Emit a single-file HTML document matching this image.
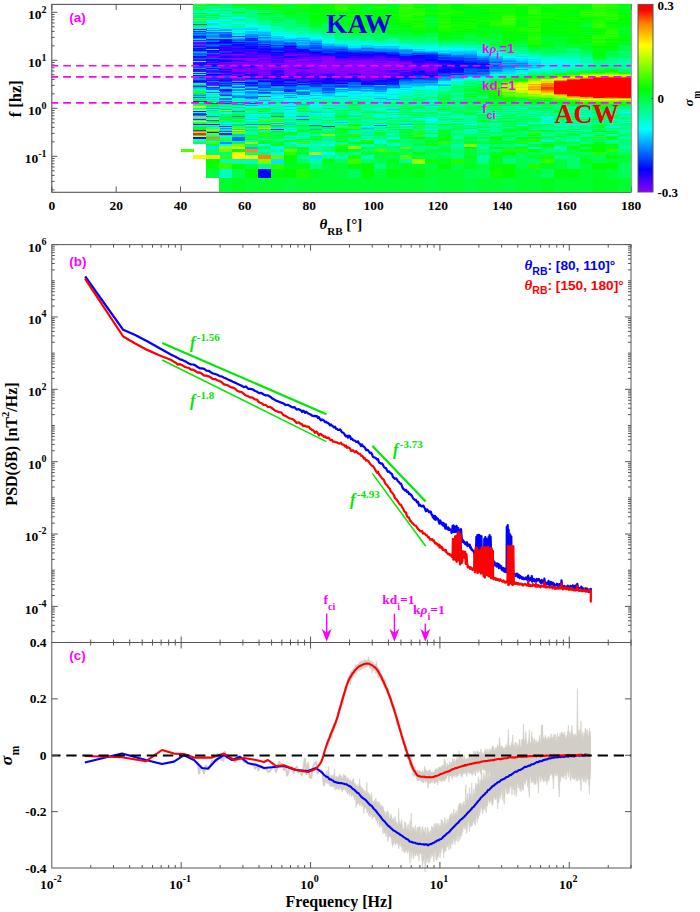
<!DOCTYPE html>
<html><head><meta charset="utf-8"><title>fig</title>
<style>html,body{margin:0;padding:0;background:#fff}svg{display:block}text{white-space:pre}</style>
</head><body>
<svg width="700" height="912" viewBox="0 0 700 912">
<rect width="700" height="912" fill="#fff"/>
<path d="M51.80 192.00v-5.5M51.80 4.40v5.5M116.16 192.00v-5.5M116.16 4.40v5.5M180.51 192.00v-5.5M180.51 4.40v5.5M244.87 192.00v-5.5M244.87 4.40v5.5M309.22 192.00v-5.5M309.22 4.40v5.5M373.58 192.00v-5.5M373.58 4.40v5.5M437.93 192.00v-5.5M437.93 4.40v5.5M502.29 192.00v-5.5M502.29 4.40v5.5M566.64 192.00v-5.5M566.64 4.40v5.5M631.00 192.00v-5.5M631.00 4.40v5.5M51.80 189.85h2.8M51.80 181.40h2.8M51.80 175.40h2.8M51.80 170.75h2.8M51.80 166.95h2.8M51.80 163.74h2.8M51.80 160.95h2.8M51.80 158.50h2.8M51.80 156.30h5.5M51.80 141.85h2.8M51.80 133.40h2.8M51.80 127.40h2.8M51.80 122.75h2.8M51.80 118.95h2.8M51.80 115.74h2.8M51.80 112.95h2.8M51.80 110.50h2.8M51.80 108.30h5.5M51.80 93.85h2.8M51.80 85.40h2.8M51.80 79.40h2.8M51.80 74.75h2.8M51.80 70.95h2.8M51.80 67.74h2.8M51.80 64.95h2.8M51.80 62.50h2.8M51.80 60.30h5.5M51.80 45.85h2.8M51.80 37.40h2.8M51.80 31.40h2.8M51.80 26.75h2.8M51.80 22.95h2.8M51.80 19.74h2.8M51.80 16.95h2.8M51.80 14.50h2.8M51.80 12.30h5.5" stroke="#555555" stroke-width="1" fill="none"/>
<rect x="51.80" y="4.40" width="579.20" height="187.90" fill="none" stroke="#555555" stroke-width="1.1"/>
<g shape-rendering="crispEdges"><path fill="#fff700" d="M193.4 154.7h13.2v4.1h-13.2zM232.0 154.7h13.2v4.1h-13.2zM515.2 88.8h13.2v1.3h-13.2zM592.4 98.8h13.2v1.3h-13.2zM618.1 98.8h13.2v1.3h-13.2z"/><path fill="#00ff68" d="M193.4 142.1h13.2v2.3h-13.2zM193.4 18.8h13.2v1.3h-13.2zM206.3 151.5h13.2v3.5h-13.2zM206.3 148.7h13.2v3.1h-13.2zM206.3 111.8h13.2v1.3h-13.2zM206.3 93.8h13.2v1.3h-13.2zM206.3 7.8h13.2v1.3h-13.2zM206.3 6.8h13.2v1.3h-13.2zM219.1 113.8h13.2v1.3h-13.2zM219.1 95.8h13.2v1.3h-13.2zM219.1 5.8h13.2v1.3h-13.2zM232.0 119.8h13.2v1.3h-13.2zM232.0 111.8h13.2v1.3h-13.2zM232.0 19.8h13.2v1.3h-13.2zM244.9 137.0h13.2v1.8h-13.2zM244.9 122.8h13.2v1.3h-13.2zM244.9 107.8h13.2v1.3h-13.2zM244.9 15.8h13.2v1.3h-13.2zM244.9 10.8h13.2v1.3h-13.2zM257.7 16.8h13.2v1.3h-13.2zM257.7 15.8h13.2v1.3h-13.2zM270.6 140.2h13.2v2.1h-13.2zM270.6 23.8h13.2v1.3h-13.2zM283.5 118.8h13.2v1.3h-13.2zM283.5 22.8h13.2v1.3h-13.2zM296.4 158.5h13.2v5.0h-13.2zM296.4 106.8h13.2v1.3h-13.2zM296.4 105.8h13.2v1.3h-13.2zM296.4 23.8h13.2v1.3h-13.2zM309.2 133.0h13.2v1.6h-13.2zM309.2 126.8h13.2v1.3h-13.2zM309.2 29.8h13.2v1.3h-13.2zM322.1 148.7h13.2v3.1h-13.2zM322.1 135.6h13.2v1.7h-13.2zM322.1 133.0h13.2v1.6h-13.2zM322.1 31.8h13.2v1.3h-13.2zM322.1 27.8h13.2v1.3h-13.2zM335.0 151.5h13.2v3.5h-13.2zM335.0 134.2h13.2v1.6h-13.2zM335.0 123.8h13.2v1.3h-13.2zM335.0 112.8h13.2v1.3h-13.2zM335.0 28.8h13.2v1.3h-13.2zM347.8 137.0h13.2v1.8h-13.2zM347.8 119.8h13.2v1.3h-13.2zM347.8 114.8h13.2v1.3h-13.2zM347.8 109.8h13.2v1.3h-13.2zM347.8 106.8h13.2v1.3h-13.2zM360.7 158.5h13.2v5.0h-13.2zM360.7 148.7h13.2v3.1h-13.2zM360.7 131.8h13.2v1.5h-13.2zM360.7 124.8h13.2v1.3h-13.2zM360.7 117.8h13.2v1.3h-13.2zM360.7 35.8h13.2v1.3h-13.2zM373.6 129.8h13.2v1.3h-13.2zM373.6 110.8h13.2v1.3h-13.2zM373.6 38.8h13.2v1.3h-13.2zM373.6 34.8h13.2v1.3h-13.2zM386.4 138.6h13.2v2.0h-13.2zM386.4 135.6h13.2v1.7h-13.2zM386.4 122.8h13.2v1.3h-13.2zM399.3 142.1h13.2v2.3h-13.2zM399.3 125.8h13.2v1.3h-13.2zM399.3 122.8h13.2v1.3h-13.2zM399.3 110.8h13.2v1.3h-13.2zM412.2 148.7h13.2v3.1h-13.2zM412.2 127.8h13.2v1.3h-13.2zM412.2 119.8h13.2v1.3h-13.2zM412.2 112.8h13.2v1.3h-13.2zM412.2 107.8h13.2v1.3h-13.2zM412.2 99.8h13.2v1.3h-13.2zM412.2 37.8h13.2v1.3h-13.2zM425.1 114.8h13.2v1.3h-13.2zM425.1 103.8h13.2v1.3h-13.2zM425.1 38.8h13.2v1.3h-13.2zM425.1 37.8h13.2v1.3h-13.2zM437.9 144.0h13.2v2.5h-13.2zM437.9 116.8h13.2v1.3h-13.2zM437.9 106.8h13.2v1.3h-13.2zM437.9 105.8h13.2v1.3h-13.2zM437.9 93.8h13.2v1.3h-13.2zM437.9 92.8h13.2v1.3h-13.2zM437.9 42.8h13.2v1.3h-13.2zM450.8 151.5h13.2v3.5h-13.2zM450.8 148.7h13.2v3.1h-13.2zM450.8 142.1h13.2v2.3h-13.2zM450.8 133.0h13.2v1.6h-13.2zM450.8 126.8h13.2v1.3h-13.2zM450.8 120.8h13.2v1.3h-13.2zM450.8 112.8h13.2v1.3h-13.2zM450.8 109.8h13.2v1.3h-13.2zM450.8 99.8h13.2v1.3h-13.2zM450.8 42.8h13.2v1.3h-13.2zM463.7 135.6h13.2v1.7h-13.2zM463.7 134.2h13.2v1.6h-13.2zM463.7 109.8h13.2v1.3h-13.2zM463.7 104.8h13.2v1.3h-13.2zM463.7 97.8h13.2v1.3h-13.2zM463.7 96.8h13.2v1.3h-13.2zM463.7 91.8h13.2v1.3h-13.2zM463.7 83.8h13.2v1.3h-13.2zM463.7 42.8h13.2v1.3h-13.2zM476.5 148.7h13.2v3.1h-13.2zM476.5 121.8h13.2v1.3h-13.2zM476.5 118.8h13.2v1.3h-13.2zM476.5 109.8h13.2v1.3h-13.2zM476.5 85.8h13.2v1.3h-13.2zM476.5 80.8h13.2v1.3h-13.2zM489.4 112.8h13.2v1.3h-13.2zM489.4 105.8h13.2v1.3h-13.2zM489.4 46.8h13.2v1.3h-13.2zM489.4 45.8h13.2v1.3h-13.2zM502.3 116.8h13.2v1.3h-13.2zM502.3 115.8h13.2v1.3h-13.2zM502.3 101.8h13.2v1.3h-13.2zM502.3 49.8h13.2v1.3h-13.2zM515.2 122.8h13.2v1.3h-13.2zM515.2 113.8h13.2v1.3h-13.2zM515.2 112.8h13.2v1.3h-13.2zM515.2 102.8h13.2v1.3h-13.2zM515.2 100.8h13.2v1.3h-13.2zM515.2 49.8h13.2v1.3h-13.2zM515.2 46.8h13.2v1.3h-13.2zM528.0 130.8h13.2v1.3h-13.2zM528.0 126.8h13.2v1.3h-13.2zM528.0 115.8h13.2v1.3h-13.2zM528.0 109.8h13.2v1.3h-13.2zM528.0 51.8h13.2v1.3h-13.2zM528.0 50.8h13.2v1.3h-13.2zM540.9 131.8h13.2v1.5h-13.2zM540.9 127.8h13.2v1.3h-13.2zM540.9 114.8h13.2v1.3h-13.2zM540.9 111.8h13.2v1.3h-13.2zM540.9 72.8h13.2v1.3h-13.2zM540.9 52.8h13.2v1.3h-13.2zM553.8 140.2h13.2v2.1h-13.2zM553.8 138.6h13.2v2.0h-13.2zM553.8 126.8h13.2v1.3h-13.2zM553.8 117.8h13.2v1.3h-13.2zM553.8 108.8h13.2v1.3h-13.2zM553.8 107.8h13.2v1.3h-13.2zM553.8 106.8h13.2v1.3h-13.2zM566.6 163.1h13.2v6.3h-13.2zM566.6 158.5h13.2v5.0h-13.2zM566.6 154.7h13.2v4.1h-13.2zM566.6 144.0h13.2v2.5h-13.2zM566.6 122.8h13.2v1.3h-13.2zM566.6 116.8h13.2v1.3h-13.2zM566.6 47.8h13.2v1.3h-13.2zM579.5 146.2h13.2v2.8h-13.2zM579.5 131.8h13.2v1.5h-13.2zM579.5 127.8h13.2v1.3h-13.2zM579.5 120.8h13.2v1.3h-13.2zM579.5 106.8h13.2v1.3h-13.2zM579.5 53.8h13.2v1.3h-13.2zM579.5 52.8h13.2v1.3h-13.2zM592.4 114.8h13.2v1.3h-13.2zM592.4 112.8h13.2v1.3h-13.2zM592.4 65.8h13.2v1.3h-13.2zM605.3 107.8h13.2v1.3h-13.2zM605.3 106.8h13.2v1.3h-13.2zM605.3 67.8h13.2v1.3h-13.2zM605.3 56.8h13.2v1.3h-13.2zM618.1 140.2h13.2v2.1h-13.2zM618.1 127.8h13.2v1.3h-13.2zM618.1 123.8h13.2v1.3h-13.2zM618.1 107.8h13.2v1.3h-13.2zM618.1 68.8h13.2v1.3h-13.2zM618.1 53.8h13.2v1.3h-13.2zM618.1 51.8h13.2v1.3h-13.2zM618.1 50.8h13.2v1.3h-13.2z"/><path fill="#53ff00" d="M193.4 140.2h13.2v2.1h-13.2zM193.4 17.8h13.2v1.3h-13.2zM232.0 133.0h13.2v1.6h-13.2zM257.7 126.8h13.2v1.3h-13.2zM257.7 119.8h13.2v1.3h-13.2zM335.0 125.8h13.2v1.3h-13.2zM399.3 154.7h13.2v4.1h-13.2zM399.3 146.2h13.2v2.8h-13.2zM502.3 94.8h13.2v1.3h-13.2zM502.3 18.8h13.2v1.3h-13.2zM528.0 97.8h13.2v1.3h-13.2zM553.8 98.8h13.2v1.3h-13.2zM566.6 74.8h13.2v1.3h-13.2z"/><path fill="#00fffc" d="M193.4 138.6h13.2v2.0h-13.2zM193.4 111.8h13.2v1.3h-13.2zM193.4 73.8h13.2v1.3h-13.2zM206.3 126.8h13.2v1.3h-13.2zM206.3 117.8h13.2v1.3h-13.2zM206.3 85.8h13.2v1.3h-13.2zM206.3 28.8h13.2v1.3h-13.2zM206.3 26.8h13.2v1.3h-13.2zM206.3 25.8h13.2v1.3h-13.2zM206.3 21.8h13.2v1.3h-13.2zM206.3 11.8h13.2v1.3h-13.2zM219.1 111.8h13.2v1.3h-13.2zM232.0 16.8h13.2v1.3h-13.2zM244.9 110.8h13.2v1.3h-13.2zM244.9 29.8h13.2v1.3h-13.2zM244.9 25.8h13.2v1.3h-13.2zM257.7 144.0h13.2v2.5h-13.2zM257.7 111.8h13.2v1.3h-13.2zM257.7 106.8h13.2v1.3h-13.2zM270.6 96.8h13.2v1.3h-13.2zM270.6 34.8h13.2v1.3h-13.2zM283.5 114.8h13.2v1.3h-13.2zM283.5 35.8h13.2v1.3h-13.2zM283.5 34.8h13.2v1.3h-13.2zM309.2 105.8h13.2v1.3h-13.2zM309.2 95.8h13.2v1.3h-13.2zM309.2 93.8h13.2v1.3h-13.2zM309.2 36.8h13.2v1.3h-13.2zM322.1 113.8h13.2v1.3h-13.2zM322.1 112.8h13.2v1.3h-13.2zM322.1 41.8h13.2v1.3h-13.2zM335.0 92.8h13.2v1.3h-13.2zM335.0 87.8h13.2v1.3h-13.2zM347.8 91.8h13.2v1.3h-13.2zM360.7 97.8h13.2v1.3h-13.2zM360.7 93.8h13.2v1.3h-13.2zM373.6 44.8h13.2v1.3h-13.2zM386.4 112.8h13.2v1.3h-13.2zM386.4 110.8h13.2v1.3h-13.2zM386.4 95.8h13.2v1.3h-13.2zM386.4 91.8h13.2v1.3h-13.2zM386.4 43.8h13.2v1.3h-13.2zM399.3 124.8h13.2v1.3h-13.2zM399.3 87.8h13.2v1.3h-13.2zM412.2 47.8h13.2v1.3h-13.2zM425.1 119.8h13.2v1.3h-13.2zM425.1 118.8h13.2v1.3h-13.2zM425.1 87.8h13.2v1.3h-13.2zM425.1 86.8h13.2v1.3h-13.2zM425.1 85.8h13.2v1.3h-13.2zM425.1 48.8h13.2v1.3h-13.2zM437.9 115.8h13.2v1.3h-13.2zM437.9 82.8h13.2v1.3h-13.2zM437.9 48.8h13.2v1.3h-13.2zM450.8 47.8h13.2v1.3h-13.2zM463.7 76.8h13.2v1.3h-13.2zM489.4 54.8h13.2v1.3h-13.2zM502.3 56.8h13.2v1.3h-13.2zM502.3 55.8h13.2v1.3h-13.2zM515.2 124.8h13.2v1.3h-13.2zM515.2 71.8h13.2v1.3h-13.2zM515.2 56.8h13.2v1.3h-13.2zM528.0 68.8h13.2v1.3h-13.2zM540.9 67.8h13.2v1.3h-13.2zM540.9 63.8h13.2v1.3h-13.2zM553.8 67.8h13.2v1.3h-13.2zM553.8 61.8h13.2v1.3h-13.2zM553.8 59.8h13.2v1.3h-13.2zM618.1 111.8h13.2v1.3h-13.2z"/><path fill="#0015ff" d="M193.4 137.0h13.2v1.8h-13.2zM193.4 110.8h13.2v1.3h-13.2zM193.4 68.8h13.2v1.3h-13.2zM193.4 63.8h13.2v1.3h-13.2zM193.4 47.8h13.2v1.3h-13.2zM193.4 35.8h13.2v1.3h-13.2zM193.4 30.8h13.2v1.3h-13.2zM193.4 28.8h13.2v1.3h-13.2zM206.3 131.8h13.2v1.5h-13.2zM206.3 79.8h13.2v1.3h-13.2zM206.3 42.8h13.2v1.3h-13.2zM219.1 88.8h13.2v1.3h-13.2zM219.1 55.8h13.2v1.3h-13.2zM219.1 46.8h13.2v1.3h-13.2zM219.1 44.8h13.2v1.3h-13.2zM232.0 44.8h13.2v1.3h-13.2zM244.9 84.8h13.2v1.3h-13.2zM244.9 81.8h13.2v1.3h-13.2zM244.9 39.8h13.2v1.3h-13.2zM257.7 47.8h13.2v1.3h-13.2zM270.6 54.8h13.2v1.3h-13.2zM296.4 83.8h13.2v1.3h-13.2zM296.4 81.8h13.2v1.3h-13.2zM322.1 82.8h13.2v1.3h-13.2zM322.1 52.8h13.2v1.3h-13.2zM335.0 54.8h13.2v1.3h-13.2zM335.0 53.8h13.2v1.3h-13.2zM335.0 51.8h13.2v1.3h-13.2zM347.8 79.8h13.2v1.3h-13.2zM360.7 83.8h13.2v1.3h-13.2zM360.7 80.8h13.2v1.3h-13.2zM360.7 51.8h13.2v1.3h-13.2zM373.6 82.8h13.2v1.3h-13.2zM386.4 82.8h13.2v1.3h-13.2zM386.4 80.8h13.2v1.3h-13.2zM386.4 79.8h13.2v1.3h-13.2zM386.4 53.8h13.2v1.3h-13.2zM399.3 77.8h13.2v1.3h-13.2zM399.3 56.8h13.2v1.3h-13.2zM399.3 55.8h13.2v1.3h-13.2zM412.2 73.8h13.2v1.3h-13.2zM412.2 72.8h13.2v1.3h-13.2zM412.2 57.8h13.2v1.3h-13.2zM425.1 57.8h13.2v1.3h-13.2zM425.1 56.8h13.2v1.3h-13.2zM425.1 55.8h13.2v1.3h-13.2zM425.1 54.8h13.2v1.3h-13.2zM437.9 69.8h13.2v1.3h-13.2zM450.8 73.8h13.2v1.3h-13.2zM450.8 71.8h13.2v1.3h-13.2zM450.8 70.8h13.2v1.3h-13.2zM450.8 65.8h13.2v1.3h-13.2zM450.8 63.8h13.2v1.3h-13.2zM463.7 66.8h13.2v1.3h-13.2zM463.7 63.8h13.2v1.3h-13.2zM476.5 67.8h13.2v1.3h-13.2zM476.5 66.8h13.2v1.3h-13.2zM476.5 65.8h13.2v1.3h-13.2z"/><path fill="#deff00" d="M193.4 135.6h13.2v1.7h-13.2zM257.7 127.8h13.2v1.3h-13.2zM515.2 90.8h13.2v1.3h-13.2zM515.2 83.8h13.2v1.3h-13.2zM528.0 81.8h13.2v1.3h-13.2zM540.9 93.8h13.2v1.3h-13.2z"/><path fill="#0eff00" d="M193.4 134.2h13.2v1.6h-13.2zM193.4 92.8h13.2v1.3h-13.2zM206.3 163.1h13.2v6.3h-13.2zM206.3 130.8h13.2v1.3h-13.2zM206.3 104.8h13.2v1.3h-13.2zM206.3 100.8h13.2v1.3h-13.2zM257.7 4.8h13.2v1.3h-13.2zM270.6 144.0h13.2v2.5h-13.2zM296.4 146.2h13.2v2.8h-13.2zM296.4 129.8h13.2v1.3h-13.2zM296.4 110.8h13.2v1.3h-13.2zM296.4 7.8h13.2v1.3h-13.2zM296.4 6.8h13.2v1.3h-13.2zM296.4 5.8h13.2v1.3h-13.2zM309.2 12.8h13.2v1.3h-13.2zM309.2 8.8h13.2v1.3h-13.2zM322.1 9.8h13.2v1.3h-13.2zM322.1 7.8h13.2v1.3h-13.2zM322.1 6.8h13.2v1.3h-13.2zM322.1 5.8h13.2v1.3h-13.2zM322.1 4.8h13.2v1.3h-13.2zM335.0 140.2h13.2v2.1h-13.2zM335.0 135.6h13.2v1.7h-13.2zM347.8 135.6h13.2v1.7h-13.2zM347.8 124.8h13.2v1.3h-13.2zM347.8 118.8h13.2v1.3h-13.2zM347.8 27.8h13.2v1.3h-13.2zM347.8 25.8h13.2v1.3h-13.2zM347.8 21.8h13.2v1.3h-13.2zM347.8 16.8h13.2v1.3h-13.2zM347.8 12.8h13.2v1.3h-13.2zM347.8 10.8h13.2v1.3h-13.2zM347.8 9.8h13.2v1.3h-13.2zM347.8 7.8h13.2v1.3h-13.2zM347.8 6.8h13.2v1.3h-13.2zM347.8 4.8h13.2v1.3h-13.2zM347.8 4.4h13.2v0.7h-13.2zM360.7 20.8h13.2v1.3h-13.2zM360.7 18.8h13.2v1.3h-13.2zM360.7 13.8h13.2v1.3h-13.2zM373.6 17.8h13.2v1.3h-13.2zM373.6 8.8h13.2v1.3h-13.2zM373.6 7.8h13.2v1.3h-13.2zM373.6 4.4h13.2v0.7h-13.2zM386.4 17.8h13.2v1.3h-13.2zM386.4 14.8h13.2v1.3h-13.2zM399.3 26.8h13.2v1.3h-13.2zM399.3 23.8h13.2v1.3h-13.2zM399.3 21.8h13.2v1.3h-13.2zM399.3 19.8h13.2v1.3h-13.2zM412.2 28.8h13.2v1.3h-13.2zM412.2 27.8h13.2v1.3h-13.2zM412.2 23.8h13.2v1.3h-13.2zM412.2 21.8h13.2v1.3h-13.2zM412.2 16.8h13.2v1.3h-13.2zM412.2 5.8h13.2v1.3h-13.2zM412.2 4.4h13.2v0.7h-13.2zM425.1 158.5h13.2v5.0h-13.2zM425.1 144.0h13.2v2.5h-13.2zM425.1 11.8h13.2v1.3h-13.2zM425.1 10.8h13.2v1.3h-13.2zM437.9 30.8h13.2v1.3h-13.2zM437.9 29.8h13.2v1.3h-13.2zM437.9 23.8h13.2v1.3h-13.2zM437.9 19.8h13.2v1.3h-13.2zM437.9 17.8h13.2v1.3h-13.2zM437.9 16.8h13.2v1.3h-13.2zM437.9 14.8h13.2v1.3h-13.2zM437.9 10.8h13.2v1.3h-13.2zM437.9 7.8h13.2v1.3h-13.2zM437.9 6.8h13.2v1.3h-13.2zM450.8 29.8h13.2v1.3h-13.2zM450.8 28.8h13.2v1.3h-13.2zM450.8 27.8h13.2v1.3h-13.2zM450.8 25.8h13.2v1.3h-13.2zM450.8 21.8h13.2v1.3h-13.2zM450.8 13.8h13.2v1.3h-13.2zM450.8 12.8h13.2v1.3h-13.2zM450.8 10.8h13.2v1.3h-13.2zM450.8 9.8h13.2v1.3h-13.2zM463.7 29.8h13.2v1.3h-13.2zM463.7 27.8h13.2v1.3h-13.2zM463.7 25.8h13.2v1.3h-13.2zM463.7 23.8h13.2v1.3h-13.2zM463.7 21.8h13.2v1.3h-13.2zM463.7 17.8h13.2v1.3h-13.2zM463.7 15.8h13.2v1.3h-13.2zM463.7 5.8h13.2v1.3h-13.2zM463.7 4.8h13.2v1.3h-13.2zM476.5 21.8h13.2v1.3h-13.2zM476.5 18.8h13.2v1.3h-13.2zM476.5 16.8h13.2v1.3h-13.2zM476.5 10.8h13.2v1.3h-13.2zM476.5 5.8h13.2v1.3h-13.2zM489.4 169.1h13.2v8.8h-13.2zM489.4 26.8h13.2v1.3h-13.2zM489.4 25.8h13.2v1.3h-13.2zM489.4 19.8h13.2v1.3h-13.2zM489.4 16.8h13.2v1.3h-13.2zM489.4 15.8h13.2v1.3h-13.2zM489.4 13.8h13.2v1.3h-13.2zM489.4 12.8h13.2v1.3h-13.2zM489.4 10.8h13.2v1.3h-13.2zM489.4 8.8h13.2v1.3h-13.2zM489.4 6.8h13.2v1.3h-13.2zM489.4 5.8h13.2v1.3h-13.2zM489.4 4.8h13.2v1.3h-13.2zM489.4 4.4h13.2v0.7h-13.2zM502.3 140.2h13.2v2.1h-13.2zM502.3 98.8h13.2v1.3h-13.2zM502.3 96.8h13.2v1.3h-13.2zM502.3 29.8h13.2v1.3h-13.2zM502.3 28.8h13.2v1.3h-13.2zM502.3 27.8h13.2v1.3h-13.2zM502.3 26.8h13.2v1.3h-13.2zM502.3 12.8h13.2v1.3h-13.2zM502.3 11.8h13.2v1.3h-13.2zM502.3 10.8h13.2v1.3h-13.2zM502.3 9.8h13.2v1.3h-13.2zM502.3 8.8h13.2v1.3h-13.2zM502.3 6.8h13.2v1.3h-13.2zM502.3 5.8h13.2v1.3h-13.2zM502.3 4.8h13.2v1.3h-13.2zM515.2 32.8h13.2v1.3h-13.2zM515.2 30.8h13.2v1.3h-13.2zM515.2 26.8h13.2v1.3h-13.2zM515.2 25.8h13.2v1.3h-13.2zM515.2 19.8h13.2v1.3h-13.2zM515.2 18.8h13.2v1.3h-13.2zM515.2 16.8h13.2v1.3h-13.2zM515.2 15.8h13.2v1.3h-13.2zM515.2 5.8h13.2v1.3h-13.2zM528.0 148.7h13.2v3.1h-13.2zM528.0 129.8h13.2v1.3h-13.2zM528.0 40.8h13.2v1.3h-13.2zM528.0 32.8h13.2v1.3h-13.2zM528.0 31.8h13.2v1.3h-13.2zM528.0 18.8h13.2v1.3h-13.2zM528.0 17.8h13.2v1.3h-13.2zM528.0 14.8h13.2v1.3h-13.2zM528.0 4.8h13.2v1.3h-13.2zM528.0 4.4h13.2v0.7h-13.2zM540.9 154.7h13.2v4.1h-13.2zM540.9 20.8h13.2v1.3h-13.2zM540.9 15.8h13.2v1.3h-13.2zM540.9 14.8h13.2v1.3h-13.2zM540.9 13.8h13.2v1.3h-13.2zM540.9 5.8h13.2v1.3h-13.2zM540.9 4.8h13.2v1.3h-13.2zM553.8 29.8h13.2v1.3h-13.2zM553.8 18.8h13.2v1.3h-13.2zM553.8 16.8h13.2v1.3h-13.2zM553.8 14.8h13.2v1.3h-13.2zM553.8 13.8h13.2v1.3h-13.2zM553.8 11.8h13.2v1.3h-13.2zM553.8 10.8h13.2v1.3h-13.2zM553.8 8.8h13.2v1.3h-13.2zM553.8 7.8h13.2v1.3h-13.2zM553.8 6.8h13.2v1.3h-13.2zM553.8 5.8h13.2v1.3h-13.2zM566.6 146.2h13.2v2.8h-13.2zM566.6 31.8h13.2v1.3h-13.2zM566.6 29.8h13.2v1.3h-13.2zM566.6 27.8h13.2v1.3h-13.2zM566.6 25.8h13.2v1.3h-13.2zM566.6 17.8h13.2v1.3h-13.2zM566.6 16.8h13.2v1.3h-13.2zM566.6 14.8h13.2v1.3h-13.2zM566.6 7.8h13.2v1.3h-13.2zM566.6 6.8h13.2v1.3h-13.2zM566.6 5.8h13.2v1.3h-13.2zM566.6 4.8h13.2v1.3h-13.2zM579.5 102.8h13.2v1.3h-13.2zM579.5 39.8h13.2v1.3h-13.2zM579.5 38.8h13.2v1.3h-13.2zM579.5 36.8h13.2v1.3h-13.2zM579.5 20.8h13.2v1.3h-13.2zM579.5 19.8h13.2v1.3h-13.2zM579.5 16.8h13.2v1.3h-13.2zM579.5 8.8h13.2v1.3h-13.2zM592.4 134.2h13.2v1.6h-13.2zM592.4 126.8h13.2v1.3h-13.2zM592.4 106.8h13.2v1.3h-13.2zM592.4 49.8h13.2v1.3h-13.2zM592.4 44.8h13.2v1.3h-13.2zM592.4 42.8h13.2v1.3h-13.2zM592.4 38.8h13.2v1.3h-13.2zM592.4 33.8h13.2v1.3h-13.2zM592.4 31.8h13.2v1.3h-13.2zM592.4 28.8h13.2v1.3h-13.2zM592.4 27.8h13.2v1.3h-13.2zM592.4 17.8h13.2v1.3h-13.2zM592.4 16.8h13.2v1.3h-13.2zM605.3 137.0h13.2v1.8h-13.2zM605.3 133.0h13.2v1.6h-13.2zM605.3 43.8h13.2v1.3h-13.2zM605.3 41.8h13.2v1.3h-13.2zM605.3 26.8h13.2v1.3h-13.2zM605.3 25.8h13.2v1.3h-13.2zM605.3 24.8h13.2v1.3h-13.2zM605.3 23.8h13.2v1.3h-13.2zM605.3 19.8h13.2v1.3h-13.2zM605.3 9.8h13.2v1.3h-13.2zM605.3 8.8h13.2v1.3h-13.2zM618.1 20.8h13.2v1.3h-13.2zM618.1 15.8h13.2v1.3h-13.2zM618.1 14.8h13.2v1.3h-13.2z"/><path fill="#ff2500" d="M193.4 133.0h13.2v1.6h-13.2z"/><path fill="#ffc200" d="M193.4 131.8h13.2v1.5h-13.2zM540.9 91.8h13.2v1.3h-13.2zM579.5 76.8h13.2v1.3h-13.2z"/><path fill="#00d5ff" d="M193.4 130.8h13.2v1.3h-13.2zM193.4 87.8h13.2v1.3h-13.2zM193.4 16.8h13.2v1.3h-13.2zM206.3 98.8h13.2v1.3h-13.2zM206.3 23.8h13.2v1.3h-13.2zM206.3 22.8h13.2v1.3h-13.2zM219.1 116.8h13.2v1.3h-13.2zM219.1 37.8h13.2v1.3h-13.2zM232.0 102.8h13.2v1.3h-13.2zM232.0 33.8h13.2v1.3h-13.2zM232.0 28.8h13.2v1.3h-13.2zM232.0 27.8h13.2v1.3h-13.2zM244.9 118.8h13.2v1.3h-13.2zM244.9 101.8h13.2v1.3h-13.2zM244.9 100.8h13.2v1.3h-13.2zM244.9 86.8h13.2v1.3h-13.2zM244.9 32.8h13.2v1.3h-13.2zM244.9 27.8h13.2v1.3h-13.2zM257.7 103.8h13.2v1.3h-13.2zM257.7 35.8h13.2v1.3h-13.2zM270.6 130.8h13.2v1.3h-13.2zM270.6 97.8h13.2v1.3h-13.2zM270.6 93.8h13.2v1.3h-13.2zM270.6 91.8h13.2v1.3h-13.2zM270.6 38.8h13.2v1.3h-13.2zM270.6 36.8h13.2v1.3h-13.2zM283.5 108.8h13.2v1.3h-13.2zM296.4 98.8h13.2v1.3h-13.2zM296.4 38.8h13.2v1.3h-13.2zM309.2 111.8h13.2v1.3h-13.2zM309.2 97.8h13.2v1.3h-13.2zM309.2 92.8h13.2v1.3h-13.2zM309.2 91.8h13.2v1.3h-13.2zM322.1 93.8h13.2v1.3h-13.2zM347.8 92.8h13.2v1.3h-13.2zM360.7 88.8h13.2v1.3h-13.2zM360.7 45.8h13.2v1.3h-13.2zM360.7 44.8h13.2v1.3h-13.2zM373.6 92.8h13.2v1.3h-13.2zM373.6 46.8h13.2v1.3h-13.2zM386.4 87.8h13.2v1.3h-13.2zM386.4 46.8h13.2v1.3h-13.2zM399.3 85.8h13.2v1.3h-13.2zM399.3 84.8h13.2v1.3h-13.2zM412.2 85.8h13.2v1.3h-13.2zM412.2 48.8h13.2v1.3h-13.2zM425.1 104.8h13.2v1.3h-13.2zM425.1 84.8h13.2v1.3h-13.2zM437.9 83.8h13.2v1.3h-13.2zM437.9 50.8h13.2v1.3h-13.2zM450.8 50.8h13.2v1.3h-13.2zM463.7 50.8h13.2v1.3h-13.2zM476.5 75.8h13.2v1.3h-13.2zM489.4 72.8h13.2v1.3h-13.2zM489.4 71.8h13.2v1.3h-13.2zM489.4 55.8h13.2v1.3h-13.2zM502.3 72.8h13.2v1.3h-13.2zM502.3 70.8h13.2v1.3h-13.2zM502.3 58.8h13.2v1.3h-13.2zM502.3 57.8h13.2v1.3h-13.2zM515.2 59.8h13.2v1.3h-13.2zM528.0 62.8h13.2v1.3h-13.2z"/><path fill="#ff0000" d="M193.4 129.8h13.2v1.3h-13.2zM553.8 92.8h13.2v1.3h-13.2zM553.8 91.8h13.2v1.3h-13.2zM553.8 90.8h13.2v1.3h-13.2zM553.8 89.8h13.2v1.3h-13.2zM553.8 88.8h13.2v1.3h-13.2zM553.8 87.8h13.2v1.3h-13.2zM553.8 86.8h13.2v1.3h-13.2zM553.8 85.8h13.2v1.3h-13.2zM553.8 84.8h13.2v1.3h-13.2zM553.8 83.8h13.2v1.3h-13.2zM553.8 82.8h13.2v1.3h-13.2zM553.8 81.8h13.2v1.3h-13.2zM566.6 94.8h13.2v1.3h-13.2zM566.6 93.8h13.2v1.3h-13.2zM566.6 92.8h13.2v1.3h-13.2zM566.6 91.8h13.2v1.3h-13.2zM566.6 90.8h13.2v1.3h-13.2zM566.6 89.8h13.2v1.3h-13.2zM566.6 88.8h13.2v1.3h-13.2zM566.6 87.8h13.2v1.3h-13.2zM566.6 86.8h13.2v1.3h-13.2zM566.6 85.8h13.2v1.3h-13.2zM566.6 84.8h13.2v1.3h-13.2zM566.6 83.8h13.2v1.3h-13.2zM566.6 82.8h13.2v1.3h-13.2zM566.6 81.8h13.2v1.3h-13.2zM566.6 80.8h13.2v1.3h-13.2zM566.6 79.8h13.2v1.3h-13.2zM579.5 94.8h13.2v1.3h-13.2zM579.5 93.8h13.2v1.3h-13.2zM579.5 92.8h13.2v1.3h-13.2zM579.5 91.8h13.2v1.3h-13.2zM579.5 90.8h13.2v1.3h-13.2zM579.5 89.8h13.2v1.3h-13.2zM579.5 88.8h13.2v1.3h-13.2zM579.5 87.8h13.2v1.3h-13.2zM579.5 86.8h13.2v1.3h-13.2zM579.5 85.8h13.2v1.3h-13.2zM579.5 84.8h13.2v1.3h-13.2zM579.5 83.8h13.2v1.3h-13.2zM579.5 82.8h13.2v1.3h-13.2zM579.5 81.8h13.2v1.3h-13.2zM579.5 80.8h13.2v1.3h-13.2zM579.5 79.8h13.2v1.3h-13.2zM579.5 78.8h13.2v1.3h-13.2zM592.4 96.8h13.2v1.3h-13.2zM592.4 95.8h13.2v1.3h-13.2zM592.4 94.8h13.2v1.3h-13.2zM592.4 93.8h13.2v1.3h-13.2zM592.4 92.8h13.2v1.3h-13.2zM592.4 91.8h13.2v1.3h-13.2zM592.4 90.8h13.2v1.3h-13.2zM592.4 89.8h13.2v1.3h-13.2zM592.4 88.8h13.2v1.3h-13.2zM592.4 87.8h13.2v1.3h-13.2zM592.4 86.8h13.2v1.3h-13.2zM592.4 85.8h13.2v1.3h-13.2zM592.4 84.8h13.2v1.3h-13.2zM592.4 83.8h13.2v1.3h-13.2zM592.4 82.8h13.2v1.3h-13.2zM592.4 81.8h13.2v1.3h-13.2zM592.4 80.8h13.2v1.3h-13.2zM592.4 79.8h13.2v1.3h-13.2zM592.4 78.8h13.2v1.3h-13.2zM592.4 77.8h13.2v1.3h-13.2zM605.3 95.8h13.2v1.3h-13.2zM605.3 94.8h13.2v1.3h-13.2zM605.3 93.8h13.2v1.3h-13.2zM605.3 92.8h13.2v1.3h-13.2zM605.3 91.8h13.2v1.3h-13.2zM605.3 90.8h13.2v1.3h-13.2zM605.3 89.8h13.2v1.3h-13.2zM605.3 88.8h13.2v1.3h-13.2zM605.3 87.8h13.2v1.3h-13.2zM605.3 86.8h13.2v1.3h-13.2zM605.3 85.8h13.2v1.3h-13.2zM605.3 84.8h13.2v1.3h-13.2zM605.3 83.8h13.2v1.3h-13.2zM605.3 82.8h13.2v1.3h-13.2zM605.3 81.8h13.2v1.3h-13.2zM605.3 80.8h13.2v1.3h-13.2zM605.3 79.8h13.2v1.3h-13.2zM605.3 78.8h13.2v1.3h-13.2zM605.3 77.8h13.2v1.3h-13.2zM618.1 95.8h13.2v1.3h-13.2zM618.1 94.8h13.2v1.3h-13.2zM618.1 93.8h13.2v1.3h-13.2zM618.1 92.8h13.2v1.3h-13.2zM618.1 91.8h13.2v1.3h-13.2zM618.1 90.8h13.2v1.3h-13.2zM618.1 89.8h13.2v1.3h-13.2zM618.1 88.8h13.2v1.3h-13.2zM618.1 87.8h13.2v1.3h-13.2zM618.1 86.8h13.2v1.3h-13.2zM618.1 85.8h13.2v1.3h-13.2zM618.1 84.8h13.2v1.3h-13.2zM618.1 83.8h13.2v1.3h-13.2zM618.1 82.8h13.2v1.3h-13.2zM618.1 81.8h13.2v1.3h-13.2zM618.1 80.8h13.2v1.3h-13.2zM618.1 79.8h13.2v1.3h-13.2zM618.1 78.8h13.2v1.3h-13.2zM618.1 77.8h13.2v1.3h-13.2z"/><path fill="#00ff0f" d="M193.4 128.8h13.2v1.3h-13.2zM193.4 126.8h13.2v1.3h-13.2zM193.4 98.8h13.2v1.3h-13.2zM193.4 12.8h13.2v1.3h-13.2zM206.3 120.8h13.2v1.3h-13.2zM206.3 14.8h13.2v1.3h-13.2zM206.3 4.4h13.2v0.7h-13.2zM219.1 134.2h13.2v1.6h-13.2zM232.0 148.7h13.2v3.1h-13.2zM232.0 135.6h13.2v1.7h-13.2zM232.0 120.8h13.2v1.3h-13.2zM232.0 117.8h13.2v1.3h-13.2zM232.0 116.8h13.2v1.3h-13.2zM232.0 106.8h13.2v1.3h-13.2zM232.0 11.8h13.2v1.3h-13.2zM232.0 6.8h13.2v1.3h-13.2zM244.9 129.8h13.2v1.3h-13.2zM244.9 4.4h13.2v0.7h-13.2zM257.7 107.8h13.2v1.3h-13.2zM270.6 169.1h13.2v8.8h-13.2zM270.6 131.8h13.2v1.5h-13.2zM270.6 114.8h13.2v1.3h-13.2zM270.6 101.8h13.2v1.3h-13.2zM270.6 11.8h13.2v1.3h-13.2zM283.5 158.5h13.2v5.0h-13.2zM283.5 121.8h13.2v1.3h-13.2zM283.5 11.8h13.2v1.3h-13.2zM283.5 8.8h13.2v1.3h-13.2zM296.4 9.8h13.2v1.3h-13.2zM309.2 138.6h13.2v2.0h-13.2zM309.2 20.8h13.2v1.3h-13.2zM309.2 17.8h13.2v1.3h-13.2zM309.2 15.8h13.2v1.3h-13.2zM309.2 14.8h13.2v1.3h-13.2zM309.2 10.8h13.2v1.3h-13.2zM309.2 6.8h13.2v1.3h-13.2zM309.2 5.8h13.2v1.3h-13.2zM309.2 4.4h13.2v0.7h-13.2zM322.1 158.5h13.2v5.0h-13.2zM322.1 18.8h13.2v1.3h-13.2zM322.1 16.8h13.2v1.3h-13.2zM322.1 14.8h13.2v1.3h-13.2zM322.1 10.8h13.2v1.3h-13.2zM322.1 4.4h13.2v0.7h-13.2zM335.0 19.8h13.2v1.3h-13.2zM335.0 18.8h13.2v1.3h-13.2zM335.0 15.8h13.2v1.3h-13.2zM335.0 13.8h13.2v1.3h-13.2zM347.8 163.1h13.2v6.3h-13.2zM347.8 123.8h13.2v1.3h-13.2zM347.8 30.8h13.2v1.3h-13.2zM347.8 28.8h13.2v1.3h-13.2zM347.8 23.8h13.2v1.3h-13.2zM347.8 20.8h13.2v1.3h-13.2zM360.7 26.8h13.2v1.3h-13.2zM360.7 25.8h13.2v1.3h-13.2zM360.7 22.8h13.2v1.3h-13.2zM360.7 17.8h13.2v1.3h-13.2zM360.7 15.8h13.2v1.3h-13.2zM360.7 10.8h13.2v1.3h-13.2zM373.6 28.8h13.2v1.3h-13.2zM373.6 22.8h13.2v1.3h-13.2zM373.6 16.8h13.2v1.3h-13.2zM373.6 14.8h13.2v1.3h-13.2zM386.4 169.1h13.2v8.8h-13.2zM386.4 158.5h13.2v5.0h-13.2zM386.4 31.8h13.2v1.3h-13.2zM386.4 29.8h13.2v1.3h-13.2zM386.4 21.8h13.2v1.3h-13.2zM386.4 16.8h13.2v1.3h-13.2zM386.4 15.8h13.2v1.3h-13.2zM386.4 11.8h13.2v1.3h-13.2zM386.4 10.8h13.2v1.3h-13.2zM386.4 9.8h13.2v1.3h-13.2zM386.4 8.8h13.2v1.3h-13.2zM386.4 6.8h13.2v1.3h-13.2zM399.3 30.8h13.2v1.3h-13.2zM399.3 29.8h13.2v1.3h-13.2zM412.2 169.1h13.2v8.8h-13.2zM412.2 137.0h13.2v1.8h-13.2zM412.2 123.8h13.2v1.3h-13.2zM412.2 31.8h13.2v1.3h-13.2zM412.2 30.8h13.2v1.3h-13.2zM412.2 15.8h13.2v1.3h-13.2zM425.1 30.8h13.2v1.3h-13.2zM425.1 29.8h13.2v1.3h-13.2zM425.1 27.8h13.2v1.3h-13.2zM425.1 25.8h13.2v1.3h-13.2zM425.1 14.8h13.2v1.3h-13.2zM425.1 9.8h13.2v1.3h-13.2zM425.1 8.8h13.2v1.3h-13.2zM425.1 4.8h13.2v1.3h-13.2zM437.9 138.6h13.2v2.0h-13.2zM437.9 108.8h13.2v1.3h-13.2zM437.9 102.8h13.2v1.3h-13.2zM437.9 37.8h13.2v1.3h-13.2zM437.9 36.8h13.2v1.3h-13.2zM437.9 32.8h13.2v1.3h-13.2zM437.9 31.8h13.2v1.3h-13.2zM450.8 33.8h13.2v1.3h-13.2zM450.8 32.8h13.2v1.3h-13.2zM450.8 26.8h13.2v1.3h-13.2zM450.8 18.8h13.2v1.3h-13.2zM450.8 7.8h13.2v1.3h-13.2zM450.8 6.8h13.2v1.3h-13.2zM463.7 140.2h13.2v2.1h-13.2zM463.7 95.8h13.2v1.3h-13.2zM463.7 31.8h13.2v1.3h-13.2zM463.7 14.8h13.2v1.3h-13.2zM463.7 13.8h13.2v1.3h-13.2zM463.7 12.8h13.2v1.3h-13.2zM463.7 11.8h13.2v1.3h-13.2zM463.7 10.8h13.2v1.3h-13.2zM463.7 9.8h13.2v1.3h-13.2zM476.5 34.8h13.2v1.3h-13.2zM476.5 32.8h13.2v1.3h-13.2zM476.5 31.8h13.2v1.3h-13.2zM476.5 27.8h13.2v1.3h-13.2zM476.5 25.8h13.2v1.3h-13.2zM476.5 23.8h13.2v1.3h-13.2zM476.5 15.8h13.2v1.3h-13.2zM476.5 13.8h13.2v1.3h-13.2zM476.5 12.8h13.2v1.3h-13.2zM476.5 6.8h13.2v1.3h-13.2zM489.4 163.1h13.2v6.3h-13.2zM489.4 154.7h13.2v4.1h-13.2zM489.4 97.8h13.2v1.3h-13.2zM489.4 81.8h13.2v1.3h-13.2zM489.4 28.8h13.2v1.3h-13.2zM502.3 135.6h13.2v1.7h-13.2zM502.3 129.8h13.2v1.3h-13.2zM502.3 99.8h13.2v1.3h-13.2zM502.3 40.8h13.2v1.3h-13.2zM502.3 38.8h13.2v1.3h-13.2zM502.3 36.8h13.2v1.3h-13.2zM515.2 128.8h13.2v1.3h-13.2zM515.2 78.8h13.2v1.3h-13.2zM515.2 38.8h13.2v1.3h-13.2zM515.2 37.8h13.2v1.3h-13.2zM515.2 23.8h13.2v1.3h-13.2zM515.2 21.8h13.2v1.3h-13.2zM515.2 20.8h13.2v1.3h-13.2zM515.2 9.8h13.2v1.3h-13.2zM515.2 8.8h13.2v1.3h-13.2zM528.0 134.2h13.2v1.6h-13.2zM528.0 107.8h13.2v1.3h-13.2zM528.0 100.8h13.2v1.3h-13.2zM528.0 45.8h13.2v1.3h-13.2zM540.9 99.8h13.2v1.3h-13.2zM540.9 45.8h13.2v1.3h-13.2zM540.9 44.8h13.2v1.3h-13.2zM540.9 42.8h13.2v1.3h-13.2zM540.9 40.8h13.2v1.3h-13.2zM540.9 33.8h13.2v1.3h-13.2zM540.9 32.8h13.2v1.3h-13.2zM540.9 27.8h13.2v1.3h-13.2zM540.9 25.8h13.2v1.3h-13.2zM540.9 6.8h13.2v1.3h-13.2zM553.8 169.1h13.2v8.8h-13.2zM553.8 135.6h13.2v1.7h-13.2zM553.8 110.8h13.2v1.3h-13.2zM553.8 102.8h13.2v1.3h-13.2zM553.8 73.8h13.2v1.3h-13.2zM553.8 35.8h13.2v1.3h-13.2zM553.8 33.8h13.2v1.3h-13.2zM553.8 32.8h13.2v1.3h-13.2zM553.8 28.8h13.2v1.3h-13.2zM553.8 26.8h13.2v1.3h-13.2zM553.8 24.8h13.2v1.3h-13.2zM553.8 4.4h13.2v0.7h-13.2zM566.6 169.1h13.2v8.8h-13.2zM566.6 128.8h13.2v1.3h-13.2zM566.6 101.8h13.2v1.3h-13.2zM566.6 41.8h13.2v1.3h-13.2zM566.6 38.8h13.2v1.3h-13.2zM566.6 37.8h13.2v1.3h-13.2zM566.6 35.8h13.2v1.3h-13.2zM566.6 34.8h13.2v1.3h-13.2zM566.6 23.8h13.2v1.3h-13.2zM566.6 22.8h13.2v1.3h-13.2zM566.6 13.8h13.2v1.3h-13.2zM566.6 9.8h13.2v1.3h-13.2zM579.5 148.7h13.2v3.1h-13.2zM579.5 144.0h13.2v2.5h-13.2zM579.5 41.8h13.2v1.3h-13.2zM579.5 40.8h13.2v1.3h-13.2zM579.5 32.8h13.2v1.3h-13.2zM579.5 30.8h13.2v1.3h-13.2zM579.5 27.8h13.2v1.3h-13.2zM579.5 26.8h13.2v1.3h-13.2zM579.5 6.8h13.2v1.3h-13.2zM579.5 5.8h13.2v1.3h-13.2zM579.5 4.8h13.2v1.3h-13.2zM592.4 142.1h13.2v2.3h-13.2zM592.4 105.8h13.2v1.3h-13.2zM592.4 103.8h13.2v1.3h-13.2zM592.4 55.8h13.2v1.3h-13.2zM592.4 54.8h13.2v1.3h-13.2zM592.4 51.8h13.2v1.3h-13.2zM605.3 144.0h13.2v2.5h-13.2zM605.3 70.8h13.2v1.3h-13.2zM605.3 69.8h13.2v1.3h-13.2zM605.3 48.8h13.2v1.3h-13.2zM605.3 47.8h13.2v1.3h-13.2zM605.3 45.8h13.2v1.3h-13.2zM605.3 44.8h13.2v1.3h-13.2zM605.3 39.8h13.2v1.3h-13.2zM618.1 42.8h13.2v1.3h-13.2zM618.1 40.8h13.2v1.3h-13.2zM618.1 36.8h13.2v1.3h-13.2zM618.1 35.8h13.2v1.3h-13.2zM618.1 25.8h13.2v1.3h-13.2zM618.1 24.8h13.2v1.3h-13.2zM618.1 23.8h13.2v1.3h-13.2zM618.1 12.8h13.2v1.3h-13.2zM618.1 11.8h13.2v1.3h-13.2zM618.1 9.8h13.2v1.3h-13.2zM618.1 8.8h13.2v1.3h-13.2zM618.1 5.8h13.2v1.3h-13.2zM618.1 4.8h13.2v1.3h-13.2z"/><path fill="#00ff3b" d="M193.4 127.8h13.2v1.3h-13.2zM193.4 99.8h13.2v1.3h-13.2zM193.4 21.8h13.2v1.3h-13.2zM193.4 15.8h13.2v1.3h-13.2zM193.4 8.8h13.2v1.3h-13.2zM206.3 169.1h13.2v8.8h-13.2zM206.3 144.0h13.2v2.5h-13.2zM206.3 103.8h13.2v1.3h-13.2zM219.1 117.8h13.2v1.3h-13.2zM219.1 110.8h13.2v1.3h-13.2zM219.1 9.8h13.2v1.3h-13.2zM232.0 114.8h13.2v1.3h-13.2zM244.9 163.1h13.2v6.3h-13.2zM244.9 134.2h13.2v1.6h-13.2zM244.9 7.8h13.2v1.3h-13.2zM244.9 6.8h13.2v1.3h-13.2zM257.7 112.8h13.2v1.3h-13.2zM257.7 17.8h13.2v1.3h-13.2zM257.7 10.8h13.2v1.3h-13.2zM270.6 137.0h13.2v1.8h-13.2zM270.6 135.6h13.2v1.7h-13.2zM270.6 18.8h13.2v1.3h-13.2zM270.6 12.8h13.2v1.3h-13.2zM283.5 177.6h13.2v14.7h-13.2zM283.5 16.8h13.2v1.3h-13.2zM283.5 15.8h13.2v1.3h-13.2zM283.5 6.8h13.2v1.3h-13.2zM283.5 4.4h13.2v0.7h-13.2zM296.4 119.8h13.2v1.3h-13.2zM296.4 22.8h13.2v1.3h-13.2zM296.4 19.8h13.2v1.3h-13.2zM296.4 17.8h13.2v1.3h-13.2zM296.4 16.8h13.2v1.3h-13.2zM309.2 135.6h13.2v1.7h-13.2zM309.2 129.8h13.2v1.3h-13.2zM309.2 127.8h13.2v1.3h-13.2zM322.1 163.1h13.2v6.3h-13.2zM322.1 127.8h13.2v1.3h-13.2zM322.1 20.8h13.2v1.3h-13.2zM335.0 169.1h13.2v8.8h-13.2zM335.0 130.8h13.2v1.3h-13.2zM335.0 116.8h13.2v1.3h-13.2zM335.0 29.8h13.2v1.3h-13.2zM335.0 26.8h13.2v1.3h-13.2zM347.8 108.8h13.2v1.3h-13.2zM347.8 104.8h13.2v1.3h-13.2zM347.8 103.8h13.2v1.3h-13.2zM347.8 100.8h13.2v1.3h-13.2zM347.8 32.8h13.2v1.3h-13.2zM360.7 146.2h13.2v2.8h-13.2zM360.7 134.2h13.2v1.6h-13.2zM360.7 111.8h13.2v1.3h-13.2zM360.7 31.8h13.2v1.3h-13.2zM360.7 30.8h13.2v1.3h-13.2zM360.7 27.8h13.2v1.3h-13.2zM373.6 169.1h13.2v8.8h-13.2zM373.6 154.7h13.2v4.1h-13.2zM373.6 151.5h13.2v3.5h-13.2zM373.6 133.0h13.2v1.6h-13.2zM386.4 128.8h13.2v1.3h-13.2zM386.4 111.8h13.2v1.3h-13.2zM386.4 102.8h13.2v1.3h-13.2zM399.3 137.0h13.2v1.8h-13.2zM399.3 135.6h13.2v1.7h-13.2zM399.3 105.8h13.2v1.3h-13.2zM399.3 34.8h13.2v1.3h-13.2zM412.2 144.0h13.2v2.5h-13.2zM412.2 34.8h13.2v1.3h-13.2zM425.1 177.6h13.2v14.7h-13.2zM425.1 163.1h13.2v6.3h-13.2zM425.1 151.5h13.2v3.5h-13.2zM425.1 148.7h13.2v3.1h-13.2zM425.1 133.0h13.2v1.6h-13.2zM425.1 21.8h13.2v1.3h-13.2zM425.1 20.8h13.2v1.3h-13.2zM437.9 154.7h13.2v4.1h-13.2zM437.9 133.0h13.2v1.6h-13.2zM437.9 118.8h13.2v1.3h-13.2zM437.9 98.8h13.2v1.3h-13.2zM437.9 97.8h13.2v1.3h-13.2zM437.9 94.8h13.2v1.3h-13.2zM437.9 39.8h13.2v1.3h-13.2zM450.8 128.8h13.2v1.3h-13.2zM450.8 106.8h13.2v1.3h-13.2zM463.7 177.6h13.2v14.7h-13.2zM463.7 151.5h13.2v3.5h-13.2zM463.7 142.1h13.2v2.3h-13.2zM463.7 100.8h13.2v1.3h-13.2zM463.7 87.8h13.2v1.3h-13.2zM463.7 85.8h13.2v1.3h-13.2zM463.7 38.8h13.2v1.3h-13.2zM463.7 36.8h13.2v1.3h-13.2zM476.5 163.1h13.2v6.3h-13.2zM476.5 142.1h13.2v2.3h-13.2zM476.5 129.8h13.2v1.3h-13.2zM476.5 116.8h13.2v1.3h-13.2zM476.5 98.8h13.2v1.3h-13.2zM476.5 92.8h13.2v1.3h-13.2zM476.5 87.8h13.2v1.3h-13.2zM476.5 83.8h13.2v1.3h-13.2zM476.5 40.8h13.2v1.3h-13.2zM476.5 38.8h13.2v1.3h-13.2zM476.5 37.8h13.2v1.3h-13.2zM489.4 135.6h13.2v1.7h-13.2zM489.4 120.8h13.2v1.3h-13.2zM489.4 110.8h13.2v1.3h-13.2zM489.4 101.8h13.2v1.3h-13.2zM489.4 44.8h13.2v1.3h-13.2zM489.4 42.8h13.2v1.3h-13.2zM489.4 36.8h13.2v1.3h-13.2zM502.3 177.6h13.2v14.7h-13.2zM502.3 128.8h13.2v1.3h-13.2zM502.3 125.8h13.2v1.3h-13.2zM502.3 124.8h13.2v1.3h-13.2zM502.3 104.8h13.2v1.3h-13.2zM502.3 77.8h13.2v1.3h-13.2zM502.3 45.8h13.2v1.3h-13.2zM515.2 120.8h13.2v1.3h-13.2zM515.2 118.8h13.2v1.3h-13.2zM515.2 104.8h13.2v1.3h-13.2zM515.2 98.8h13.2v1.3h-13.2zM515.2 44.8h13.2v1.3h-13.2zM515.2 42.8h13.2v1.3h-13.2zM528.0 169.1h13.2v8.8h-13.2zM528.0 103.8h13.2v1.3h-13.2zM528.0 99.8h13.2v1.3h-13.2zM528.0 74.8h13.2v1.3h-13.2zM528.0 48.8h13.2v1.3h-13.2zM528.0 47.8h13.2v1.3h-13.2zM540.9 142.1h13.2v2.3h-13.2zM540.9 104.8h13.2v1.3h-13.2zM540.9 47.8h13.2v1.3h-13.2zM540.9 39.8h13.2v1.3h-13.2zM553.8 163.1h13.2v6.3h-13.2zM553.8 158.5h13.2v5.0h-13.2zM553.8 151.5h13.2v3.5h-13.2zM553.8 100.8h13.2v1.3h-13.2zM553.8 72.8h13.2v1.3h-13.2zM553.8 45.8h13.2v1.3h-13.2zM553.8 41.8h13.2v1.3h-13.2zM566.6 142.1h13.2v2.3h-13.2zM566.6 104.8h13.2v1.3h-13.2zM566.6 72.8h13.2v1.3h-13.2zM566.6 71.8h13.2v1.3h-13.2zM579.5 163.1h13.2v6.3h-13.2zM579.5 154.7h13.2v4.1h-13.2zM579.5 137.0h13.2v1.8h-13.2zM579.5 133.0h13.2v1.6h-13.2zM579.5 70.8h13.2v1.3h-13.2zM579.5 43.8h13.2v1.3h-13.2zM579.5 25.8h13.2v1.3h-13.2zM579.5 24.8h13.2v1.3h-13.2zM579.5 22.8h13.2v1.3h-13.2zM592.4 117.8h13.2v1.3h-13.2zM592.4 115.8h13.2v1.3h-13.2zM592.4 111.8h13.2v1.3h-13.2zM605.3 169.1h13.2v8.8h-13.2zM605.3 158.5h13.2v5.0h-13.2zM605.3 138.6h13.2v2.0h-13.2zM605.3 121.8h13.2v1.3h-13.2zM605.3 105.8h13.2v1.3h-13.2zM605.3 103.8h13.2v1.3h-13.2zM605.3 53.8h13.2v1.3h-13.2zM605.3 51.8h13.2v1.3h-13.2zM618.1 158.5h13.2v5.0h-13.2zM618.1 104.8h13.2v1.3h-13.2zM618.1 44.8h13.2v1.3h-13.2zM618.1 27.8h13.2v1.3h-13.2z"/><path fill="#00ff85" d="M193.4 125.8h13.2v1.3h-13.2zM193.4 107.8h13.2v1.3h-13.2zM193.4 97.8h13.2v1.3h-13.2zM193.4 22.8h13.2v1.3h-13.2zM206.3 101.8h13.2v1.3h-13.2zM206.3 24.8h13.2v1.3h-13.2zM206.3 10.8h13.2v1.3h-13.2zM206.3 5.8h13.2v1.3h-13.2zM219.1 10.8h13.2v1.3h-13.2zM232.0 130.8h13.2v1.3h-13.2zM232.0 15.8h13.2v1.3h-13.2zM232.0 9.8h13.2v1.3h-13.2zM232.0 8.8h13.2v1.3h-13.2zM244.9 151.5h13.2v3.5h-13.2zM244.9 128.8h13.2v1.3h-13.2zM244.9 125.8h13.2v1.3h-13.2zM244.9 121.8h13.2v1.3h-13.2zM244.9 112.8h13.2v1.3h-13.2zM244.9 111.8h13.2v1.3h-13.2zM244.9 16.8h13.2v1.3h-13.2zM244.9 11.8h13.2v1.3h-13.2zM257.7 163.1h13.2v6.3h-13.2zM257.7 131.8h13.2v1.5h-13.2zM257.7 117.8h13.2v1.3h-13.2zM257.7 20.8h13.2v1.3h-13.2zM257.7 9.8h13.2v1.3h-13.2zM270.6 148.7h13.2v3.1h-13.2zM270.6 119.8h13.2v1.3h-13.2zM270.6 109.8h13.2v1.3h-13.2zM270.6 108.8h13.2v1.3h-13.2zM270.6 24.8h13.2v1.3h-13.2zM283.5 144.0h13.2v2.5h-13.2zM283.5 126.8h13.2v1.3h-13.2zM283.5 124.8h13.2v1.3h-13.2zM283.5 24.8h13.2v1.3h-13.2zM283.5 23.8h13.2v1.3h-13.2zM283.5 21.8h13.2v1.3h-13.2zM296.4 131.8h13.2v1.5h-13.2zM296.4 117.8h13.2v1.3h-13.2zM296.4 114.8h13.2v1.3h-13.2zM296.4 112.8h13.2v1.3h-13.2zM296.4 29.8h13.2v1.3h-13.2zM309.2 140.2h13.2v2.1h-13.2zM309.2 123.8h13.2v1.3h-13.2zM309.2 121.8h13.2v1.3h-13.2zM309.2 119.8h13.2v1.3h-13.2zM322.1 111.8h13.2v1.3h-13.2zM322.1 98.8h13.2v1.3h-13.2zM322.1 33.8h13.2v1.3h-13.2zM322.1 32.8h13.2v1.3h-13.2zM335.0 124.8h13.2v1.3h-13.2zM335.0 119.8h13.2v1.3h-13.2zM335.0 117.8h13.2v1.3h-13.2zM335.0 111.8h13.2v1.3h-13.2zM335.0 106.8h13.2v1.3h-13.2zM335.0 38.8h13.2v1.3h-13.2zM335.0 37.8h13.2v1.3h-13.2zM335.0 36.8h13.2v1.3h-13.2zM335.0 35.8h13.2v1.3h-13.2zM347.8 144.0h13.2v2.5h-13.2zM347.8 125.8h13.2v1.3h-13.2zM347.8 121.8h13.2v1.3h-13.2zM347.8 107.8h13.2v1.3h-13.2zM347.8 99.8h13.2v1.3h-13.2zM347.8 37.8h13.2v1.3h-13.2zM360.7 130.8h13.2v1.3h-13.2zM360.7 106.8h13.2v1.3h-13.2zM360.7 100.8h13.2v1.3h-13.2zM360.7 38.8h13.2v1.3h-13.2zM360.7 36.8h13.2v1.3h-13.2zM373.6 163.1h13.2v6.3h-13.2zM373.6 146.2h13.2v2.8h-13.2zM373.6 135.6h13.2v1.7h-13.2zM373.6 112.8h13.2v1.3h-13.2zM373.6 39.8h13.2v1.3h-13.2zM386.4 134.2h13.2v1.6h-13.2zM386.4 129.8h13.2v1.3h-13.2zM386.4 120.8h13.2v1.3h-13.2zM386.4 104.8h13.2v1.3h-13.2zM386.4 101.8h13.2v1.3h-13.2zM386.4 37.8h13.2v1.3h-13.2zM386.4 36.8h13.2v1.3h-13.2zM399.3 144.0h13.2v2.5h-13.2zM399.3 119.8h13.2v1.3h-13.2zM399.3 118.8h13.2v1.3h-13.2zM399.3 112.8h13.2v1.3h-13.2zM399.3 106.8h13.2v1.3h-13.2zM399.3 99.8h13.2v1.3h-13.2zM399.3 98.8h13.2v1.3h-13.2zM399.3 95.8h13.2v1.3h-13.2zM399.3 41.8h13.2v1.3h-13.2zM399.3 40.8h13.2v1.3h-13.2zM399.3 39.8h13.2v1.3h-13.2zM412.2 146.2h13.2v2.8h-13.2zM412.2 128.8h13.2v1.3h-13.2zM412.2 124.8h13.2v1.3h-13.2zM412.2 122.8h13.2v1.3h-13.2zM412.2 121.8h13.2v1.3h-13.2zM412.2 105.8h13.2v1.3h-13.2zM412.2 102.8h13.2v1.3h-13.2zM412.2 101.8h13.2v1.3h-13.2zM412.2 100.8h13.2v1.3h-13.2zM412.2 97.8h13.2v1.3h-13.2zM412.2 96.8h13.2v1.3h-13.2zM412.2 94.8h13.2v1.3h-13.2zM412.2 89.8h13.2v1.3h-13.2zM412.2 41.8h13.2v1.3h-13.2zM425.1 129.8h13.2v1.3h-13.2zM425.1 127.8h13.2v1.3h-13.2zM425.1 115.8h13.2v1.3h-13.2zM425.1 108.8h13.2v1.3h-13.2zM425.1 107.8h13.2v1.3h-13.2zM425.1 106.8h13.2v1.3h-13.2zM425.1 101.8h13.2v1.3h-13.2zM437.9 127.8h13.2v1.3h-13.2zM437.9 126.8h13.2v1.3h-13.2zM437.9 119.8h13.2v1.3h-13.2zM437.9 114.8h13.2v1.3h-13.2zM437.9 90.8h13.2v1.3h-13.2zM437.9 43.8h13.2v1.3h-13.2zM450.8 146.2h13.2v2.8h-13.2zM450.8 104.8h13.2v1.3h-13.2zM450.8 103.8h13.2v1.3h-13.2zM450.8 96.8h13.2v1.3h-13.2zM450.8 89.8h13.2v1.3h-13.2zM463.7 126.8h13.2v1.3h-13.2zM463.7 122.8h13.2v1.3h-13.2zM463.7 118.8h13.2v1.3h-13.2zM463.7 110.8h13.2v1.3h-13.2zM463.7 86.8h13.2v1.3h-13.2zM463.7 81.8h13.2v1.3h-13.2zM463.7 80.8h13.2v1.3h-13.2zM476.5 158.5h13.2v5.0h-13.2zM476.5 128.8h13.2v1.3h-13.2zM476.5 124.8h13.2v1.3h-13.2zM476.5 123.8h13.2v1.3h-13.2zM476.5 115.8h13.2v1.3h-13.2zM476.5 104.8h13.2v1.3h-13.2zM489.4 148.7h13.2v3.1h-13.2zM489.4 134.2h13.2v1.6h-13.2zM489.4 128.8h13.2v1.3h-13.2zM489.4 113.8h13.2v1.3h-13.2zM502.3 138.6h13.2v2.0h-13.2zM502.3 133.0h13.2v1.6h-13.2zM502.3 105.8h13.2v1.3h-13.2zM502.3 51.8h13.2v1.3h-13.2zM502.3 50.8h13.2v1.3h-13.2zM502.3 48.8h13.2v1.3h-13.2zM515.2 131.8h13.2v1.5h-13.2zM515.2 119.8h13.2v1.3h-13.2zM515.2 117.8h13.2v1.3h-13.2zM515.2 114.8h13.2v1.3h-13.2zM515.2 109.8h13.2v1.3h-13.2zM515.2 74.8h13.2v1.3h-13.2zM515.2 48.8h13.2v1.3h-13.2zM528.0 135.6h13.2v1.7h-13.2zM528.0 72.8h13.2v1.3h-13.2zM540.9 105.8h13.2v1.3h-13.2zM540.9 54.8h13.2v1.3h-13.2zM553.8 154.7h13.2v4.1h-13.2zM553.8 148.7h13.2v3.1h-13.2zM553.8 133.0h13.2v1.6h-13.2zM553.8 131.8h13.2v1.5h-13.2zM553.8 125.8h13.2v1.3h-13.2zM553.8 123.8h13.2v1.3h-13.2zM553.8 120.8h13.2v1.3h-13.2zM553.8 119.8h13.2v1.3h-13.2zM553.8 114.8h13.2v1.3h-13.2zM553.8 105.8h13.2v1.3h-13.2zM553.8 71.8h13.2v1.3h-13.2zM553.8 54.8h13.2v1.3h-13.2zM553.8 52.8h13.2v1.3h-13.2zM566.6 140.2h13.2v2.1h-13.2zM566.6 135.6h13.2v1.7h-13.2zM566.6 108.8h13.2v1.3h-13.2zM566.6 107.8h13.2v1.3h-13.2zM566.6 69.8h13.2v1.3h-13.2zM566.6 48.8h13.2v1.3h-13.2zM579.5 142.1h13.2v2.3h-13.2zM579.5 128.8h13.2v1.3h-13.2zM579.5 122.8h13.2v1.3h-13.2zM579.5 116.8h13.2v1.3h-13.2zM579.5 109.8h13.2v1.3h-13.2zM579.5 107.8h13.2v1.3h-13.2zM579.5 69.8h13.2v1.3h-13.2zM579.5 68.8h13.2v1.3h-13.2zM579.5 55.8h13.2v1.3h-13.2zM592.4 133.0h13.2v1.6h-13.2zM592.4 122.8h13.2v1.3h-13.2zM592.4 116.8h13.2v1.3h-13.2zM592.4 62.8h13.2v1.3h-13.2zM592.4 61.8h13.2v1.3h-13.2zM592.4 59.8h13.2v1.3h-13.2zM605.3 142.1h13.2v2.3h-13.2zM605.3 124.8h13.2v1.3h-13.2zM605.3 120.8h13.2v1.3h-13.2zM605.3 119.8h13.2v1.3h-13.2zM605.3 113.8h13.2v1.3h-13.2zM605.3 111.8h13.2v1.3h-13.2zM605.3 108.8h13.2v1.3h-13.2zM605.3 66.8h13.2v1.3h-13.2zM605.3 65.8h13.2v1.3h-13.2zM605.3 64.8h13.2v1.3h-13.2zM605.3 59.8h13.2v1.3h-13.2zM605.3 58.8h13.2v1.3h-13.2zM605.3 57.8h13.2v1.3h-13.2zM618.1 135.6h13.2v1.7h-13.2zM618.1 128.8h13.2v1.3h-13.2zM618.1 118.8h13.2v1.3h-13.2zM618.1 117.8h13.2v1.3h-13.2zM618.1 57.8h13.2v1.3h-13.2z"/><path fill="#00ffc1" d="M193.4 124.8h13.2v1.3h-13.2zM193.4 104.8h13.2v1.3h-13.2zM206.3 113.8h13.2v1.3h-13.2zM206.3 110.8h13.2v1.3h-13.2zM206.3 106.8h13.2v1.3h-13.2zM206.3 99.8h13.2v1.3h-13.2zM206.3 97.8h13.2v1.3h-13.2zM206.3 15.8h13.2v1.3h-13.2zM219.1 169.1h13.2v8.8h-13.2zM219.1 158.5h13.2v5.0h-13.2zM219.1 22.8h13.2v1.3h-13.2zM219.1 13.8h13.2v1.3h-13.2zM219.1 7.8h13.2v1.3h-13.2zM232.0 107.8h13.2v1.3h-13.2zM232.0 29.8h13.2v1.3h-13.2zM232.0 24.8h13.2v1.3h-13.2zM232.0 17.8h13.2v1.3h-13.2zM244.9 99.8h13.2v1.3h-13.2zM244.9 17.8h13.2v1.3h-13.2zM257.7 129.8h13.2v1.3h-13.2zM257.7 94.8h13.2v1.3h-13.2zM257.7 24.8h13.2v1.3h-13.2zM270.6 127.8h13.2v1.3h-13.2zM270.6 102.8h13.2v1.3h-13.2zM270.6 26.8h13.2v1.3h-13.2zM283.5 117.8h13.2v1.3h-13.2zM296.4 133.0h13.2v1.6h-13.2zM296.4 34.8h13.2v1.3h-13.2zM309.2 144.0h13.2v2.5h-13.2zM309.2 106.8h13.2v1.3h-13.2zM309.2 104.8h13.2v1.3h-13.2zM309.2 99.8h13.2v1.3h-13.2zM322.1 118.8h13.2v1.3h-13.2zM322.1 106.8h13.2v1.3h-13.2zM322.1 105.8h13.2v1.3h-13.2zM335.0 103.8h13.2v1.3h-13.2zM335.0 101.8h13.2v1.3h-13.2zM335.0 98.8h13.2v1.3h-13.2zM347.8 116.8h13.2v1.3h-13.2zM347.8 101.8h13.2v1.3h-13.2zM347.8 41.8h13.2v1.3h-13.2zM360.7 144.0h13.2v2.5h-13.2zM360.7 129.8h13.2v1.3h-13.2zM360.7 101.8h13.2v1.3h-13.2zM360.7 96.8h13.2v1.3h-13.2zM360.7 40.8h13.2v1.3h-13.2zM373.6 125.8h13.2v1.3h-13.2zM373.6 109.8h13.2v1.3h-13.2zM373.6 42.8h13.2v1.3h-13.2zM373.6 41.8h13.2v1.3h-13.2zM386.4 144.0h13.2v2.5h-13.2zM399.3 100.8h13.2v1.3h-13.2zM399.3 43.8h13.2v1.3h-13.2zM412.2 117.8h13.2v1.3h-13.2zM412.2 115.8h13.2v1.3h-13.2zM412.2 90.8h13.2v1.3h-13.2zM412.2 88.8h13.2v1.3h-13.2zM412.2 45.8h13.2v1.3h-13.2zM412.2 44.8h13.2v1.3h-13.2zM425.1 135.6h13.2v1.7h-13.2zM425.1 102.8h13.2v1.3h-13.2zM425.1 90.8h13.2v1.3h-13.2zM425.1 44.8h13.2v1.3h-13.2zM437.9 120.8h13.2v1.3h-13.2zM450.8 119.8h13.2v1.3h-13.2zM450.8 115.8h13.2v1.3h-13.2zM450.8 105.8h13.2v1.3h-13.2zM450.8 45.8h13.2v1.3h-13.2zM463.7 121.8h13.2v1.3h-13.2zM463.7 45.8h13.2v1.3h-13.2zM476.5 138.6h13.2v2.0h-13.2zM489.4 116.8h13.2v1.3h-13.2zM489.4 111.8h13.2v1.3h-13.2zM502.3 126.8h13.2v1.3h-13.2zM502.3 109.8h13.2v1.3h-13.2zM528.0 121.8h13.2v1.3h-13.2zM528.0 116.8h13.2v1.3h-13.2zM528.0 70.8h13.2v1.3h-13.2zM528.0 55.8h13.2v1.3h-13.2zM540.9 134.2h13.2v1.6h-13.2zM540.9 120.8h13.2v1.3h-13.2zM540.9 118.8h13.2v1.3h-13.2zM540.9 116.8h13.2v1.3h-13.2zM540.9 68.8h13.2v1.3h-13.2zM540.9 56.8h13.2v1.3h-13.2zM553.8 69.8h13.2v1.3h-13.2zM566.6 129.8h13.2v1.3h-13.2zM566.6 121.8h13.2v1.3h-13.2zM566.6 111.8h13.2v1.3h-13.2zM566.6 106.8h13.2v1.3h-13.2zM566.6 65.8h13.2v1.3h-13.2zM579.5 129.8h13.2v1.3h-13.2zM579.5 121.8h13.2v1.3h-13.2zM579.5 112.8h13.2v1.3h-13.2zM579.5 108.8h13.2v1.3h-13.2zM579.5 65.8h13.2v1.3h-13.2zM579.5 64.8h13.2v1.3h-13.2zM618.1 119.8h13.2v1.3h-13.2zM618.1 115.8h13.2v1.3h-13.2zM618.1 62.8h13.2v1.3h-13.2z"/><path fill="#3500ff" d="M193.4 123.8h13.2v1.3h-13.2zM193.4 74.8h13.2v1.3h-13.2zM193.4 59.8h13.2v1.3h-13.2zM193.4 45.8h13.2v1.3h-13.2zM206.3 54.8h13.2v1.3h-13.2zM206.3 50.8h13.2v1.3h-13.2zM232.0 66.8h13.2v1.3h-13.2zM232.0 59.8h13.2v1.3h-13.2zM232.0 55.8h13.2v1.3h-13.2zM232.0 48.8h13.2v1.3h-13.2zM244.9 74.8h13.2v1.3h-13.2zM244.9 56.8h13.2v1.3h-13.2zM244.9 50.8h13.2v1.3h-13.2zM244.9 49.8h13.2v1.3h-13.2zM257.7 76.8h13.2v1.3h-13.2zM257.7 74.8h13.2v1.3h-13.2zM257.7 52.8h13.2v1.3h-13.2zM257.7 49.8h13.2v1.3h-13.2zM270.6 82.8h13.2v1.3h-13.2zM270.6 71.8h13.2v1.3h-13.2zM270.6 70.8h13.2v1.3h-13.2zM270.6 69.8h13.2v1.3h-13.2zM270.6 64.8h13.2v1.3h-13.2zM283.5 46.8h13.2v1.3h-13.2zM296.4 75.8h13.2v1.3h-13.2zM296.4 51.8h13.2v1.3h-13.2zM309.2 82.8h13.2v1.3h-13.2zM309.2 79.8h13.2v1.3h-13.2zM309.2 54.8h13.2v1.3h-13.2zM322.1 75.8h13.2v1.3h-13.2zM322.1 74.8h13.2v1.3h-13.2zM322.1 54.8h13.2v1.3h-13.2zM335.0 77.8h13.2v1.3h-13.2zM347.8 73.8h13.2v1.3h-13.2zM360.7 56.8h13.2v1.3h-13.2zM373.6 77.8h13.2v1.3h-13.2zM373.6 54.8h13.2v1.3h-13.2zM399.3 71.8h13.2v1.3h-13.2zM399.3 59.8h13.2v1.3h-13.2zM399.3 58.8h13.2v1.3h-13.2zM412.2 59.8h13.2v1.3h-13.2zM412.2 58.8h13.2v1.3h-13.2zM425.1 73.8h13.2v1.3h-13.2zM425.1 61.8h13.2v1.3h-13.2zM425.1 60.8h13.2v1.3h-13.2zM437.9 67.8h13.2v1.3h-13.2z"/><path fill="#2aff00" d="M193.4 122.8h13.2v1.3h-13.2zM193.4 83.8h13.2v1.3h-13.2zM219.1 120.8h13.2v1.3h-13.2zM232.0 109.8h13.2v1.3h-13.2zM244.9 135.6h13.2v1.7h-13.2zM257.7 135.6h13.2v1.7h-13.2zM257.7 134.2h13.2v1.6h-13.2zM257.7 120.8h13.2v1.3h-13.2zM270.6 163.1h13.2v6.3h-13.2zM283.5 151.5h13.2v3.5h-13.2zM335.0 144.0h13.2v2.5h-13.2zM335.0 5.8h13.2v1.3h-13.2zM335.0 4.8h13.2v1.3h-13.2zM360.7 116.8h13.2v1.3h-13.2zM399.3 18.8h13.2v1.3h-13.2zM399.3 15.8h13.2v1.3h-13.2zM399.3 14.8h13.2v1.3h-13.2zM399.3 13.8h13.2v1.3h-13.2zM399.3 9.8h13.2v1.3h-13.2zM399.3 8.8h13.2v1.3h-13.2zM399.3 5.8h13.2v1.3h-13.2zM399.3 4.8h13.2v1.3h-13.2zM412.2 131.8h13.2v1.5h-13.2zM412.2 130.8h13.2v1.3h-13.2zM412.2 126.8h13.2v1.3h-13.2zM412.2 25.8h13.2v1.3h-13.2zM412.2 18.8h13.2v1.3h-13.2zM412.2 13.8h13.2v1.3h-13.2zM412.2 12.8h13.2v1.3h-13.2zM412.2 9.8h13.2v1.3h-13.2zM437.9 26.8h13.2v1.3h-13.2zM437.9 25.8h13.2v1.3h-13.2zM437.9 24.8h13.2v1.3h-13.2zM437.9 21.8h13.2v1.3h-13.2zM437.9 18.8h13.2v1.3h-13.2zM437.9 12.8h13.2v1.3h-13.2zM489.4 93.8h13.2v1.3h-13.2zM489.4 91.8h13.2v1.3h-13.2zM489.4 89.8h13.2v1.3h-13.2zM489.4 84.8h13.2v1.3h-13.2zM489.4 83.8h13.2v1.3h-13.2zM489.4 24.8h13.2v1.3h-13.2zM489.4 23.8h13.2v1.3h-13.2zM489.4 22.8h13.2v1.3h-13.2zM489.4 20.8h13.2v1.3h-13.2zM502.3 80.8h13.2v1.3h-13.2zM502.3 79.8h13.2v1.3h-13.2zM502.3 16.8h13.2v1.3h-13.2zM502.3 14.8h13.2v1.3h-13.2zM515.2 148.7h13.2v3.1h-13.2zM515.2 4.4h13.2v0.7h-13.2zM528.0 138.6h13.2v2.0h-13.2zM528.0 133.0h13.2v1.6h-13.2zM528.0 77.8h13.2v1.3h-13.2zM528.0 41.8h13.2v1.3h-13.2zM528.0 38.8h13.2v1.3h-13.2zM528.0 37.8h13.2v1.3h-13.2zM528.0 36.8h13.2v1.3h-13.2zM528.0 33.8h13.2v1.3h-13.2zM528.0 30.8h13.2v1.3h-13.2zM528.0 29.8h13.2v1.3h-13.2zM528.0 27.8h13.2v1.3h-13.2zM528.0 23.8h13.2v1.3h-13.2zM528.0 21.8h13.2v1.3h-13.2zM528.0 15.8h13.2v1.3h-13.2zM528.0 12.8h13.2v1.3h-13.2zM528.0 11.8h13.2v1.3h-13.2zM528.0 10.8h13.2v1.3h-13.2zM528.0 9.8h13.2v1.3h-13.2zM528.0 8.8h13.2v1.3h-13.2zM540.9 135.6h13.2v1.7h-13.2zM540.9 16.8h13.2v1.3h-13.2zM553.8 74.8h13.2v1.3h-13.2zM566.6 73.8h13.2v1.3h-13.2zM592.4 151.5h13.2v3.5h-13.2zM592.4 41.8h13.2v1.3h-13.2zM592.4 40.8h13.2v1.3h-13.2zM592.4 35.8h13.2v1.3h-13.2zM592.4 26.8h13.2v1.3h-13.2zM592.4 24.8h13.2v1.3h-13.2zM592.4 22.8h13.2v1.3h-13.2zM592.4 21.8h13.2v1.3h-13.2zM592.4 20.8h13.2v1.3h-13.2zM592.4 13.8h13.2v1.3h-13.2zM592.4 10.8h13.2v1.3h-13.2zM592.4 9.8h13.2v1.3h-13.2zM592.4 8.8h13.2v1.3h-13.2zM592.4 6.8h13.2v1.3h-13.2zM605.3 148.7h13.2v3.1h-13.2zM605.3 35.8h13.2v1.3h-13.2zM605.3 34.8h13.2v1.3h-13.2zM605.3 31.8h13.2v1.3h-13.2zM605.3 30.8h13.2v1.3h-13.2zM605.3 29.8h13.2v1.3h-13.2zM605.3 18.8h13.2v1.3h-13.2zM605.3 14.8h13.2v1.3h-13.2zM605.3 13.8h13.2v1.3h-13.2zM605.3 5.8h13.2v1.3h-13.2zM605.3 4.4h13.2v0.7h-13.2z"/><path fill="#00ff94" d="M193.4 121.8h13.2v1.3h-13.2zM193.4 117.8h13.2v1.3h-13.2zM193.4 89.8h13.2v1.3h-13.2zM193.4 88.8h13.2v1.3h-13.2zM206.3 116.8h13.2v1.3h-13.2zM206.3 18.8h13.2v1.3h-13.2zM206.3 12.8h13.2v1.3h-13.2zM219.1 151.5h13.2v3.5h-13.2zM219.1 124.8h13.2v1.3h-13.2zM219.1 104.8h13.2v1.3h-13.2zM219.1 17.8h13.2v1.3h-13.2zM219.1 14.8h13.2v1.3h-13.2zM232.0 121.8h13.2v1.3h-13.2zM232.0 118.8h13.2v1.3h-13.2zM232.0 97.8h13.2v1.3h-13.2zM232.0 7.8h13.2v1.3h-13.2zM244.9 19.8h13.2v1.3h-13.2zM244.9 13.8h13.2v1.3h-13.2zM257.7 122.8h13.2v1.3h-13.2zM257.7 109.8h13.2v1.3h-13.2zM257.7 104.8h13.2v1.3h-13.2zM257.7 96.8h13.2v1.3h-13.2zM257.7 22.8h13.2v1.3h-13.2zM270.6 27.8h13.2v1.3h-13.2zM270.6 25.8h13.2v1.3h-13.2zM270.6 22.8h13.2v1.3h-13.2zM283.5 135.6h13.2v1.7h-13.2zM283.5 115.8h13.2v1.3h-13.2zM283.5 28.8h13.2v1.3h-13.2zM296.4 154.7h13.2v4.1h-13.2zM296.4 134.2h13.2v1.6h-13.2zM296.4 122.8h13.2v1.3h-13.2zM296.4 109.8h13.2v1.3h-13.2zM296.4 28.8h13.2v1.3h-13.2zM296.4 27.8h13.2v1.3h-13.2zM309.2 142.1h13.2v2.3h-13.2zM309.2 117.8h13.2v1.3h-13.2zM309.2 113.8h13.2v1.3h-13.2zM309.2 31.8h13.2v1.3h-13.2zM322.1 154.7h13.2v4.1h-13.2zM322.1 137.0h13.2v1.8h-13.2zM335.0 107.8h13.2v1.3h-13.2zM347.8 151.5h13.2v3.5h-13.2zM347.8 122.8h13.2v1.3h-13.2zM347.8 102.8h13.2v1.3h-13.2zM360.7 118.8h13.2v1.3h-13.2zM360.7 113.8h13.2v1.3h-13.2zM373.6 138.6h13.2v2.0h-13.2zM373.6 130.8h13.2v1.3h-13.2zM373.6 117.8h13.2v1.3h-13.2zM373.6 106.8h13.2v1.3h-13.2zM373.6 105.8h13.2v1.3h-13.2zM373.6 104.8h13.2v1.3h-13.2zM373.6 98.8h13.2v1.3h-13.2zM386.4 130.8h13.2v1.3h-13.2zM386.4 124.8h13.2v1.3h-13.2zM386.4 121.8h13.2v1.3h-13.2zM386.4 116.8h13.2v1.3h-13.2zM386.4 39.8h13.2v1.3h-13.2zM386.4 38.8h13.2v1.3h-13.2zM399.3 158.5h13.2v5.0h-13.2zM399.3 117.8h13.2v1.3h-13.2zM399.3 108.8h13.2v1.3h-13.2zM399.3 101.8h13.2v1.3h-13.2zM412.2 129.8h13.2v1.3h-13.2zM412.2 109.8h13.2v1.3h-13.2zM412.2 93.8h13.2v1.3h-13.2zM412.2 91.8h13.2v1.3h-13.2zM425.1 131.8h13.2v1.5h-13.2zM425.1 113.8h13.2v1.3h-13.2zM425.1 97.8h13.2v1.3h-13.2zM425.1 95.8h13.2v1.3h-13.2zM425.1 92.8h13.2v1.3h-13.2zM425.1 42.8h13.2v1.3h-13.2zM425.1 40.8h13.2v1.3h-13.2zM437.9 125.8h13.2v1.3h-13.2zM437.9 117.8h13.2v1.3h-13.2zM437.9 112.8h13.2v1.3h-13.2zM450.8 137.0h13.2v1.8h-13.2zM450.8 135.6h13.2v1.7h-13.2zM450.8 129.8h13.2v1.3h-13.2zM450.8 114.8h13.2v1.3h-13.2zM450.8 102.8h13.2v1.3h-13.2zM450.8 98.8h13.2v1.3h-13.2zM450.8 92.8h13.2v1.3h-13.2zM450.8 83.8h13.2v1.3h-13.2zM450.8 43.8h13.2v1.3h-13.2zM463.7 133.0h13.2v1.6h-13.2zM463.7 119.8h13.2v1.3h-13.2zM463.7 117.8h13.2v1.3h-13.2zM463.7 116.8h13.2v1.3h-13.2zM463.7 114.8h13.2v1.3h-13.2zM463.7 44.8h13.2v1.3h-13.2zM476.5 146.2h13.2v2.8h-13.2zM476.5 144.0h13.2v2.5h-13.2zM476.5 96.8h13.2v1.3h-13.2zM476.5 82.8h13.2v1.3h-13.2zM476.5 46.8h13.2v1.3h-13.2zM476.5 44.8h13.2v1.3h-13.2zM489.4 130.8h13.2v1.3h-13.2zM489.4 129.8h13.2v1.3h-13.2zM489.4 127.8h13.2v1.3h-13.2zM489.4 119.8h13.2v1.3h-13.2zM489.4 109.8h13.2v1.3h-13.2zM502.3 106.8h13.2v1.3h-13.2zM502.3 76.8h13.2v1.3h-13.2zM515.2 135.6h13.2v1.7h-13.2zM515.2 73.8h13.2v1.3h-13.2zM515.2 52.8h13.2v1.3h-13.2zM528.0 108.8h13.2v1.3h-13.2zM528.0 52.8h13.2v1.3h-13.2zM540.9 133.0h13.2v1.6h-13.2zM553.8 137.0h13.2v1.8h-13.2zM553.8 122.8h13.2v1.3h-13.2zM553.8 115.8h13.2v1.3h-13.2zM553.8 112.8h13.2v1.3h-13.2zM566.6 131.8h13.2v1.5h-13.2zM566.6 114.8h13.2v1.3h-13.2zM566.6 113.8h13.2v1.3h-13.2zM566.6 109.8h13.2v1.3h-13.2zM566.6 68.8h13.2v1.3h-13.2zM566.6 53.8h13.2v1.3h-13.2zM566.6 52.8h13.2v1.3h-13.2zM579.5 138.6h13.2v2.0h-13.2zM579.5 135.6h13.2v1.7h-13.2zM579.5 130.8h13.2v1.3h-13.2zM579.5 117.8h13.2v1.3h-13.2zM579.5 67.8h13.2v1.3h-13.2zM579.5 66.8h13.2v1.3h-13.2zM592.4 140.2h13.2v2.1h-13.2zM592.4 121.8h13.2v1.3h-13.2zM592.4 66.8h13.2v1.3h-13.2zM592.4 63.8h13.2v1.3h-13.2zM605.3 129.8h13.2v1.3h-13.2zM605.3 128.8h13.2v1.3h-13.2zM605.3 123.8h13.2v1.3h-13.2zM605.3 112.8h13.2v1.3h-13.2zM605.3 109.8h13.2v1.3h-13.2zM605.3 62.8h13.2v1.3h-13.2zM605.3 61.8h13.2v1.3h-13.2zM605.3 60.8h13.2v1.3h-13.2zM618.1 133.0h13.2v1.6h-13.2zM618.1 131.8h13.2v1.5h-13.2zM618.1 125.8h13.2v1.3h-13.2zM618.1 65.8h13.2v1.3h-13.2zM618.1 64.8h13.2v1.3h-13.2zM618.1 63.8h13.2v1.3h-13.2zM618.1 59.8h13.2v1.3h-13.2zM618.1 58.8h13.2v1.3h-13.2z"/><path fill="#ecff00" d="M193.4 120.8h13.2v1.3h-13.2zM232.0 151.5h13.2v3.5h-13.2zM232.0 146.2h13.2v2.8h-13.2zM515.2 87.8h13.2v1.3h-13.2zM528.0 80.8h13.2v1.3h-13.2zM566.6 76.8h13.2v1.3h-13.2zM579.5 75.8h13.2v1.3h-13.2z"/><path fill="#00ffed" d="M193.4 119.8h13.2v1.3h-13.2zM193.4 115.8h13.2v1.3h-13.2zM193.4 108.8h13.2v1.3h-13.2zM193.4 71.8h13.2v1.3h-13.2zM193.4 60.8h13.2v1.3h-13.2zM206.3 140.2h13.2v2.1h-13.2zM206.3 92.8h13.2v1.3h-13.2zM206.3 89.8h13.2v1.3h-13.2zM206.3 8.8h13.2v1.3h-13.2zM219.1 144.0h13.2v2.5h-13.2zM219.1 131.8h13.2v1.5h-13.2zM219.1 112.8h13.2v1.3h-13.2zM219.1 96.8h13.2v1.3h-13.2zM219.1 19.8h13.2v1.3h-13.2zM219.1 18.8h13.2v1.3h-13.2zM232.0 87.8h13.2v1.3h-13.2zM232.0 84.8h13.2v1.3h-13.2zM232.0 22.8h13.2v1.3h-13.2zM244.9 119.8h13.2v1.3h-13.2zM244.9 113.8h13.2v1.3h-13.2zM244.9 105.8h13.2v1.3h-13.2zM244.9 24.8h13.2v1.3h-13.2zM244.9 23.8h13.2v1.3h-13.2zM257.7 93.8h13.2v1.3h-13.2zM257.7 28.8h13.2v1.3h-13.2zM257.7 25.8h13.2v1.3h-13.2zM270.6 151.5h13.2v3.5h-13.2zM283.5 106.8h13.2v1.3h-13.2zM283.5 103.8h13.2v1.3h-13.2zM283.5 99.8h13.2v1.3h-13.2zM283.5 98.8h13.2v1.3h-13.2zM283.5 33.8h13.2v1.3h-13.2zM296.4 144.0h13.2v2.5h-13.2zM296.4 101.8h13.2v1.3h-13.2zM296.4 97.8h13.2v1.3h-13.2zM296.4 35.8h13.2v1.3h-13.2zM309.2 103.8h13.2v1.3h-13.2zM309.2 37.8h13.2v1.3h-13.2zM322.1 151.5h13.2v3.5h-13.2zM322.1 144.0h13.2v2.5h-13.2zM322.1 97.8h13.2v1.3h-13.2zM322.1 39.8h13.2v1.3h-13.2zM322.1 38.8h13.2v1.3h-13.2zM335.0 93.8h13.2v1.3h-13.2zM347.8 113.8h13.2v1.3h-13.2zM347.8 98.8h13.2v1.3h-13.2zM347.8 90.8h13.2v1.3h-13.2zM360.7 125.8h13.2v1.3h-13.2zM360.7 91.8h13.2v1.3h-13.2zM373.6 115.8h13.2v1.3h-13.2zM373.6 113.8h13.2v1.3h-13.2zM373.6 107.8h13.2v1.3h-13.2zM373.6 94.8h13.2v1.3h-13.2zM373.6 93.8h13.2v1.3h-13.2zM386.4 137.0h13.2v1.8h-13.2zM386.4 118.8h13.2v1.3h-13.2zM386.4 115.8h13.2v1.3h-13.2zM386.4 89.8h13.2v1.3h-13.2zM386.4 88.8h13.2v1.3h-13.2zM386.4 44.8h13.2v1.3h-13.2zM399.3 127.8h13.2v1.3h-13.2zM399.3 89.8h13.2v1.3h-13.2zM425.1 124.8h13.2v1.3h-13.2zM425.1 46.8h13.2v1.3h-13.2zM425.1 45.8h13.2v1.3h-13.2zM437.9 81.8h13.2v1.3h-13.2zM437.9 47.8h13.2v1.3h-13.2zM463.7 128.8h13.2v1.3h-13.2zM463.7 123.8h13.2v1.3h-13.2zM463.7 77.8h13.2v1.3h-13.2zM463.7 48.8h13.2v1.3h-13.2zM476.5 76.8h13.2v1.3h-13.2zM476.5 52.8h13.2v1.3h-13.2zM476.5 50.8h13.2v1.3h-13.2zM489.4 114.8h13.2v1.3h-13.2zM489.4 51.8h13.2v1.3h-13.2zM515.2 72.8h13.2v1.3h-13.2zM528.0 57.8h13.2v1.3h-13.2zM540.9 115.8h13.2v1.3h-13.2zM540.9 65.8h13.2v1.3h-13.2zM540.9 60.8h13.2v1.3h-13.2zM553.8 64.8h13.2v1.3h-13.2zM553.8 62.8h13.2v1.3h-13.2zM566.6 64.8h13.2v1.3h-13.2zM566.6 63.8h13.2v1.3h-13.2zM566.6 62.8h13.2v1.3h-13.2zM566.6 58.8h13.2v1.3h-13.2zM579.5 123.8h13.2v1.3h-13.2zM618.1 121.8h13.2v1.3h-13.2z"/><path fill="#8c00ff" d="M193.4 118.8h13.2v1.3h-13.2zM193.4 76.8h13.2v1.3h-13.2zM193.4 65.8h13.2v1.3h-13.2zM193.4 44.8h13.2v1.3h-13.2zM193.4 41.8h13.2v1.3h-13.2zM206.3 62.8h13.2v1.3h-13.2zM219.1 94.8h13.2v1.3h-13.2zM219.1 72.8h13.2v1.3h-13.2zM219.1 66.8h13.2v1.3h-13.2zM219.1 57.8h13.2v1.3h-13.2zM219.1 53.8h13.2v1.3h-13.2zM219.1 50.8h13.2v1.3h-13.2zM232.0 79.8h13.2v1.3h-13.2zM232.0 73.8h13.2v1.3h-13.2zM232.0 70.8h13.2v1.3h-13.2zM232.0 69.8h13.2v1.3h-13.2zM232.0 68.8h13.2v1.3h-13.2zM232.0 63.8h13.2v1.3h-13.2zM232.0 61.8h13.2v1.3h-13.2zM232.0 58.8h13.2v1.3h-13.2zM232.0 57.8h13.2v1.3h-13.2zM232.0 53.8h13.2v1.3h-13.2zM244.9 69.8h13.2v1.3h-13.2zM244.9 67.8h13.2v1.3h-13.2zM244.9 63.8h13.2v1.3h-13.2zM244.9 59.8h13.2v1.3h-13.2zM244.9 58.8h13.2v1.3h-13.2zM244.9 57.8h13.2v1.3h-13.2zM257.7 75.8h13.2v1.3h-13.2zM257.7 73.8h13.2v1.3h-13.2zM257.7 71.8h13.2v1.3h-13.2zM257.7 68.8h13.2v1.3h-13.2zM257.7 67.8h13.2v1.3h-13.2zM257.7 65.8h13.2v1.3h-13.2zM257.7 64.8h13.2v1.3h-13.2zM257.7 63.8h13.2v1.3h-13.2zM257.7 62.8h13.2v1.3h-13.2zM257.7 60.8h13.2v1.3h-13.2zM257.7 57.8h13.2v1.3h-13.2zM270.6 66.8h13.2v1.3h-13.2zM270.6 62.8h13.2v1.3h-13.2zM283.5 73.8h13.2v1.3h-13.2zM283.5 72.8h13.2v1.3h-13.2zM283.5 71.8h13.2v1.3h-13.2zM283.5 70.8h13.2v1.3h-13.2zM283.5 69.8h13.2v1.3h-13.2zM283.5 68.8h13.2v1.3h-13.2zM283.5 66.8h13.2v1.3h-13.2zM283.5 65.8h13.2v1.3h-13.2zM283.5 64.8h13.2v1.3h-13.2zM283.5 62.8h13.2v1.3h-13.2zM283.5 60.8h13.2v1.3h-13.2zM283.5 59.8h13.2v1.3h-13.2zM296.4 69.8h13.2v1.3h-13.2zM296.4 68.8h13.2v1.3h-13.2zM296.4 63.8h13.2v1.3h-13.2zM296.4 61.8h13.2v1.3h-13.2zM296.4 59.8h13.2v1.3h-13.2zM296.4 58.8h13.2v1.3h-13.2zM309.2 73.8h13.2v1.3h-13.2zM309.2 71.8h13.2v1.3h-13.2zM309.2 70.8h13.2v1.3h-13.2zM309.2 69.8h13.2v1.3h-13.2zM309.2 68.8h13.2v1.3h-13.2zM309.2 67.8h13.2v1.3h-13.2zM309.2 65.8h13.2v1.3h-13.2zM309.2 64.8h13.2v1.3h-13.2zM309.2 63.8h13.2v1.3h-13.2zM309.2 62.8h13.2v1.3h-13.2zM309.2 58.8h13.2v1.3h-13.2zM322.1 71.8h13.2v1.3h-13.2zM322.1 70.8h13.2v1.3h-13.2zM322.1 69.8h13.2v1.3h-13.2zM322.1 68.8h13.2v1.3h-13.2zM322.1 67.8h13.2v1.3h-13.2zM322.1 66.8h13.2v1.3h-13.2zM322.1 65.8h13.2v1.3h-13.2zM322.1 64.8h13.2v1.3h-13.2zM322.1 63.8h13.2v1.3h-13.2zM322.1 62.8h13.2v1.3h-13.2zM322.1 61.8h13.2v1.3h-13.2zM322.1 60.8h13.2v1.3h-13.2zM322.1 59.8h13.2v1.3h-13.2zM322.1 58.8h13.2v1.3h-13.2zM322.1 57.8h13.2v1.3h-13.2zM322.1 56.8h13.2v1.3h-13.2zM335.0 75.8h13.2v1.3h-13.2zM335.0 73.8h13.2v1.3h-13.2zM335.0 71.8h13.2v1.3h-13.2zM335.0 69.8h13.2v1.3h-13.2zM335.0 68.8h13.2v1.3h-13.2zM335.0 67.8h13.2v1.3h-13.2zM335.0 66.8h13.2v1.3h-13.2zM335.0 64.8h13.2v1.3h-13.2zM335.0 62.8h13.2v1.3h-13.2zM335.0 61.8h13.2v1.3h-13.2zM347.8 71.8h13.2v1.3h-13.2zM347.8 70.8h13.2v1.3h-13.2zM347.8 69.8h13.2v1.3h-13.2zM347.8 68.8h13.2v1.3h-13.2zM347.8 67.8h13.2v1.3h-13.2zM347.8 66.8h13.2v1.3h-13.2zM347.8 65.8h13.2v1.3h-13.2zM347.8 64.8h13.2v1.3h-13.2zM347.8 63.8h13.2v1.3h-13.2zM347.8 62.8h13.2v1.3h-13.2zM347.8 60.8h13.2v1.3h-13.2zM360.7 74.8h13.2v1.3h-13.2zM360.7 72.8h13.2v1.3h-13.2zM360.7 71.8h13.2v1.3h-13.2zM360.7 70.8h13.2v1.3h-13.2zM360.7 69.8h13.2v1.3h-13.2zM360.7 68.8h13.2v1.3h-13.2zM360.7 67.8h13.2v1.3h-13.2zM360.7 66.8h13.2v1.3h-13.2zM360.7 65.8h13.2v1.3h-13.2zM360.7 64.8h13.2v1.3h-13.2zM360.7 63.8h13.2v1.3h-13.2zM360.7 62.8h13.2v1.3h-13.2zM360.7 61.8h13.2v1.3h-13.2zM360.7 60.8h13.2v1.3h-13.2zM360.7 59.8h13.2v1.3h-13.2zM373.6 72.8h13.2v1.3h-13.2zM373.6 71.8h13.2v1.3h-13.2zM373.6 70.8h13.2v1.3h-13.2zM373.6 68.8h13.2v1.3h-13.2zM373.6 66.8h13.2v1.3h-13.2zM373.6 65.8h13.2v1.3h-13.2zM373.6 63.8h13.2v1.3h-13.2zM373.6 62.8h13.2v1.3h-13.2zM373.6 60.8h13.2v1.3h-13.2zM386.4 72.8h13.2v1.3h-13.2zM386.4 68.8h13.2v1.3h-13.2zM386.4 67.8h13.2v1.3h-13.2zM386.4 66.8h13.2v1.3h-13.2zM386.4 65.8h13.2v1.3h-13.2zM386.4 64.8h13.2v1.3h-13.2zM386.4 63.8h13.2v1.3h-13.2zM386.4 62.8h13.2v1.3h-13.2zM386.4 61.8h13.2v1.3h-13.2zM386.4 60.8h13.2v1.3h-13.2zM399.3 68.8h13.2v1.3h-13.2zM399.3 67.8h13.2v1.3h-13.2zM399.3 65.8h13.2v1.3h-13.2zM399.3 62.8h13.2v1.3h-13.2zM425.1 67.8h13.2v1.3h-13.2zM425.1 64.8h13.2v1.3h-13.2z"/><path fill="#ffb500" d="M193.4 116.8h13.2v1.3h-13.2zM528.0 87.8h13.2v1.3h-13.2zM566.6 96.8h13.2v1.3h-13.2zM566.6 77.8h13.2v1.3h-13.2z"/><path fill="#007dff" d="M193.4 114.8h13.2v1.3h-13.2zM193.4 78.8h13.2v1.3h-13.2zM193.4 77.8h13.2v1.3h-13.2zM193.4 75.8h13.2v1.3h-13.2zM193.4 54.8h13.2v1.3h-13.2zM206.3 115.8h13.2v1.3h-13.2zM206.3 68.8h13.2v1.3h-13.2zM206.3 40.8h13.2v1.3h-13.2zM206.3 35.8h13.2v1.3h-13.2zM219.1 100.8h13.2v1.3h-13.2zM219.1 98.8h13.2v1.3h-13.2zM219.1 97.8h13.2v1.3h-13.2zM219.1 93.8h13.2v1.3h-13.2zM232.0 115.8h13.2v1.3h-13.2zM232.0 96.8h13.2v1.3h-13.2zM232.0 38.8h13.2v1.3h-13.2zM244.9 91.8h13.2v1.3h-13.2zM244.9 87.8h13.2v1.3h-13.2zM244.9 79.8h13.2v1.3h-13.2zM244.9 35.8h13.2v1.3h-13.2zM257.7 82.8h13.2v1.3h-13.2zM257.7 42.8h13.2v1.3h-13.2zM270.6 88.8h13.2v1.3h-13.2zM270.6 87.8h13.2v1.3h-13.2zM270.6 42.8h13.2v1.3h-13.2zM270.6 40.8h13.2v1.3h-13.2zM283.5 101.8h13.2v1.3h-13.2zM283.5 87.8h13.2v1.3h-13.2zM283.5 41.8h13.2v1.3h-13.2zM296.4 92.8h13.2v1.3h-13.2zM296.4 87.8h13.2v1.3h-13.2zM296.4 84.8h13.2v1.3h-13.2zM322.1 86.8h13.2v1.3h-13.2zM335.0 46.8h13.2v1.3h-13.2zM347.8 86.8h13.2v1.3h-13.2zM373.6 88.8h13.2v1.3h-13.2zM373.6 87.8h13.2v1.3h-13.2zM373.6 49.8h13.2v1.3h-13.2zM386.4 50.8h13.2v1.3h-13.2zM386.4 49.8h13.2v1.3h-13.2zM399.3 80.8h13.2v1.3h-13.2zM399.3 52.8h13.2v1.3h-13.2zM412.2 81.8h13.2v1.3h-13.2zM412.2 79.8h13.2v1.3h-13.2zM412.2 51.8h13.2v1.3h-13.2zM425.1 81.8h13.2v1.3h-13.2zM437.9 53.8h13.2v1.3h-13.2zM450.8 54.8h13.2v1.3h-13.2zM463.7 56.8h13.2v1.3h-13.2zM463.7 55.8h13.2v1.3h-13.2zM463.7 54.8h13.2v1.3h-13.2zM489.4 69.8h13.2v1.3h-13.2zM489.4 63.8h13.2v1.3h-13.2zM489.4 60.8h13.2v1.3h-13.2zM502.3 65.8h13.2v1.3h-13.2zM515.2 64.8h13.2v1.3h-13.2z"/><path fill="#0024ff" d="M193.4 113.8h13.2v1.3h-13.2zM193.4 72.8h13.2v1.3h-13.2zM193.4 56.8h13.2v1.3h-13.2zM193.4 48.8h13.2v1.3h-13.2zM193.4 36.8h13.2v1.3h-13.2zM206.3 74.8h13.2v1.3h-13.2zM206.3 51.8h13.2v1.3h-13.2zM219.1 82.8h13.2v1.3h-13.2zM219.1 78.8h13.2v1.3h-13.2zM219.1 71.8h13.2v1.3h-13.2zM219.1 42.8h13.2v1.3h-13.2zM232.0 50.8h13.2v1.3h-13.2zM244.9 48.8h13.2v1.3h-13.2zM244.9 43.8h13.2v1.3h-13.2zM244.9 42.8h13.2v1.3h-13.2zM244.9 37.8h13.2v1.3h-13.2zM257.7 43.8h13.2v1.3h-13.2zM270.6 83.8h13.2v1.3h-13.2zM270.6 79.8h13.2v1.3h-13.2zM270.6 78.8h13.2v1.3h-13.2zM270.6 49.8h13.2v1.3h-13.2zM270.6 47.8h13.2v1.3h-13.2zM270.6 44.8h13.2v1.3h-13.2zM296.4 80.8h13.2v1.3h-13.2zM309.2 50.8h13.2v1.3h-13.2zM335.0 80.8h13.2v1.3h-13.2zM347.8 51.8h13.2v1.3h-13.2zM360.7 52.8h13.2v1.3h-13.2zM373.6 81.8h13.2v1.3h-13.2zM373.6 51.8h13.2v1.3h-13.2zM386.4 81.8h13.2v1.3h-13.2zM412.2 77.8h13.2v1.3h-13.2zM450.8 59.8h13.2v1.3h-13.2zM463.7 65.8h13.2v1.3h-13.2zM463.7 64.8h13.2v1.3h-13.2zM463.7 61.8h13.2v1.3h-13.2zM476.5 64.8h13.2v1.3h-13.2zM476.5 62.8h13.2v1.3h-13.2z"/><path fill="#0041ff" d="M193.4 112.8h13.2v1.3h-13.2zM206.3 78.8h13.2v1.3h-13.2zM206.3 45.8h13.2v1.3h-13.2zM219.1 76.8h13.2v1.3h-13.2zM219.1 51.8h13.2v1.3h-13.2zM219.1 34.8h13.2v1.3h-13.2zM232.0 86.8h13.2v1.3h-13.2zM232.0 42.8h13.2v1.3h-13.2zM232.0 35.8h13.2v1.3h-13.2zM244.9 76.8h13.2v1.3h-13.2zM244.9 41.8h13.2v1.3h-13.2zM257.7 91.8h13.2v1.3h-13.2zM257.7 86.8h13.2v1.3h-13.2zM270.6 50.8h13.2v1.3h-13.2zM270.6 46.8h13.2v1.3h-13.2zM283.5 88.8h13.2v1.3h-13.2zM283.5 80.8h13.2v1.3h-13.2zM283.5 44.8h13.2v1.3h-13.2zM283.5 42.8h13.2v1.3h-13.2zM309.2 85.8h13.2v1.3h-13.2zM309.2 49.8h13.2v1.3h-13.2zM309.2 47.8h13.2v1.3h-13.2zM309.2 46.8h13.2v1.3h-13.2zM322.1 125.8h13.2v1.3h-13.2zM322.1 51.8h13.2v1.3h-13.2zM322.1 49.8h13.2v1.3h-13.2zM335.0 84.8h13.2v1.3h-13.2zM335.0 48.8h13.2v1.3h-13.2zM360.7 50.8h13.2v1.3h-13.2zM386.4 51.8h13.2v1.3h-13.2zM399.3 78.8h13.2v1.3h-13.2zM399.3 54.8h13.2v1.3h-13.2zM399.3 53.8h13.2v1.3h-13.2zM412.2 52.8h13.2v1.3h-13.2zM425.1 78.8h13.2v1.3h-13.2zM425.1 77.8h13.2v1.3h-13.2zM437.9 74.8h13.2v1.3h-13.2zM437.9 72.8h13.2v1.3h-13.2zM437.9 54.8h13.2v1.3h-13.2zM450.8 58.8h13.2v1.3h-13.2zM450.8 57.8h13.2v1.3h-13.2zM450.8 56.8h13.2v1.3h-13.2zM463.7 72.8h13.2v1.3h-13.2zM463.7 67.8h13.2v1.3h-13.2zM463.7 57.8h13.2v1.3h-13.2zM476.5 69.8h13.2v1.3h-13.2zM476.5 60.8h13.2v1.3h-13.2zM476.5 59.8h13.2v1.3h-13.2zM489.4 64.8h13.2v1.3h-13.2z"/><path fill="#c2ff00" d="M193.4 109.8h13.2v1.3h-13.2zM193.4 106.8h13.2v1.3h-13.2zM553.8 77.8h13.2v1.3h-13.2zM566.6 97.8h13.2v1.3h-13.2z"/><path fill="#d0ff00" d="M193.4 105.8h13.2v1.3h-13.2zM515.2 82.8h13.2v1.3h-13.2zM540.9 79.8h13.2v1.3h-13.2zM540.9 78.8h13.2v1.3h-13.2zM579.5 74.8h13.2v1.3h-13.2zM592.4 74.8h13.2v1.3h-13.2zM605.3 74.8h13.2v1.3h-13.2zM618.1 74.8h13.2v1.3h-13.2z"/><path fill="#00ff4a" d="M193.4 103.8h13.2v1.3h-13.2zM193.4 20.8h13.2v1.3h-13.2zM193.4 4.8h13.2v1.3h-13.2zM206.3 125.8h13.2v1.3h-13.2zM206.3 105.8h13.2v1.3h-13.2zM206.3 16.8h13.2v1.3h-13.2zM219.1 103.8h13.2v1.3h-13.2zM219.1 6.8h13.2v1.3h-13.2zM219.1 4.4h13.2v0.7h-13.2zM232.0 169.1h13.2v8.8h-13.2zM232.0 142.1h13.2v2.3h-13.2zM257.7 116.8h13.2v1.3h-13.2zM270.6 120.8h13.2v1.3h-13.2zM270.6 111.8h13.2v1.3h-13.2zM270.6 21.8h13.2v1.3h-13.2zM270.6 19.8h13.2v1.3h-13.2zM270.6 16.8h13.2v1.3h-13.2zM270.6 13.8h13.2v1.3h-13.2zM270.6 10.8h13.2v1.3h-13.2zM283.5 125.8h13.2v1.3h-13.2zM283.5 17.8h13.2v1.3h-13.2zM283.5 14.8h13.2v1.3h-13.2zM296.4 148.7h13.2v3.1h-13.2zM296.4 21.8h13.2v1.3h-13.2zM296.4 20.8h13.2v1.3h-13.2zM309.2 137.0h13.2v1.8h-13.2zM309.2 27.8h13.2v1.3h-13.2zM322.1 119.8h13.2v1.3h-13.2zM322.1 30.8h13.2v1.3h-13.2zM322.1 28.8h13.2v1.3h-13.2zM322.1 26.8h13.2v1.3h-13.2zM322.1 25.8h13.2v1.3h-13.2zM322.1 24.8h13.2v1.3h-13.2zM322.1 21.8h13.2v1.3h-13.2zM335.0 138.6h13.2v2.0h-13.2zM335.0 137.0h13.2v1.8h-13.2zM335.0 133.0h13.2v1.6h-13.2zM335.0 127.8h13.2v1.3h-13.2zM335.0 32.8h13.2v1.3h-13.2zM360.7 128.8h13.2v1.3h-13.2zM360.7 33.8h13.2v1.3h-13.2zM373.6 158.5h13.2v5.0h-13.2zM373.6 134.2h13.2v1.6h-13.2zM373.6 111.8h13.2v1.3h-13.2zM373.6 37.8h13.2v1.3h-13.2zM373.6 32.8h13.2v1.3h-13.2zM386.4 154.7h13.2v4.1h-13.2zM386.4 34.8h13.2v1.3h-13.2zM386.4 33.8h13.2v1.3h-13.2zM399.3 148.7h13.2v3.1h-13.2zM399.3 140.2h13.2v2.1h-13.2zM399.3 120.8h13.2v1.3h-13.2zM399.3 113.8h13.2v1.3h-13.2zM399.3 36.8h13.2v1.3h-13.2zM399.3 35.8h13.2v1.3h-13.2zM399.3 32.8h13.2v1.3h-13.2zM412.2 154.7h13.2v4.1h-13.2zM412.2 138.6h13.2v2.0h-13.2zM412.2 116.8h13.2v1.3h-13.2zM412.2 98.8h13.2v1.3h-13.2zM412.2 36.8h13.2v1.3h-13.2zM412.2 35.8h13.2v1.3h-13.2zM425.1 112.8h13.2v1.3h-13.2zM425.1 35.8h13.2v1.3h-13.2zM425.1 33.8h13.2v1.3h-13.2zM425.1 32.8h13.2v1.3h-13.2zM425.1 17.8h13.2v1.3h-13.2zM437.9 146.2h13.2v2.8h-13.2zM437.9 140.2h13.2v2.1h-13.2zM437.9 128.8h13.2v1.3h-13.2zM437.9 104.8h13.2v1.3h-13.2zM437.9 95.8h13.2v1.3h-13.2zM437.9 40.8h13.2v1.3h-13.2zM450.8 163.1h13.2v6.3h-13.2zM450.8 125.8h13.2v1.3h-13.2zM450.8 110.8h13.2v1.3h-13.2zM450.8 107.8h13.2v1.3h-13.2zM450.8 101.8h13.2v1.3h-13.2zM450.8 40.8h13.2v1.3h-13.2zM450.8 39.8h13.2v1.3h-13.2zM463.7 169.1h13.2v8.8h-13.2zM463.7 148.7h13.2v3.1h-13.2zM463.7 113.8h13.2v1.3h-13.2zM463.7 111.8h13.2v1.3h-13.2zM463.7 108.8h13.2v1.3h-13.2zM463.7 107.8h13.2v1.3h-13.2zM463.7 106.8h13.2v1.3h-13.2zM463.7 105.8h13.2v1.3h-13.2zM463.7 90.8h13.2v1.3h-13.2zM463.7 88.8h13.2v1.3h-13.2zM463.7 82.8h13.2v1.3h-13.2zM463.7 37.8h13.2v1.3h-13.2zM463.7 35.8h13.2v1.3h-13.2zM476.5 169.1h13.2v8.8h-13.2zM476.5 131.8h13.2v1.5h-13.2zM476.5 117.8h13.2v1.3h-13.2zM476.5 108.8h13.2v1.3h-13.2zM476.5 106.8h13.2v1.3h-13.2zM476.5 94.8h13.2v1.3h-13.2zM476.5 39.8h13.2v1.3h-13.2zM489.4 140.2h13.2v2.1h-13.2zM489.4 131.8h13.2v1.5h-13.2zM489.4 121.8h13.2v1.3h-13.2zM489.4 115.8h13.2v1.3h-13.2zM489.4 108.8h13.2v1.3h-13.2zM489.4 103.8h13.2v1.3h-13.2zM489.4 100.8h13.2v1.3h-13.2zM489.4 99.8h13.2v1.3h-13.2zM489.4 79.8h13.2v1.3h-13.2zM489.4 78.8h13.2v1.3h-13.2zM489.4 40.8h13.2v1.3h-13.2zM489.4 39.8h13.2v1.3h-13.2zM502.3 146.2h13.2v2.8h-13.2zM502.3 134.2h13.2v1.6h-13.2zM502.3 114.8h13.2v1.3h-13.2zM502.3 110.8h13.2v1.3h-13.2zM502.3 108.8h13.2v1.3h-13.2zM502.3 103.8h13.2v1.3h-13.2zM502.3 47.8h13.2v1.3h-13.2zM515.2 163.1h13.2v6.3h-13.2zM515.2 158.5h13.2v5.0h-13.2zM515.2 151.5h13.2v3.5h-13.2zM515.2 140.2h13.2v2.1h-13.2zM515.2 129.8h13.2v1.3h-13.2zM515.2 101.8h13.2v1.3h-13.2zM515.2 45.8h13.2v1.3h-13.2zM528.0 131.8h13.2v1.5h-13.2zM528.0 118.8h13.2v1.3h-13.2zM528.0 113.8h13.2v1.3h-13.2zM540.9 146.2h13.2v2.8h-13.2zM540.9 137.0h13.2v1.8h-13.2zM540.9 123.8h13.2v1.3h-13.2zM540.9 109.8h13.2v1.3h-13.2zM540.9 106.8h13.2v1.3h-13.2zM540.9 103.8h13.2v1.3h-13.2zM540.9 74.8h13.2v1.3h-13.2zM540.9 48.8h13.2v1.3h-13.2zM553.8 144.0h13.2v2.5h-13.2zM553.8 111.8h13.2v1.3h-13.2zM553.8 103.8h13.2v1.3h-13.2zM553.8 50.8h13.2v1.3h-13.2zM553.8 49.8h13.2v1.3h-13.2zM553.8 46.8h13.2v1.3h-13.2zM566.6 151.5h13.2v3.5h-13.2zM566.6 148.7h13.2v3.1h-13.2zM566.6 134.2h13.2v1.6h-13.2zM566.6 115.8h13.2v1.3h-13.2zM579.5 126.8h13.2v1.3h-13.2zM579.5 105.8h13.2v1.3h-13.2zM579.5 51.8h13.2v1.3h-13.2zM579.5 49.8h13.2v1.3h-13.2zM579.5 48.8h13.2v1.3h-13.2zM592.4 158.5h13.2v5.0h-13.2zM592.4 138.6h13.2v2.0h-13.2zM592.4 58.8h13.2v1.3h-13.2zM605.3 151.5h13.2v3.5h-13.2zM605.3 135.6h13.2v1.7h-13.2zM605.3 115.8h13.2v1.3h-13.2zM605.3 55.8h13.2v1.3h-13.2zM605.3 54.8h13.2v1.3h-13.2zM605.3 52.8h13.2v1.3h-13.2zM605.3 50.8h13.2v1.3h-13.2zM618.1 122.8h13.2v1.3h-13.2zM618.1 55.8h13.2v1.3h-13.2zM618.1 49.8h13.2v1.3h-13.2zM618.1 48.8h13.2v1.3h-13.2zM618.1 47.8h13.2v1.3h-13.2zM618.1 46.8h13.2v1.3h-13.2z"/><path fill="#00ff00" d="M193.4 102.8h13.2v1.3h-13.2zM206.3 158.5h13.2v5.0h-13.2zM232.0 163.1h13.2v6.3h-13.2zM232.0 123.8h13.2v1.3h-13.2zM232.0 4.8h13.2v1.3h-13.2zM232.0 4.4h13.2v0.7h-13.2zM244.9 169.1h13.2v8.8h-13.2zM244.9 126.8h13.2v1.3h-13.2zM244.9 4.8h13.2v1.3h-13.2zM270.6 5.8h13.2v1.3h-13.2zM283.5 169.1h13.2v8.8h-13.2zM283.5 154.7h13.2v4.1h-13.2zM283.5 131.8h13.2v1.5h-13.2zM283.5 12.8h13.2v1.3h-13.2zM296.4 138.6h13.2v2.0h-13.2zM296.4 124.8h13.2v1.3h-13.2zM309.2 125.8h13.2v1.3h-13.2zM309.2 18.8h13.2v1.3h-13.2zM309.2 16.8h13.2v1.3h-13.2zM309.2 9.8h13.2v1.3h-13.2zM309.2 7.8h13.2v1.3h-13.2zM309.2 4.8h13.2v1.3h-13.2zM322.1 107.8h13.2v1.3h-13.2zM322.1 17.8h13.2v1.3h-13.2zM322.1 11.8h13.2v1.3h-13.2zM322.1 8.8h13.2v1.3h-13.2zM335.0 148.7h13.2v3.1h-13.2zM335.0 128.8h13.2v1.3h-13.2zM335.0 11.8h13.2v1.3h-13.2zM347.8 29.8h13.2v1.3h-13.2zM347.8 26.8h13.2v1.3h-13.2zM347.8 24.8h13.2v1.3h-13.2zM347.8 22.8h13.2v1.3h-13.2zM347.8 19.8h13.2v1.3h-13.2zM347.8 15.8h13.2v1.3h-13.2zM347.8 11.8h13.2v1.3h-13.2zM347.8 8.8h13.2v1.3h-13.2zM360.7 169.1h13.2v8.8h-13.2zM360.7 163.1h13.2v6.3h-13.2zM360.7 142.1h13.2v2.3h-13.2zM360.7 23.8h13.2v1.3h-13.2zM360.7 21.8h13.2v1.3h-13.2zM360.7 19.8h13.2v1.3h-13.2zM360.7 12.8h13.2v1.3h-13.2zM360.7 11.8h13.2v1.3h-13.2zM360.7 4.4h13.2v0.7h-13.2zM373.6 21.8h13.2v1.3h-13.2zM373.6 20.8h13.2v1.3h-13.2zM373.6 19.8h13.2v1.3h-13.2zM373.6 18.8h13.2v1.3h-13.2zM373.6 15.8h13.2v1.3h-13.2zM373.6 13.8h13.2v1.3h-13.2zM373.6 11.8h13.2v1.3h-13.2zM373.6 10.8h13.2v1.3h-13.2zM373.6 9.8h13.2v1.3h-13.2zM373.6 4.8h13.2v1.3h-13.2zM386.4 23.8h13.2v1.3h-13.2zM386.4 22.8h13.2v1.3h-13.2zM386.4 20.8h13.2v1.3h-13.2zM386.4 19.8h13.2v1.3h-13.2zM386.4 18.8h13.2v1.3h-13.2zM386.4 12.8h13.2v1.3h-13.2zM399.3 128.8h13.2v1.3h-13.2zM399.3 25.8h13.2v1.3h-13.2zM399.3 24.8h13.2v1.3h-13.2zM399.3 22.8h13.2v1.3h-13.2zM412.2 151.5h13.2v3.5h-13.2zM412.2 32.8h13.2v1.3h-13.2zM412.2 29.8h13.2v1.3h-13.2zM412.2 20.8h13.2v1.3h-13.2zM412.2 6.8h13.2v1.3h-13.2zM425.1 140.2h13.2v2.1h-13.2zM425.1 13.8h13.2v1.3h-13.2zM425.1 4.4h13.2v0.7h-13.2zM437.9 163.1h13.2v6.3h-13.2zM437.9 34.8h13.2v1.3h-13.2zM437.9 33.8h13.2v1.3h-13.2zM450.8 30.8h13.2v1.3h-13.2zM450.8 22.8h13.2v1.3h-13.2zM450.8 20.8h13.2v1.3h-13.2zM450.8 19.8h13.2v1.3h-13.2zM450.8 17.8h13.2v1.3h-13.2zM450.8 16.8h13.2v1.3h-13.2zM450.8 15.8h13.2v1.3h-13.2zM450.8 8.8h13.2v1.3h-13.2zM450.8 5.8h13.2v1.3h-13.2zM450.8 4.8h13.2v1.3h-13.2zM450.8 4.4h13.2v0.7h-13.2zM463.7 146.2h13.2v2.8h-13.2zM463.7 137.0h13.2v1.8h-13.2zM463.7 93.8h13.2v1.3h-13.2zM463.7 89.8h13.2v1.3h-13.2zM463.7 30.8h13.2v1.3h-13.2zM463.7 28.8h13.2v1.3h-13.2zM463.7 20.8h13.2v1.3h-13.2zM463.7 19.8h13.2v1.3h-13.2zM463.7 16.8h13.2v1.3h-13.2zM463.7 7.8h13.2v1.3h-13.2zM463.7 6.8h13.2v1.3h-13.2zM476.5 100.8h13.2v1.3h-13.2zM476.5 90.8h13.2v1.3h-13.2zM476.5 86.8h13.2v1.3h-13.2zM476.5 30.8h13.2v1.3h-13.2zM476.5 26.8h13.2v1.3h-13.2zM476.5 24.8h13.2v1.3h-13.2zM476.5 22.8h13.2v1.3h-13.2zM476.5 17.8h13.2v1.3h-13.2zM476.5 14.8h13.2v1.3h-13.2zM476.5 11.8h13.2v1.3h-13.2zM476.5 9.8h13.2v1.3h-13.2zM476.5 8.8h13.2v1.3h-13.2zM489.4 146.2h13.2v2.8h-13.2zM489.4 137.0h13.2v1.8h-13.2zM489.4 104.8h13.2v1.3h-13.2zM489.4 96.8h13.2v1.3h-13.2zM489.4 95.8h13.2v1.3h-13.2zM489.4 94.8h13.2v1.3h-13.2zM489.4 92.8h13.2v1.3h-13.2zM489.4 90.8h13.2v1.3h-13.2zM489.4 31.8h13.2v1.3h-13.2zM489.4 17.8h13.2v1.3h-13.2zM489.4 11.8h13.2v1.3h-13.2zM502.3 169.1h13.2v8.8h-13.2zM502.3 163.1h13.2v6.3h-13.2zM502.3 151.5h13.2v3.5h-13.2zM502.3 100.8h13.2v1.3h-13.2zM502.3 97.8h13.2v1.3h-13.2zM502.3 78.8h13.2v1.3h-13.2zM502.3 39.8h13.2v1.3h-13.2zM502.3 37.8h13.2v1.3h-13.2zM502.3 35.8h13.2v1.3h-13.2zM502.3 33.8h13.2v1.3h-13.2zM502.3 32.8h13.2v1.3h-13.2zM502.3 31.8h13.2v1.3h-13.2zM502.3 30.8h13.2v1.3h-13.2zM502.3 4.4h13.2v0.7h-13.2zM515.2 137.0h13.2v1.8h-13.2zM515.2 97.8h13.2v1.3h-13.2zM515.2 79.8h13.2v1.3h-13.2zM515.2 36.8h13.2v1.3h-13.2zM515.2 34.8h13.2v1.3h-13.2zM515.2 33.8h13.2v1.3h-13.2zM515.2 31.8h13.2v1.3h-13.2zM515.2 24.8h13.2v1.3h-13.2zM515.2 14.8h13.2v1.3h-13.2zM515.2 13.8h13.2v1.3h-13.2zM515.2 12.8h13.2v1.3h-13.2zM515.2 11.8h13.2v1.3h-13.2zM515.2 10.8h13.2v1.3h-13.2zM515.2 7.8h13.2v1.3h-13.2zM515.2 6.8h13.2v1.3h-13.2zM528.0 44.8h13.2v1.3h-13.2zM528.0 26.8h13.2v1.3h-13.2zM540.9 144.0h13.2v2.5h-13.2zM540.9 31.8h13.2v1.3h-13.2zM540.9 30.8h13.2v1.3h-13.2zM540.9 29.8h13.2v1.3h-13.2zM540.9 28.8h13.2v1.3h-13.2zM540.9 26.8h13.2v1.3h-13.2zM540.9 24.8h13.2v1.3h-13.2zM540.9 23.8h13.2v1.3h-13.2zM540.9 22.8h13.2v1.3h-13.2zM540.9 21.8h13.2v1.3h-13.2zM540.9 19.8h13.2v1.3h-13.2zM540.9 18.8h13.2v1.3h-13.2zM540.9 17.8h13.2v1.3h-13.2zM540.9 11.8h13.2v1.3h-13.2zM540.9 10.8h13.2v1.3h-13.2zM540.9 9.8h13.2v1.3h-13.2zM540.9 8.8h13.2v1.3h-13.2zM540.9 7.8h13.2v1.3h-13.2zM553.8 34.8h13.2v1.3h-13.2zM553.8 31.8h13.2v1.3h-13.2zM553.8 30.8h13.2v1.3h-13.2zM553.8 27.8h13.2v1.3h-13.2zM553.8 23.8h13.2v1.3h-13.2zM553.8 21.8h13.2v1.3h-13.2zM553.8 20.8h13.2v1.3h-13.2zM553.8 19.8h13.2v1.3h-13.2zM553.8 15.8h13.2v1.3h-13.2zM553.8 12.8h13.2v1.3h-13.2zM553.8 9.8h13.2v1.3h-13.2zM566.6 103.8h13.2v1.3h-13.2zM566.6 102.8h13.2v1.3h-13.2zM566.6 42.8h13.2v1.3h-13.2zM566.6 40.8h13.2v1.3h-13.2zM566.6 39.8h13.2v1.3h-13.2zM566.6 33.8h13.2v1.3h-13.2zM566.6 32.8h13.2v1.3h-13.2zM566.6 30.8h13.2v1.3h-13.2zM566.6 28.8h13.2v1.3h-13.2zM566.6 26.8h13.2v1.3h-13.2zM566.6 24.8h13.2v1.3h-13.2zM566.6 21.8h13.2v1.3h-13.2zM566.6 20.8h13.2v1.3h-13.2zM566.6 18.8h13.2v1.3h-13.2zM566.6 15.8h13.2v1.3h-13.2zM566.6 11.8h13.2v1.3h-13.2zM566.6 10.8h13.2v1.3h-13.2zM566.6 8.8h13.2v1.3h-13.2zM566.6 4.4h13.2v0.7h-13.2zM579.5 37.8h13.2v1.3h-13.2zM579.5 34.8h13.2v1.3h-13.2zM579.5 29.8h13.2v1.3h-13.2zM579.5 18.8h13.2v1.3h-13.2zM579.5 17.8h13.2v1.3h-13.2zM579.5 7.8h13.2v1.3h-13.2zM579.5 4.4h13.2v0.7h-13.2zM592.4 163.1h13.2v6.3h-13.2zM592.4 148.7h13.2v3.1h-13.2zM592.4 146.2h13.2v2.8h-13.2zM592.4 144.0h13.2v2.5h-13.2zM592.4 128.8h13.2v1.3h-13.2zM592.4 71.8h13.2v1.3h-13.2zM592.4 53.8h13.2v1.3h-13.2zM592.4 50.8h13.2v1.3h-13.2zM592.4 46.8h13.2v1.3h-13.2zM592.4 45.8h13.2v1.3h-13.2zM592.4 32.8h13.2v1.3h-13.2zM592.4 30.8h13.2v1.3h-13.2zM592.4 29.8h13.2v1.3h-13.2zM605.3 163.1h13.2v6.3h-13.2zM605.3 154.7h13.2v4.1h-13.2zM605.3 46.8h13.2v1.3h-13.2zM605.3 42.8h13.2v1.3h-13.2zM605.3 38.8h13.2v1.3h-13.2zM605.3 22.8h13.2v1.3h-13.2zM605.3 21.8h13.2v1.3h-13.2zM618.1 39.8h13.2v1.3h-13.2zM618.1 38.8h13.2v1.3h-13.2zM618.1 33.8h13.2v1.3h-13.2zM618.1 22.8h13.2v1.3h-13.2zM618.1 21.8h13.2v1.3h-13.2zM618.1 19.8h13.2v1.3h-13.2zM618.1 18.8h13.2v1.3h-13.2zM618.1 17.8h13.2v1.3h-13.2zM618.1 16.8h13.2v1.3h-13.2zM618.1 13.8h13.2v1.3h-13.2z"/><path fill="#00ffde" d="M193.4 101.8h13.2v1.3h-13.2zM193.4 82.8h13.2v1.3h-13.2zM206.3 19.8h13.2v1.3h-13.2zM219.1 135.6h13.2v1.7h-13.2zM219.1 122.8h13.2v1.3h-13.2zM219.1 30.8h13.2v1.3h-13.2zM219.1 16.8h13.2v1.3h-13.2zM232.0 122.8h13.2v1.3h-13.2zM232.0 98.8h13.2v1.3h-13.2zM232.0 93.8h13.2v1.3h-13.2zM232.0 31.8h13.2v1.3h-13.2zM244.9 124.8h13.2v1.3h-13.2zM244.9 117.8h13.2v1.3h-13.2zM244.9 106.8h13.2v1.3h-13.2zM257.7 138.6h13.2v2.0h-13.2zM257.7 118.8h13.2v1.3h-13.2zM257.7 114.8h13.2v1.3h-13.2zM257.7 113.8h13.2v1.3h-13.2zM257.7 101.8h13.2v1.3h-13.2zM270.6 107.8h13.2v1.3h-13.2zM270.6 103.8h13.2v1.3h-13.2zM270.6 98.8h13.2v1.3h-13.2zM270.6 31.8h13.2v1.3h-13.2zM270.6 29.8h13.2v1.3h-13.2zM283.5 129.8h13.2v1.3h-13.2zM283.5 110.8h13.2v1.3h-13.2zM283.5 109.8h13.2v1.3h-13.2zM283.5 104.8h13.2v1.3h-13.2zM283.5 100.8h13.2v1.3h-13.2zM296.4 135.6h13.2v1.7h-13.2zM296.4 96.8h13.2v1.3h-13.2zM309.2 98.8h13.2v1.3h-13.2zM309.2 34.8h13.2v1.3h-13.2zM322.1 40.8h13.2v1.3h-13.2zM322.1 37.8h13.2v1.3h-13.2zM335.0 41.8h13.2v1.3h-13.2zM347.8 96.8h13.2v1.3h-13.2zM347.8 43.8h13.2v1.3h-13.2zM360.7 138.6h13.2v2.0h-13.2zM360.7 102.8h13.2v1.3h-13.2zM360.7 43.8h13.2v1.3h-13.2zM360.7 42.8h13.2v1.3h-13.2zM373.6 142.1h13.2v2.3h-13.2zM373.6 120.8h13.2v1.3h-13.2zM373.6 108.8h13.2v1.3h-13.2zM373.6 43.8h13.2v1.3h-13.2zM386.4 97.8h13.2v1.3h-13.2zM386.4 94.8h13.2v1.3h-13.2zM386.4 92.8h13.2v1.3h-13.2zM399.3 91.8h13.2v1.3h-13.2zM399.3 45.8h13.2v1.3h-13.2zM399.3 44.8h13.2v1.3h-13.2zM412.2 92.8h13.2v1.3h-13.2zM412.2 87.8h13.2v1.3h-13.2zM412.2 46.8h13.2v1.3h-13.2zM425.1 121.8h13.2v1.3h-13.2zM425.1 99.8h13.2v1.3h-13.2zM425.1 47.8h13.2v1.3h-13.2zM437.9 46.8h13.2v1.3h-13.2zM450.8 79.8h13.2v1.3h-13.2zM463.7 47.8h13.2v1.3h-13.2zM476.5 77.8h13.2v1.3h-13.2zM489.4 122.8h13.2v1.3h-13.2zM489.4 74.8h13.2v1.3h-13.2zM489.4 53.8h13.2v1.3h-13.2zM489.4 52.8h13.2v1.3h-13.2zM502.3 73.8h13.2v1.3h-13.2zM515.2 107.8h13.2v1.3h-13.2zM528.0 69.8h13.2v1.3h-13.2zM540.9 122.8h13.2v1.3h-13.2zM540.9 117.8h13.2v1.3h-13.2zM540.9 69.8h13.2v1.3h-13.2zM540.9 66.8h13.2v1.3h-13.2zM540.9 61.8h13.2v1.3h-13.2zM540.9 58.8h13.2v1.3h-13.2zM553.8 124.8h13.2v1.3h-13.2zM553.8 60.8h13.2v1.3h-13.2zM553.8 58.8h13.2v1.3h-13.2zM566.6 127.8h13.2v1.3h-13.2zM566.6 61.8h13.2v1.3h-13.2zM579.5 114.8h13.2v1.3h-13.2zM579.5 62.8h13.2v1.3h-13.2zM605.3 122.8h13.2v1.3h-13.2zM605.3 118.8h13.2v1.3h-13.2z"/><path fill="#5200ff" d="M193.4 100.8h13.2v1.3h-13.2zM193.4 79.8h13.2v1.3h-13.2zM193.4 70.8h13.2v1.3h-13.2zM193.4 61.8h13.2v1.3h-13.2zM193.4 42.8h13.2v1.3h-13.2zM206.3 65.8h13.2v1.3h-13.2zM206.3 53.8h13.2v1.3h-13.2zM219.1 54.8h13.2v1.3h-13.2zM219.1 45.8h13.2v1.3h-13.2zM232.0 74.8h13.2v1.3h-13.2zM232.0 65.8h13.2v1.3h-13.2zM232.0 62.8h13.2v1.3h-13.2zM232.0 60.8h13.2v1.3h-13.2zM244.9 71.8h13.2v1.3h-13.2zM244.9 66.8h13.2v1.3h-13.2zM244.9 54.8h13.2v1.3h-13.2zM244.9 51.8h13.2v1.3h-13.2zM257.7 58.8h13.2v1.3h-13.2zM270.6 60.8h13.2v1.3h-13.2zM270.6 56.8h13.2v1.3h-13.2zM270.6 55.8h13.2v1.3h-13.2zM283.5 52.8h13.2v1.3h-13.2zM296.4 73.8h13.2v1.3h-13.2zM309.2 78.8h13.2v1.3h-13.2zM309.2 76.8h13.2v1.3h-13.2zM309.2 74.8h13.2v1.3h-13.2zM309.2 59.8h13.2v1.3h-13.2zM309.2 55.8h13.2v1.3h-13.2zM335.0 81.8h13.2v1.3h-13.2zM335.0 74.8h13.2v1.3h-13.2zM335.0 57.8h13.2v1.3h-13.2zM347.8 57.8h13.2v1.3h-13.2zM360.7 79.8h13.2v1.3h-13.2zM360.7 76.8h13.2v1.3h-13.2zM360.7 57.8h13.2v1.3h-13.2zM373.6 57.8h13.2v1.3h-13.2zM373.6 56.8h13.2v1.3h-13.2zM386.4 75.8h13.2v1.3h-13.2zM386.4 74.8h13.2v1.3h-13.2zM386.4 70.8h13.2v1.3h-13.2zM386.4 59.8h13.2v1.3h-13.2zM386.4 58.8h13.2v1.3h-13.2zM399.3 73.8h13.2v1.3h-13.2zM412.2 69.8h13.2v1.3h-13.2zM412.2 63.8h13.2v1.3h-13.2zM425.1 71.8h13.2v1.3h-13.2zM425.1 62.8h13.2v1.3h-13.2z"/><path fill="#0050ff" d="M193.4 96.8h13.2v1.3h-13.2zM193.4 66.8h13.2v1.3h-13.2zM193.4 32.8h13.2v1.3h-13.2zM206.3 84.8h13.2v1.3h-13.2zM206.3 75.8h13.2v1.3h-13.2zM206.3 43.8h13.2v1.3h-13.2zM219.1 35.8h13.2v1.3h-13.2zM232.0 39.8h13.2v1.3h-13.2zM244.9 96.8h13.2v1.3h-13.2zM244.9 83.8h13.2v1.3h-13.2zM257.7 95.8h13.2v1.3h-13.2zM257.7 85.8h13.2v1.3h-13.2zM257.7 84.8h13.2v1.3h-13.2zM257.7 78.8h13.2v1.3h-13.2zM257.7 44.8h13.2v1.3h-13.2zM257.7 41.8h13.2v1.3h-13.2zM257.7 40.8h13.2v1.3h-13.2zM283.5 85.8h13.2v1.3h-13.2zM283.5 83.8h13.2v1.3h-13.2zM283.5 81.8h13.2v1.3h-13.2zM296.4 118.8h13.2v1.3h-13.2zM296.4 47.8h13.2v1.3h-13.2zM322.1 88.8h13.2v1.3h-13.2zM322.1 87.8h13.2v1.3h-13.2zM322.1 85.8h13.2v1.3h-13.2zM322.1 48.8h13.2v1.3h-13.2zM335.0 49.8h13.2v1.3h-13.2zM347.8 85.8h13.2v1.3h-13.2zM347.8 50.8h13.2v1.3h-13.2zM399.3 79.8h13.2v1.3h-13.2zM412.2 78.8h13.2v1.3h-13.2zM412.2 75.8h13.2v1.3h-13.2zM412.2 53.8h13.2v1.3h-13.2zM437.9 73.8h13.2v1.3h-13.2zM437.9 58.8h13.2v1.3h-13.2zM463.7 70.8h13.2v1.3h-13.2zM463.7 69.8h13.2v1.3h-13.2zM463.7 68.8h13.2v1.3h-13.2zM463.7 59.8h13.2v1.3h-13.2zM463.7 58.8h13.2v1.3h-13.2zM476.5 68.8h13.2v1.3h-13.2zM489.4 65.8h13.2v1.3h-13.2zM489.4 61.8h13.2v1.3h-13.2z"/><path fill="#00e4ff" d="M193.4 95.8h13.2v1.3h-13.2zM193.4 38.8h13.2v1.3h-13.2zM193.4 29.8h13.2v1.3h-13.2zM193.4 27.8h13.2v1.3h-13.2zM206.3 146.2h13.2v2.8h-13.2zM206.3 48.8h13.2v1.3h-13.2zM206.3 30.8h13.2v1.3h-13.2zM219.1 128.8h13.2v1.3h-13.2zM219.1 123.8h13.2v1.3h-13.2zM219.1 121.8h13.2v1.3h-13.2zM219.1 99.8h13.2v1.3h-13.2zM219.1 86.8h13.2v1.3h-13.2zM232.0 140.2h13.2v2.1h-13.2zM232.0 112.8h13.2v1.3h-13.2zM232.0 36.8h13.2v1.3h-13.2zM232.0 18.8h13.2v1.3h-13.2zM244.9 98.8h13.2v1.3h-13.2zM257.7 98.8h13.2v1.3h-13.2zM257.7 30.8h13.2v1.3h-13.2zM270.6 158.5h13.2v5.0h-13.2zM270.6 126.8h13.2v1.3h-13.2zM270.6 99.8h13.2v1.3h-13.2zM270.6 94.8h13.2v1.3h-13.2zM283.5 137.0h13.2v1.8h-13.2zM283.5 122.8h13.2v1.3h-13.2zM283.5 95.8h13.2v1.3h-13.2zM283.5 37.8h13.2v1.3h-13.2zM296.4 95.8h13.2v1.3h-13.2zM296.4 36.8h13.2v1.3h-13.2zM309.2 154.7h13.2v4.1h-13.2zM309.2 109.8h13.2v1.3h-13.2zM309.2 38.8h13.2v1.3h-13.2zM322.1 95.8h13.2v1.3h-13.2zM322.1 42.8h13.2v1.3h-13.2zM335.0 105.8h13.2v1.3h-13.2zM335.0 91.8h13.2v1.3h-13.2zM335.0 43.8h13.2v1.3h-13.2zM347.8 129.8h13.2v1.3h-13.2zM347.8 97.8h13.2v1.3h-13.2zM347.8 46.8h13.2v1.3h-13.2zM347.8 45.8h13.2v1.3h-13.2zM360.7 133.0h13.2v1.6h-13.2zM360.7 126.8h13.2v1.3h-13.2zM360.7 95.8h13.2v1.3h-13.2zM373.6 96.8h13.2v1.3h-13.2zM373.6 95.8h13.2v1.3h-13.2zM386.4 93.8h13.2v1.3h-13.2zM399.3 88.8h13.2v1.3h-13.2zM412.2 49.8h13.2v1.3h-13.2zM437.9 51.8h13.2v1.3h-13.2zM437.9 49.8h13.2v1.3h-13.2zM463.7 49.8h13.2v1.3h-13.2zM476.5 54.8h13.2v1.3h-13.2zM476.5 53.8h13.2v1.3h-13.2zM502.3 71.8h13.2v1.3h-13.2zM515.2 69.8h13.2v1.3h-13.2zM515.2 58.8h13.2v1.3h-13.2zM515.2 57.8h13.2v1.3h-13.2zM515.2 55.8h13.2v1.3h-13.2zM528.0 67.8h13.2v1.3h-13.2zM528.0 65.8h13.2v1.3h-13.2zM528.0 63.8h13.2v1.3h-13.2zM528.0 61.8h13.2v1.3h-13.2zM528.0 60.8h13.2v1.3h-13.2zM528.0 58.8h13.2v1.3h-13.2zM540.9 138.6h13.2v2.0h-13.2zM540.9 64.8h13.2v1.3h-13.2zM592.4 119.8h13.2v1.3h-13.2zM618.1 113.8h13.2v1.3h-13.2z"/><path fill="#008bff" d="M193.4 94.8h13.2v1.3h-13.2zM193.4 33.8h13.2v1.3h-13.2zM206.3 80.8h13.2v1.3h-13.2zM206.3 34.8h13.2v1.3h-13.2zM206.3 32.8h13.2v1.3h-13.2zM206.3 29.8h13.2v1.3h-13.2zM219.1 142.1h13.2v2.3h-13.2zM219.1 127.8h13.2v1.3h-13.2zM219.1 91.8h13.2v1.3h-13.2zM219.1 32.8h13.2v1.3h-13.2zM232.0 110.8h13.2v1.3h-13.2zM232.0 95.8h13.2v1.3h-13.2zM232.0 89.8h13.2v1.3h-13.2zM232.0 88.8h13.2v1.3h-13.2zM232.0 85.8h13.2v1.3h-13.2zM232.0 82.8h13.2v1.3h-13.2zM244.9 97.8h13.2v1.3h-13.2zM244.9 95.8h13.2v1.3h-13.2zM244.9 36.8h13.2v1.3h-13.2zM244.9 34.8h13.2v1.3h-13.2zM257.7 88.8h13.2v1.3h-13.2zM257.7 39.8h13.2v1.3h-13.2zM270.6 115.8h13.2v1.3h-13.2zM270.6 85.8h13.2v1.3h-13.2zM270.6 43.8h13.2v1.3h-13.2zM283.5 96.8h13.2v1.3h-13.2zM283.5 92.8h13.2v1.3h-13.2zM296.4 115.8h13.2v1.3h-13.2zM296.4 88.8h13.2v1.3h-13.2zM296.4 44.8h13.2v1.3h-13.2zM309.2 86.8h13.2v1.3h-13.2zM309.2 43.8h13.2v1.3h-13.2zM322.1 90.8h13.2v1.3h-13.2zM322.1 46.8h13.2v1.3h-13.2zM322.1 45.8h13.2v1.3h-13.2zM335.0 88.8h13.2v1.3h-13.2zM347.8 89.8h13.2v1.3h-13.2zM347.8 84.8h13.2v1.3h-13.2zM347.8 48.8h13.2v1.3h-13.2zM360.7 49.8h13.2v1.3h-13.2zM360.7 48.8h13.2v1.3h-13.2zM373.6 48.8h13.2v1.3h-13.2zM386.4 85.8h13.2v1.3h-13.2zM399.3 81.8h13.2v1.3h-13.2zM399.3 50.8h13.2v1.3h-13.2zM399.3 49.8h13.2v1.3h-13.2zM412.2 80.8h13.2v1.3h-13.2zM425.1 80.8h13.2v1.3h-13.2zM425.1 51.8h13.2v1.3h-13.2zM437.9 77.8h13.2v1.3h-13.2zM450.8 76.8h13.2v1.3h-13.2zM502.3 66.8h13.2v1.3h-13.2zM502.3 64.8h13.2v1.3h-13.2zM502.3 62.8h13.2v1.3h-13.2zM515.2 62.8h13.2v1.3h-13.2z"/><path fill="#00c7ff" d="M193.4 93.8h13.2v1.3h-13.2zM206.3 96.8h13.2v1.3h-13.2zM219.1 87.8h13.2v1.3h-13.2zM232.0 134.2h13.2v1.6h-13.2zM232.0 124.8h13.2v1.3h-13.2zM232.0 80.8h13.2v1.3h-13.2zM244.9 94.8h13.2v1.3h-13.2zM244.9 93.8h13.2v1.3h-13.2zM244.9 31.8h13.2v1.3h-13.2zM244.9 30.8h13.2v1.3h-13.2zM244.9 28.8h13.2v1.3h-13.2zM257.7 38.8h13.2v1.3h-13.2zM257.7 32.8h13.2v1.3h-13.2zM270.6 112.8h13.2v1.3h-13.2zM270.6 35.8h13.2v1.3h-13.2zM283.5 123.8h13.2v1.3h-13.2zM283.5 105.8h13.2v1.3h-13.2zM296.4 43.8h13.2v1.3h-13.2zM296.4 40.8h13.2v1.3h-13.2zM296.4 37.8h13.2v1.3h-13.2zM309.2 39.8h13.2v1.3h-13.2zM322.1 94.8h13.2v1.3h-13.2zM335.0 89.8h13.2v1.3h-13.2zM335.0 44.8h13.2v1.3h-13.2zM360.7 90.8h13.2v1.3h-13.2zM373.6 101.8h13.2v1.3h-13.2zM373.6 84.8h13.2v1.3h-13.2zM373.6 45.8h13.2v1.3h-13.2zM386.4 108.8h13.2v1.3h-13.2zM386.4 45.8h13.2v1.3h-13.2zM425.1 50.8h13.2v1.3h-13.2zM450.8 77.8h13.2v1.3h-13.2zM450.8 52.8h13.2v1.3h-13.2zM463.7 51.8h13.2v1.3h-13.2zM489.4 56.8h13.2v1.3h-13.2zM502.3 69.8h13.2v1.3h-13.2zM515.2 60.8h13.2v1.3h-13.2z"/><path fill="#37ff00" d="M193.4 91.8h13.2v1.3h-13.2zM193.4 4.4h13.2v0.7h-13.2zM219.1 163.1h13.2v6.3h-13.2zM219.1 154.7h13.2v4.1h-13.2zM219.1 138.6h13.2v2.0h-13.2zM296.4 142.1h13.2v2.3h-13.2zM335.0 8.8h13.2v1.3h-13.2zM335.0 7.8h13.2v1.3h-13.2zM335.0 6.8h13.2v1.3h-13.2zM347.8 158.5h13.2v5.0h-13.2zM347.8 127.8h13.2v1.3h-13.2zM347.8 126.8h13.2v1.3h-13.2zM399.3 10.8h13.2v1.3h-13.2zM399.3 7.8h13.2v1.3h-13.2zM399.3 6.8h13.2v1.3h-13.2zM399.3 4.4h13.2v0.7h-13.2zM412.2 135.6h13.2v1.7h-13.2zM412.2 134.2h13.2v1.6h-13.2zM412.2 11.8h13.2v1.3h-13.2zM437.9 142.1h13.2v2.3h-13.2zM502.3 23.8h13.2v1.3h-13.2zM502.3 22.8h13.2v1.3h-13.2zM502.3 20.8h13.2v1.3h-13.2zM502.3 19.8h13.2v1.3h-13.2zM502.3 15.8h13.2v1.3h-13.2zM515.2 96.8h13.2v1.3h-13.2zM515.2 80.8h13.2v1.3h-13.2zM528.0 6.8h13.2v1.3h-13.2zM540.9 158.5h13.2v5.0h-13.2zM540.9 76.8h13.2v1.3h-13.2zM566.6 99.8h13.2v1.3h-13.2zM579.5 101.8h13.2v1.3h-13.2zM579.5 72.8h13.2v1.3h-13.2zM579.5 13.8h13.2v1.3h-13.2zM579.5 11.8h13.2v1.3h-13.2zM592.4 135.6h13.2v1.7h-13.2zM592.4 104.8h13.2v1.3h-13.2zM592.4 37.8h13.2v1.3h-13.2zM592.4 36.8h13.2v1.3h-13.2zM592.4 25.8h13.2v1.3h-13.2zM592.4 23.8h13.2v1.3h-13.2zM592.4 14.8h13.2v1.3h-13.2zM592.4 12.8h13.2v1.3h-13.2zM592.4 11.8h13.2v1.3h-13.2zM592.4 5.8h13.2v1.3h-13.2zM592.4 4.8h13.2v1.3h-13.2zM592.4 4.4h13.2v0.7h-13.2zM605.3 71.8h13.2v1.3h-13.2zM605.3 32.8h13.2v1.3h-13.2zM605.3 17.8h13.2v1.3h-13.2z"/><path fill="#00ff77" d="M193.4 90.8h13.2v1.3h-13.2zM193.4 25.8h13.2v1.3h-13.2zM206.3 135.6h13.2v1.7h-13.2zM206.3 17.8h13.2v1.3h-13.2zM206.3 9.8h13.2v1.3h-13.2zM219.1 140.2h13.2v2.1h-13.2zM219.1 107.8h13.2v1.3h-13.2zM232.0 104.8h13.2v1.3h-13.2zM232.0 99.8h13.2v1.3h-13.2zM232.0 25.8h13.2v1.3h-13.2zM232.0 12.8h13.2v1.3h-13.2zM244.9 14.8h13.2v1.3h-13.2zM244.9 12.8h13.2v1.3h-13.2zM244.9 9.8h13.2v1.3h-13.2zM257.7 151.5h13.2v3.5h-13.2zM257.7 19.8h13.2v1.3h-13.2zM257.7 11.8h13.2v1.3h-13.2zM270.6 113.8h13.2v1.3h-13.2zM270.6 106.8h13.2v1.3h-13.2zM270.6 15.8h13.2v1.3h-13.2zM283.5 134.2h13.2v1.6h-13.2zM283.5 27.8h13.2v1.3h-13.2zM283.5 26.8h13.2v1.3h-13.2zM283.5 25.8h13.2v1.3h-13.2zM283.5 20.8h13.2v1.3h-13.2zM283.5 19.8h13.2v1.3h-13.2zM296.4 140.2h13.2v2.1h-13.2zM296.4 120.8h13.2v1.3h-13.2zM296.4 26.8h13.2v1.3h-13.2zM296.4 25.8h13.2v1.3h-13.2zM309.2 163.1h13.2v6.3h-13.2zM309.2 100.8h13.2v1.3h-13.2zM309.2 30.8h13.2v1.3h-13.2zM309.2 28.8h13.2v1.3h-13.2zM322.1 146.2h13.2v2.8h-13.2zM322.1 104.8h13.2v1.3h-13.2zM322.1 101.8h13.2v1.3h-13.2zM322.1 100.8h13.2v1.3h-13.2zM335.0 113.8h13.2v1.3h-13.2zM335.0 104.8h13.2v1.3h-13.2zM335.0 34.8h13.2v1.3h-13.2zM347.8 140.2h13.2v2.1h-13.2zM347.8 131.8h13.2v1.5h-13.2zM347.8 36.8h13.2v1.3h-13.2zM347.8 35.8h13.2v1.3h-13.2zM360.7 114.8h13.2v1.3h-13.2zM360.7 110.8h13.2v1.3h-13.2zM360.7 109.8h13.2v1.3h-13.2zM360.7 103.8h13.2v1.3h-13.2zM360.7 37.8h13.2v1.3h-13.2zM373.6 137.0h13.2v1.8h-13.2zM373.6 127.8h13.2v1.3h-13.2zM373.6 126.8h13.2v1.3h-13.2zM386.4 148.7h13.2v3.1h-13.2zM386.4 119.8h13.2v1.3h-13.2zM386.4 113.8h13.2v1.3h-13.2zM386.4 105.8h13.2v1.3h-13.2zM399.3 138.6h13.2v2.0h-13.2zM399.3 126.8h13.2v1.3h-13.2zM399.3 116.8h13.2v1.3h-13.2zM399.3 109.8h13.2v1.3h-13.2zM412.2 125.8h13.2v1.3h-13.2zM412.2 113.8h13.2v1.3h-13.2zM412.2 104.8h13.2v1.3h-13.2zM412.2 40.8h13.2v1.3h-13.2zM412.2 39.8h13.2v1.3h-13.2zM425.1 146.2h13.2v2.8h-13.2zM425.1 126.8h13.2v1.3h-13.2zM425.1 122.8h13.2v1.3h-13.2zM425.1 98.8h13.2v1.3h-13.2zM425.1 96.8h13.2v1.3h-13.2zM425.1 41.8h13.2v1.3h-13.2zM425.1 39.8h13.2v1.3h-13.2zM437.9 151.5h13.2v3.5h-13.2zM437.9 109.8h13.2v1.3h-13.2zM437.9 107.8h13.2v1.3h-13.2zM437.9 91.8h13.2v1.3h-13.2zM437.9 41.8h13.2v1.3h-13.2zM450.8 154.7h13.2v4.1h-13.2zM450.8 140.2h13.2v2.1h-13.2zM450.8 134.2h13.2v1.6h-13.2zM450.8 130.8h13.2v1.3h-13.2zM450.8 122.8h13.2v1.3h-13.2zM450.8 117.8h13.2v1.3h-13.2zM450.8 95.8h13.2v1.3h-13.2zM450.8 94.8h13.2v1.3h-13.2zM450.8 91.8h13.2v1.3h-13.2zM450.8 88.8h13.2v1.3h-13.2zM450.8 87.8h13.2v1.3h-13.2zM450.8 86.8h13.2v1.3h-13.2zM450.8 41.8h13.2v1.3h-13.2zM463.7 138.6h13.2v2.0h-13.2zM463.7 124.8h13.2v1.3h-13.2zM463.7 103.8h13.2v1.3h-13.2zM463.7 99.8h13.2v1.3h-13.2zM463.7 84.8h13.2v1.3h-13.2zM463.7 43.8h13.2v1.3h-13.2zM463.7 41.8h13.2v1.3h-13.2zM476.5 140.2h13.2v2.1h-13.2zM476.5 130.8h13.2v1.3h-13.2zM476.5 125.8h13.2v1.3h-13.2zM476.5 107.8h13.2v1.3h-13.2zM476.5 95.8h13.2v1.3h-13.2zM476.5 81.8h13.2v1.3h-13.2zM476.5 43.8h13.2v1.3h-13.2zM489.4 144.0h13.2v2.5h-13.2zM489.4 133.0h13.2v1.6h-13.2zM489.4 124.8h13.2v1.3h-13.2zM489.4 117.8h13.2v1.3h-13.2zM489.4 107.8h13.2v1.3h-13.2zM489.4 47.8h13.2v1.3h-13.2zM502.3 158.5h13.2v5.0h-13.2zM502.3 144.0h13.2v2.5h-13.2zM502.3 137.0h13.2v1.8h-13.2zM502.3 119.8h13.2v1.3h-13.2zM502.3 113.8h13.2v1.3h-13.2zM502.3 112.8h13.2v1.3h-13.2zM515.2 133.0h13.2v1.6h-13.2zM515.2 123.8h13.2v1.3h-13.2zM515.2 121.8h13.2v1.3h-13.2zM515.2 115.8h13.2v1.3h-13.2zM515.2 108.8h13.2v1.3h-13.2zM515.2 106.8h13.2v1.3h-13.2zM515.2 103.8h13.2v1.3h-13.2zM515.2 75.8h13.2v1.3h-13.2zM515.2 47.8h13.2v1.3h-13.2zM528.0 127.8h13.2v1.3h-13.2zM528.0 123.8h13.2v1.3h-13.2zM528.0 120.8h13.2v1.3h-13.2zM528.0 104.8h13.2v1.3h-13.2zM528.0 73.8h13.2v1.3h-13.2zM540.9 148.7h13.2v3.1h-13.2zM540.9 124.8h13.2v1.3h-13.2zM540.9 108.8h13.2v1.3h-13.2zM540.9 53.8h13.2v1.3h-13.2zM553.8 130.8h13.2v1.3h-13.2zM553.8 104.8h13.2v1.3h-13.2zM566.6 137.0h13.2v1.8h-13.2zM566.6 125.8h13.2v1.3h-13.2zM566.6 70.8h13.2v1.3h-13.2zM566.6 51.8h13.2v1.3h-13.2zM566.6 50.8h13.2v1.3h-13.2zM566.6 49.8h13.2v1.3h-13.2zM579.5 113.8h13.2v1.3h-13.2zM579.5 111.8h13.2v1.3h-13.2zM579.5 104.8h13.2v1.3h-13.2zM579.5 54.8h13.2v1.3h-13.2zM592.4 109.8h13.2v1.3h-13.2zM592.4 68.8h13.2v1.3h-13.2zM592.4 67.8h13.2v1.3h-13.2zM592.4 60.8h13.2v1.3h-13.2zM605.3 131.8h13.2v1.5h-13.2zM605.3 117.8h13.2v1.3h-13.2zM605.3 110.8h13.2v1.3h-13.2zM618.1 148.7h13.2v3.1h-13.2zM618.1 144.0h13.2v2.5h-13.2zM618.1 142.1h13.2v2.3h-13.2zM618.1 138.6h13.2v2.0h-13.2zM618.1 124.8h13.2v1.3h-13.2zM618.1 120.8h13.2v1.3h-13.2zM618.1 114.8h13.2v1.3h-13.2zM618.1 106.8h13.2v1.3h-13.2zM618.1 69.8h13.2v1.3h-13.2zM618.1 56.8h13.2v1.3h-13.2zM618.1 54.8h13.2v1.3h-13.2z"/><path fill="#00b8ff" d="M193.4 86.8h13.2v1.3h-13.2zM193.4 51.8h13.2v1.3h-13.2zM206.3 37.8h13.2v1.3h-13.2zM206.3 33.8h13.2v1.3h-13.2zM219.1 108.8h13.2v1.3h-13.2zM219.1 101.8h13.2v1.3h-13.2zM219.1 92.8h13.2v1.3h-13.2zM232.0 91.8h13.2v1.3h-13.2zM232.0 37.8h13.2v1.3h-13.2zM232.0 32.8h13.2v1.3h-13.2zM244.9 146.2h13.2v2.8h-13.2zM257.7 90.8h13.2v1.3h-13.2zM257.7 33.8h13.2v1.3h-13.2zM257.7 31.8h13.2v1.3h-13.2zM270.6 124.8h13.2v1.3h-13.2zM270.6 122.8h13.2v1.3h-13.2zM270.6 37.8h13.2v1.3h-13.2zM283.5 91.8h13.2v1.3h-13.2zM283.5 40.8h13.2v1.3h-13.2zM283.5 38.8h13.2v1.3h-13.2zM296.4 103.8h13.2v1.3h-13.2zM309.2 128.8h13.2v1.3h-13.2zM309.2 94.8h13.2v1.3h-13.2zM322.1 92.8h13.2v1.3h-13.2zM322.1 44.8h13.2v1.3h-13.2zM322.1 43.8h13.2v1.3h-13.2zM335.0 121.8h13.2v1.3h-13.2zM335.0 95.8h13.2v1.3h-13.2zM360.7 127.8h13.2v1.3h-13.2zM360.7 46.8h13.2v1.3h-13.2zM373.6 97.8h13.2v1.3h-13.2zM386.4 98.8h13.2v1.3h-13.2zM386.4 47.8h13.2v1.3h-13.2zM399.3 86.8h13.2v1.3h-13.2zM412.2 84.8h13.2v1.3h-13.2zM412.2 83.8h13.2v1.3h-13.2zM425.1 82.8h13.2v1.3h-13.2zM437.9 79.8h13.2v1.3h-13.2zM450.8 53.8h13.2v1.3h-13.2zM450.8 51.8h13.2v1.3h-13.2zM463.7 75.8h13.2v1.3h-13.2zM463.7 52.8h13.2v1.3h-13.2zM502.3 68.8h13.2v1.3h-13.2zM502.3 63.8h13.2v1.3h-13.2zM502.3 61.8h13.2v1.3h-13.2zM515.2 66.8h13.2v1.3h-13.2zM515.2 61.8h13.2v1.3h-13.2zM528.0 66.8h13.2v1.3h-13.2zM528.0 64.8h13.2v1.3h-13.2z"/><path fill="#0032ff" d="M193.4 85.8h13.2v1.3h-13.2zM193.4 81.8h13.2v1.3h-13.2zM193.4 64.8h13.2v1.3h-13.2zM193.4 39.8h13.2v1.3h-13.2zM206.3 102.8h13.2v1.3h-13.2zM206.3 81.8h13.2v1.3h-13.2zM206.3 69.8h13.2v1.3h-13.2zM206.3 60.8h13.2v1.3h-13.2zM219.1 125.8h13.2v1.3h-13.2zM219.1 80.8h13.2v1.3h-13.2zM232.0 46.8h13.2v1.3h-13.2zM244.9 102.8h13.2v1.3h-13.2zM244.9 88.8h13.2v1.3h-13.2zM244.9 44.8h13.2v1.3h-13.2zM244.9 38.8h13.2v1.3h-13.2zM257.7 46.8h13.2v1.3h-13.2zM283.5 90.8h13.2v1.3h-13.2zM283.5 89.8h13.2v1.3h-13.2zM309.2 84.8h13.2v1.3h-13.2zM309.2 83.8h13.2v1.3h-13.2zM309.2 81.8h13.2v1.3h-13.2zM322.1 50.8h13.2v1.3h-13.2zM335.0 85.8h13.2v1.3h-13.2zM335.0 50.8h13.2v1.3h-13.2zM386.4 83.8h13.2v1.3h-13.2zM386.4 52.8h13.2v1.3h-13.2zM399.3 76.8h13.2v1.3h-13.2zM412.2 74.8h13.2v1.3h-13.2zM425.1 76.8h13.2v1.3h-13.2zM425.1 53.8h13.2v1.3h-13.2zM437.9 57.8h13.2v1.3h-13.2zM437.9 56.8h13.2v1.3h-13.2zM463.7 60.8h13.2v1.3h-13.2zM476.5 70.8h13.2v1.3h-13.2zM476.5 61.8h13.2v1.3h-13.2z"/><path fill="#009aff" d="M193.4 84.8h13.2v1.3h-13.2zM193.4 67.8h13.2v1.3h-13.2zM193.4 31.8h13.2v1.3h-13.2zM206.3 107.8h13.2v1.3h-13.2zM219.1 29.8h13.2v1.3h-13.2zM232.0 103.8h13.2v1.3h-13.2zM244.9 104.8h13.2v1.3h-13.2zM244.9 90.8h13.2v1.3h-13.2zM244.9 33.8h13.2v1.3h-13.2zM257.7 123.8h13.2v1.3h-13.2zM257.7 34.8h13.2v1.3h-13.2zM270.6 92.8h13.2v1.3h-13.2zM283.5 94.8h13.2v1.3h-13.2zM296.4 85.8h13.2v1.3h-13.2zM296.4 39.8h13.2v1.3h-13.2zM309.2 89.8h13.2v1.3h-13.2zM309.2 87.8h13.2v1.3h-13.2zM309.2 41.8h13.2v1.3h-13.2zM309.2 40.8h13.2v1.3h-13.2zM347.8 87.8h13.2v1.3h-13.2zM360.7 89.8h13.2v1.3h-13.2zM360.7 87.8h13.2v1.3h-13.2zM360.7 86.8h13.2v1.3h-13.2zM373.6 90.8h13.2v1.3h-13.2zM386.4 48.8h13.2v1.3h-13.2zM399.3 82.8h13.2v1.3h-13.2zM399.3 51.8h13.2v1.3h-13.2zM437.9 78.8h13.2v1.3h-13.2zM450.8 75.8h13.2v1.3h-13.2zM450.8 74.8h13.2v1.3h-13.2zM463.7 74.8h13.2v1.3h-13.2zM463.7 53.8h13.2v1.3h-13.2zM476.5 74.8h13.2v1.3h-13.2zM476.5 56.8h13.2v1.3h-13.2zM489.4 70.8h13.2v1.3h-13.2zM489.4 68.8h13.2v1.3h-13.2zM489.4 62.8h13.2v1.3h-13.2zM489.4 59.8h13.2v1.3h-13.2zM489.4 58.8h13.2v1.3h-13.2zM502.3 60.8h13.2v1.3h-13.2zM515.2 68.8h13.2v1.3h-13.2z"/><path fill="#0006ff" d="M193.4 80.8h13.2v1.3h-13.2zM193.4 55.8h13.2v1.3h-13.2zM206.3 41.8h13.2v1.3h-13.2zM219.1 84.8h13.2v1.3h-13.2zM219.1 73.8h13.2v1.3h-13.2zM219.1 70.8h13.2v1.3h-13.2zM219.1 68.8h13.2v1.3h-13.2zM219.1 59.8h13.2v1.3h-13.2zM219.1 49.8h13.2v1.3h-13.2zM219.1 39.8h13.2v1.3h-13.2zM244.9 77.8h13.2v1.3h-13.2zM244.9 73.8h13.2v1.3h-13.2zM257.7 50.8h13.2v1.3h-13.2zM270.6 84.8h13.2v1.3h-13.2zM270.6 80.8h13.2v1.3h-13.2zM270.6 48.8h13.2v1.3h-13.2zM283.5 79.8h13.2v1.3h-13.2zM283.5 76.8h13.2v1.3h-13.2zM296.4 49.8h13.2v1.3h-13.2zM296.4 48.8h13.2v1.3h-13.2zM335.0 82.8h13.2v1.3h-13.2zM335.0 52.8h13.2v1.3h-13.2zM347.8 80.8h13.2v1.3h-13.2zM347.8 52.8h13.2v1.3h-13.2zM360.7 53.8h13.2v1.3h-13.2zM373.6 83.8h13.2v1.3h-13.2zM373.6 79.8h13.2v1.3h-13.2zM373.6 52.8h13.2v1.3h-13.2zM386.4 54.8h13.2v1.3h-13.2zM412.2 54.8h13.2v1.3h-13.2zM425.1 59.8h13.2v1.3h-13.2zM425.1 58.8h13.2v1.3h-13.2zM437.9 70.8h13.2v1.3h-13.2zM437.9 68.8h13.2v1.3h-13.2zM437.9 60.8h13.2v1.3h-13.2zM450.8 67.8h13.2v1.3h-13.2zM450.8 64.8h13.2v1.3h-13.2zM450.8 61.8h13.2v1.3h-13.2zM450.8 60.8h13.2v1.3h-13.2z"/><path fill="#4300ff" d="M193.4 69.8h13.2v1.3h-13.2zM206.3 123.8h13.2v1.3h-13.2zM206.3 70.8h13.2v1.3h-13.2zM219.1 62.8h13.2v1.3h-13.2zM219.1 47.8h13.2v1.3h-13.2zM232.0 71.8h13.2v1.3h-13.2zM232.0 67.8h13.2v1.3h-13.2zM232.0 52.8h13.2v1.3h-13.2zM232.0 49.8h13.2v1.3h-13.2zM232.0 45.8h13.2v1.3h-13.2zM244.9 60.8h13.2v1.3h-13.2zM244.9 55.8h13.2v1.3h-13.2zM244.9 53.8h13.2v1.3h-13.2zM244.9 52.8h13.2v1.3h-13.2zM257.7 79.8h13.2v1.3h-13.2zM257.7 53.8h13.2v1.3h-13.2zM257.7 45.8h13.2v1.3h-13.2zM270.6 74.8h13.2v1.3h-13.2zM270.6 72.8h13.2v1.3h-13.2zM270.6 67.8h13.2v1.3h-13.2zM270.6 61.8h13.2v1.3h-13.2zM270.6 59.8h13.2v1.3h-13.2zM270.6 57.8h13.2v1.3h-13.2zM283.5 48.8h13.2v1.3h-13.2zM296.4 74.8h13.2v1.3h-13.2zM296.4 67.8h13.2v1.3h-13.2zM296.4 54.8h13.2v1.3h-13.2zM296.4 52.8h13.2v1.3h-13.2zM335.0 78.8h13.2v1.3h-13.2zM347.8 75.8h13.2v1.3h-13.2zM347.8 55.8h13.2v1.3h-13.2zM373.6 55.8h13.2v1.3h-13.2zM399.3 72.8h13.2v1.3h-13.2zM399.3 69.8h13.2v1.3h-13.2zM412.2 64.8h13.2v1.3h-13.2zM412.2 62.8h13.2v1.3h-13.2zM425.1 72.8h13.2v1.3h-13.2zM425.1 70.8h13.2v1.3h-13.2zM437.9 63.8h13.2v1.3h-13.2z"/><path fill="#2600ff" d="M193.4 62.8h13.2v1.3h-13.2zM206.3 67.8h13.2v1.3h-13.2zM206.3 63.8h13.2v1.3h-13.2zM206.3 59.8h13.2v1.3h-13.2zM219.1 79.8h13.2v1.3h-13.2zM219.1 52.8h13.2v1.3h-13.2zM219.1 48.8h13.2v1.3h-13.2zM219.1 40.8h13.2v1.3h-13.2zM232.0 72.8h13.2v1.3h-13.2zM232.0 47.8h13.2v1.3h-13.2zM244.9 65.8h13.2v1.3h-13.2zM244.9 46.8h13.2v1.3h-13.2zM257.7 77.8h13.2v1.3h-13.2zM270.6 81.8h13.2v1.3h-13.2zM270.6 77.8h13.2v1.3h-13.2zM270.6 73.8h13.2v1.3h-13.2zM270.6 53.8h13.2v1.3h-13.2zM270.6 52.8h13.2v1.3h-13.2zM283.5 84.8h13.2v1.3h-13.2zM283.5 49.8h13.2v1.3h-13.2zM296.4 55.8h13.2v1.3h-13.2zM309.2 77.8h13.2v1.3h-13.2zM309.2 53.8h13.2v1.3h-13.2zM322.1 80.8h13.2v1.3h-13.2zM335.0 55.8h13.2v1.3h-13.2zM347.8 78.8h13.2v1.3h-13.2zM347.8 77.8h13.2v1.3h-13.2zM347.8 76.8h13.2v1.3h-13.2zM347.8 56.8h13.2v1.3h-13.2zM347.8 53.8h13.2v1.3h-13.2zM360.7 81.8h13.2v1.3h-13.2zM360.7 55.8h13.2v1.3h-13.2zM386.4 76.8h13.2v1.3h-13.2zM386.4 69.8h13.2v1.3h-13.2zM386.4 55.8h13.2v1.3h-13.2zM399.3 75.8h13.2v1.3h-13.2zM412.2 71.8h13.2v1.3h-13.2zM412.2 61.8h13.2v1.3h-13.2zM425.1 75.8h13.2v1.3h-13.2zM437.9 66.8h13.2v1.3h-13.2zM437.9 64.8h13.2v1.3h-13.2zM437.9 62.8h13.2v1.3h-13.2z"/><path fill="#6f00ff" d="M193.4 58.8h13.2v1.3h-13.2zM206.3 86.8h13.2v1.3h-13.2zM206.3 83.8h13.2v1.3h-13.2zM206.3 56.8h13.2v1.3h-13.2zM206.3 55.8h13.2v1.3h-13.2zM219.1 77.8h13.2v1.3h-13.2zM219.1 63.8h13.2v1.3h-13.2zM232.0 54.8h13.2v1.3h-13.2zM244.9 70.8h13.2v1.3h-13.2zM244.9 64.8h13.2v1.3h-13.2zM244.9 62.8h13.2v1.3h-13.2zM244.9 61.8h13.2v1.3h-13.2zM257.7 72.8h13.2v1.3h-13.2zM257.7 61.8h13.2v1.3h-13.2zM257.7 54.8h13.2v1.3h-13.2zM270.6 63.8h13.2v1.3h-13.2zM283.5 75.8h13.2v1.3h-13.2zM283.5 57.8h13.2v1.3h-13.2zM283.5 53.8h13.2v1.3h-13.2zM296.4 79.8h13.2v1.3h-13.2zM296.4 71.8h13.2v1.3h-13.2zM296.4 66.8h13.2v1.3h-13.2zM296.4 60.8h13.2v1.3h-13.2zM296.4 53.8h13.2v1.3h-13.2zM309.2 60.8h13.2v1.3h-13.2zM309.2 57.8h13.2v1.3h-13.2zM322.1 76.8h13.2v1.3h-13.2zM322.1 72.8h13.2v1.3h-13.2zM322.1 55.8h13.2v1.3h-13.2zM335.0 76.8h13.2v1.3h-13.2zM335.0 58.8h13.2v1.3h-13.2zM347.8 72.8h13.2v1.3h-13.2zM360.7 78.8h13.2v1.3h-13.2zM360.7 77.8h13.2v1.3h-13.2zM360.7 58.8h13.2v1.3h-13.2zM373.6 58.8h13.2v1.3h-13.2zM386.4 73.8h13.2v1.3h-13.2zM386.4 71.8h13.2v1.3h-13.2zM386.4 57.8h13.2v1.3h-13.2zM399.3 64.8h13.2v1.3h-13.2zM399.3 63.8h13.2v1.3h-13.2zM412.2 68.8h13.2v1.3h-13.2zM412.2 66.8h13.2v1.3h-13.2zM425.1 69.8h13.2v1.3h-13.2zM425.1 63.8h13.2v1.3h-13.2z"/><path fill="#005fff" d="M193.4 57.8h13.2v1.3h-13.2zM193.4 53.8h13.2v1.3h-13.2zM193.4 52.8h13.2v1.3h-13.2zM193.4 43.8h13.2v1.3h-13.2zM193.4 23.8h13.2v1.3h-13.2zM206.3 91.8h13.2v1.3h-13.2zM206.3 88.8h13.2v1.3h-13.2zM206.3 72.8h13.2v1.3h-13.2zM206.3 57.8h13.2v1.3h-13.2zM206.3 39.8h13.2v1.3h-13.2zM219.1 130.8h13.2v1.3h-13.2zM219.1 90.8h13.2v1.3h-13.2zM219.1 83.8h13.2v1.3h-13.2zM219.1 75.8h13.2v1.3h-13.2zM219.1 43.8h13.2v1.3h-13.2zM219.1 33.8h13.2v1.3h-13.2zM232.0 138.6h13.2v2.0h-13.2zM232.0 101.8h13.2v1.3h-13.2zM232.0 83.8h13.2v1.3h-13.2zM257.7 83.8h13.2v1.3h-13.2zM257.7 81.8h13.2v1.3h-13.2zM283.5 43.8h13.2v1.3h-13.2zM296.4 82.8h13.2v1.3h-13.2zM296.4 46.8h13.2v1.3h-13.2zM309.2 124.8h13.2v1.3h-13.2zM309.2 45.8h13.2v1.3h-13.2zM309.2 44.8h13.2v1.3h-13.2zM322.1 89.8h13.2v1.3h-13.2zM322.1 83.8h13.2v1.3h-13.2zM335.0 47.8h13.2v1.3h-13.2zM347.8 83.8h13.2v1.3h-13.2zM347.8 82.8h13.2v1.3h-13.2zM347.8 81.8h13.2v1.3h-13.2zM347.8 49.8h13.2v1.3h-13.2zM360.7 85.8h13.2v1.3h-13.2zM373.6 124.8h13.2v1.3h-13.2zM386.4 86.8h13.2v1.3h-13.2zM412.2 76.8h13.2v1.3h-13.2zM425.1 52.8h13.2v1.3h-13.2zM437.9 55.8h13.2v1.3h-13.2zM463.7 71.8h13.2v1.3h-13.2zM476.5 72.8h13.2v1.3h-13.2z"/><path fill="#006eff" d="M193.4 50.8h13.2v1.3h-13.2zM193.4 46.8h13.2v1.3h-13.2zM193.4 37.8h13.2v1.3h-13.2zM193.4 34.8h13.2v1.3h-13.2zM206.3 119.8h13.2v1.3h-13.2zM206.3 87.8h13.2v1.3h-13.2zM206.3 66.8h13.2v1.3h-13.2zM206.3 52.8h13.2v1.3h-13.2zM206.3 44.8h13.2v1.3h-13.2zM206.3 31.8h13.2v1.3h-13.2zM219.1 85.8h13.2v1.3h-13.2zM219.1 81.8h13.2v1.3h-13.2zM219.1 36.8h13.2v1.3h-13.2zM219.1 31.8h13.2v1.3h-13.2zM232.0 137.0h13.2v1.8h-13.2zM232.0 76.8h13.2v1.3h-13.2zM232.0 40.8h13.2v1.3h-13.2zM244.9 123.8h13.2v1.3h-13.2zM244.9 85.8h13.2v1.3h-13.2zM244.9 80.8h13.2v1.3h-13.2zM244.9 40.8h13.2v1.3h-13.2zM257.7 92.8h13.2v1.3h-13.2zM257.7 89.8h13.2v1.3h-13.2zM257.7 36.8h13.2v1.3h-13.2zM270.6 89.8h13.2v1.3h-13.2zM270.6 45.8h13.2v1.3h-13.2zM270.6 41.8h13.2v1.3h-13.2zM283.5 86.8h13.2v1.3h-13.2zM296.4 93.8h13.2v1.3h-13.2zM296.4 91.8h13.2v1.3h-13.2zM296.4 86.8h13.2v1.3h-13.2zM296.4 45.8h13.2v1.3h-13.2zM309.2 48.8h13.2v1.3h-13.2zM309.2 42.8h13.2v1.3h-13.2zM322.1 91.8h13.2v1.3h-13.2zM322.1 84.8h13.2v1.3h-13.2zM322.1 47.8h13.2v1.3h-13.2zM335.0 86.8h13.2v1.3h-13.2zM335.0 83.8h13.2v1.3h-13.2zM360.7 84.8h13.2v1.3h-13.2zM360.7 47.8h13.2v1.3h-13.2zM373.6 86.8h13.2v1.3h-13.2zM373.6 85.8h13.2v1.3h-13.2zM373.6 50.8h13.2v1.3h-13.2zM386.4 84.8h13.2v1.3h-13.2zM425.1 79.8h13.2v1.3h-13.2zM437.9 75.8h13.2v1.3h-13.2zM450.8 72.8h13.2v1.3h-13.2zM450.8 55.8h13.2v1.3h-13.2zM463.7 73.8h13.2v1.3h-13.2zM476.5 73.8h13.2v1.3h-13.2zM476.5 71.8h13.2v1.3h-13.2zM476.5 58.8h13.2v1.3h-13.2zM476.5 57.8h13.2v1.3h-13.2zM489.4 67.8h13.2v1.3h-13.2zM489.4 66.8h13.2v1.3h-13.2z"/><path fill="#0900ff" d="M193.4 49.8h13.2v1.3h-13.2zM206.3 64.8h13.2v1.3h-13.2zM206.3 61.8h13.2v1.3h-13.2zM206.3 47.8h13.2v1.3h-13.2zM206.3 46.8h13.2v1.3h-13.2zM206.3 38.8h13.2v1.3h-13.2zM219.1 60.8h13.2v1.3h-13.2zM219.1 56.8h13.2v1.3h-13.2zM219.1 41.8h13.2v1.3h-13.2zM219.1 38.8h13.2v1.3h-13.2zM232.0 56.8h13.2v1.3h-13.2zM232.0 51.8h13.2v1.3h-13.2zM244.9 47.8h13.2v1.3h-13.2zM257.7 169.1h13.2v8.8h-13.2zM257.7 51.8h13.2v1.3h-13.2zM283.5 78.8h13.2v1.3h-13.2zM283.5 45.8h13.2v1.3h-13.2zM296.4 50.8h13.2v1.3h-13.2zM309.2 80.8h13.2v1.3h-13.2zM309.2 51.8h13.2v1.3h-13.2zM322.1 78.8h13.2v1.3h-13.2zM322.1 77.8h13.2v1.3h-13.2zM347.8 54.8h13.2v1.3h-13.2zM360.7 82.8h13.2v1.3h-13.2zM373.6 80.8h13.2v1.3h-13.2zM386.4 56.8h13.2v1.3h-13.2zM425.1 74.8h13.2v1.3h-13.2zM437.9 61.8h13.2v1.3h-13.2zM437.9 59.8h13.2v1.3h-13.2zM450.8 62.8h13.2v1.3h-13.2zM463.7 62.8h13.2v1.3h-13.2zM476.5 63.8h13.2v1.3h-13.2z"/><path fill="#00a9ff" d="M193.4 40.8h13.2v1.3h-13.2zM206.3 36.8h13.2v1.3h-13.2zM206.3 27.8h13.2v1.3h-13.2zM219.1 28.8h13.2v1.3h-13.2zM232.0 94.8h13.2v1.3h-13.2zM244.9 92.8h13.2v1.3h-13.2zM257.7 99.8h13.2v1.3h-13.2zM257.7 87.8h13.2v1.3h-13.2zM257.7 37.8h13.2v1.3h-13.2zM270.6 86.8h13.2v1.3h-13.2zM270.6 39.8h13.2v1.3h-13.2zM283.5 39.8h13.2v1.3h-13.2zM296.4 90.8h13.2v1.3h-13.2zM296.4 42.8h13.2v1.3h-13.2zM296.4 41.8h13.2v1.3h-13.2zM309.2 90.8h13.2v1.3h-13.2zM309.2 88.8h13.2v1.3h-13.2zM335.0 90.8h13.2v1.3h-13.2zM335.0 45.8h13.2v1.3h-13.2zM347.8 88.8h13.2v1.3h-13.2zM347.8 47.8h13.2v1.3h-13.2zM373.6 89.8h13.2v1.3h-13.2zM373.6 47.8h13.2v1.3h-13.2zM399.3 123.8h13.2v1.3h-13.2zM399.3 83.8h13.2v1.3h-13.2zM399.3 48.8h13.2v1.3h-13.2zM412.2 82.8h13.2v1.3h-13.2zM412.2 50.8h13.2v1.3h-13.2zM425.1 83.8h13.2v1.3h-13.2zM437.9 84.8h13.2v1.3h-13.2zM437.9 76.8h13.2v1.3h-13.2zM437.9 52.8h13.2v1.3h-13.2zM476.5 55.8h13.2v1.3h-13.2zM489.4 57.8h13.2v1.3h-13.2zM502.3 67.8h13.2v1.3h-13.2zM502.3 59.8h13.2v1.3h-13.2zM515.2 65.8h13.2v1.3h-13.2zM515.2 63.8h13.2v1.3h-13.2z"/><path fill="#00ffa3" d="M193.4 26.8h13.2v1.3h-13.2zM193.4 13.8h13.2v1.3h-13.2zM206.3 121.8h13.2v1.3h-13.2zM206.3 114.8h13.2v1.3h-13.2zM206.3 95.8h13.2v1.3h-13.2zM219.1 119.8h13.2v1.3h-13.2zM219.1 21.8h13.2v1.3h-13.2zM219.1 12.8h13.2v1.3h-13.2zM219.1 11.8h13.2v1.3h-13.2zM232.0 126.8h13.2v1.3h-13.2zM232.0 26.8h13.2v1.3h-13.2zM232.0 23.8h13.2v1.3h-13.2zM244.9 120.8h13.2v1.3h-13.2zM244.9 116.8h13.2v1.3h-13.2zM244.9 103.8h13.2v1.3h-13.2zM244.9 21.8h13.2v1.3h-13.2zM244.9 20.8h13.2v1.3h-13.2zM244.9 18.8h13.2v1.3h-13.2zM257.7 23.8h13.2v1.3h-13.2zM257.7 21.8h13.2v1.3h-13.2zM270.6 138.6h13.2v2.0h-13.2zM270.6 104.8h13.2v1.3h-13.2zM270.6 100.8h13.2v1.3h-13.2zM270.6 30.8h13.2v1.3h-13.2zM283.5 138.6h13.2v2.0h-13.2zM283.5 128.8h13.2v1.3h-13.2zM283.5 30.8h13.2v1.3h-13.2zM283.5 29.8h13.2v1.3h-13.2zM296.4 137.0h13.2v1.8h-13.2zM296.4 127.8h13.2v1.3h-13.2zM296.4 126.8h13.2v1.3h-13.2zM296.4 123.8h13.2v1.3h-13.2zM296.4 113.8h13.2v1.3h-13.2zM296.4 32.8h13.2v1.3h-13.2zM296.4 31.8h13.2v1.3h-13.2zM309.2 158.5h13.2v5.0h-13.2zM309.2 148.7h13.2v3.1h-13.2zM309.2 146.2h13.2v2.8h-13.2zM309.2 134.2h13.2v1.6h-13.2zM309.2 122.8h13.2v1.3h-13.2zM309.2 115.8h13.2v1.3h-13.2zM309.2 32.8h13.2v1.3h-13.2zM322.1 142.1h13.2v2.3h-13.2zM322.1 129.8h13.2v1.3h-13.2zM322.1 124.8h13.2v1.3h-13.2zM322.1 110.8h13.2v1.3h-13.2zM335.0 110.8h13.2v1.3h-13.2zM335.0 102.8h13.2v1.3h-13.2zM335.0 97.8h13.2v1.3h-13.2zM347.8 133.0h13.2v1.6h-13.2zM347.8 130.8h13.2v1.3h-13.2zM347.8 120.8h13.2v1.3h-13.2zM347.8 110.8h13.2v1.3h-13.2zM347.8 105.8h13.2v1.3h-13.2zM347.8 38.8h13.2v1.3h-13.2zM360.7 137.0h13.2v1.8h-13.2zM360.7 135.6h13.2v1.7h-13.2zM360.7 120.8h13.2v1.3h-13.2zM360.7 112.8h13.2v1.3h-13.2zM360.7 105.8h13.2v1.3h-13.2zM360.7 98.8h13.2v1.3h-13.2zM360.7 39.8h13.2v1.3h-13.2zM373.6 119.8h13.2v1.3h-13.2zM386.4 142.1h13.2v2.3h-13.2zM386.4 125.8h13.2v1.3h-13.2zM386.4 109.8h13.2v1.3h-13.2zM386.4 107.8h13.2v1.3h-13.2zM386.4 99.8h13.2v1.3h-13.2zM386.4 96.8h13.2v1.3h-13.2zM399.3 114.8h13.2v1.3h-13.2zM399.3 104.8h13.2v1.3h-13.2zM399.3 97.8h13.2v1.3h-13.2zM399.3 42.8h13.2v1.3h-13.2zM412.2 108.8h13.2v1.3h-13.2zM412.2 42.8h13.2v1.3h-13.2zM425.1 130.8h13.2v1.3h-13.2zM425.1 110.8h13.2v1.3h-13.2zM425.1 109.8h13.2v1.3h-13.2zM425.1 89.8h13.2v1.3h-13.2zM437.9 121.8h13.2v1.3h-13.2zM437.9 103.8h13.2v1.3h-13.2zM437.9 87.8h13.2v1.3h-13.2zM437.9 86.8h13.2v1.3h-13.2zM437.9 44.8h13.2v1.3h-13.2zM450.8 144.0h13.2v2.5h-13.2zM450.8 131.8h13.2v1.5h-13.2zM450.8 121.8h13.2v1.3h-13.2zM450.8 113.8h13.2v1.3h-13.2zM450.8 108.8h13.2v1.3h-13.2zM450.8 93.8h13.2v1.3h-13.2zM450.8 84.8h13.2v1.3h-13.2zM450.8 81.8h13.2v1.3h-13.2zM463.7 131.8h13.2v1.5h-13.2zM463.7 130.8h13.2v1.3h-13.2zM463.7 102.8h13.2v1.3h-13.2zM476.5 154.7h13.2v4.1h-13.2zM476.5 133.0h13.2v1.6h-13.2zM476.5 110.8h13.2v1.3h-13.2zM476.5 103.8h13.2v1.3h-13.2zM476.5 45.8h13.2v1.3h-13.2zM489.4 125.8h13.2v1.3h-13.2zM489.4 123.8h13.2v1.3h-13.2zM489.4 50.8h13.2v1.3h-13.2zM489.4 48.8h13.2v1.3h-13.2zM502.3 118.8h13.2v1.3h-13.2zM502.3 53.8h13.2v1.3h-13.2zM515.2 111.8h13.2v1.3h-13.2zM515.2 51.8h13.2v1.3h-13.2zM528.0 142.1h13.2v2.3h-13.2zM528.0 114.8h13.2v1.3h-13.2zM528.0 112.8h13.2v1.3h-13.2zM528.0 111.8h13.2v1.3h-13.2zM528.0 71.8h13.2v1.3h-13.2zM540.9 113.8h13.2v1.3h-13.2zM540.9 110.8h13.2v1.3h-13.2zM540.9 101.8h13.2v1.3h-13.2zM540.9 71.8h13.2v1.3h-13.2zM540.9 70.8h13.2v1.3h-13.2zM540.9 55.8h13.2v1.3h-13.2zM553.8 128.8h13.2v1.3h-13.2zM553.8 121.8h13.2v1.3h-13.2zM553.8 113.8h13.2v1.3h-13.2zM553.8 70.8h13.2v1.3h-13.2zM553.8 68.8h13.2v1.3h-13.2zM553.8 53.8h13.2v1.3h-13.2zM566.6 126.8h13.2v1.3h-13.2zM566.6 124.8h13.2v1.3h-13.2zM566.6 110.8h13.2v1.3h-13.2zM566.6 56.8h13.2v1.3h-13.2zM566.6 54.8h13.2v1.3h-13.2zM579.5 134.2h13.2v1.6h-13.2zM579.5 125.8h13.2v1.3h-13.2zM579.5 119.8h13.2v1.3h-13.2zM579.5 61.8h13.2v1.3h-13.2zM579.5 59.8h13.2v1.3h-13.2zM579.5 58.8h13.2v1.3h-13.2zM579.5 56.8h13.2v1.3h-13.2zM592.4 131.8h13.2v1.5h-13.2zM592.4 127.8h13.2v1.3h-13.2zM592.4 113.8h13.2v1.3h-13.2zM592.4 64.8h13.2v1.3h-13.2zM605.3 140.2h13.2v2.1h-13.2zM618.1 146.2h13.2v2.8h-13.2zM618.1 137.0h13.2v1.8h-13.2zM618.1 126.8h13.2v1.3h-13.2zM618.1 112.8h13.2v1.3h-13.2zM618.1 67.8h13.2v1.3h-13.2z"/><path fill="#00ff1e" d="M193.4 24.8h13.2v1.3h-13.2zM206.3 109.8h13.2v1.3h-13.2zM232.0 177.6h13.2v14.7h-13.2zM244.9 138.6h13.2v2.0h-13.2zM244.9 5.8h13.2v1.3h-13.2zM257.7 142.1h13.2v2.3h-13.2zM257.7 128.8h13.2v1.3h-13.2zM257.7 110.8h13.2v1.3h-13.2zM257.7 12.8h13.2v1.3h-13.2zM257.7 8.8h13.2v1.3h-13.2zM257.7 7.8h13.2v1.3h-13.2zM257.7 6.8h13.2v1.3h-13.2zM257.7 5.8h13.2v1.3h-13.2zM257.7 4.4h13.2v0.7h-13.2zM270.6 125.8h13.2v1.3h-13.2zM270.6 9.8h13.2v1.3h-13.2zM283.5 163.1h13.2v6.3h-13.2zM283.5 133.0h13.2v1.6h-13.2zM283.5 13.8h13.2v1.3h-13.2zM283.5 10.8h13.2v1.3h-13.2zM283.5 9.8h13.2v1.3h-13.2zM283.5 4.8h13.2v1.3h-13.2zM296.4 163.1h13.2v6.3h-13.2zM296.4 151.5h13.2v3.5h-13.2zM296.4 130.8h13.2v1.3h-13.2zM296.4 14.8h13.2v1.3h-13.2zM296.4 8.8h13.2v1.3h-13.2zM309.2 169.1h13.2v8.8h-13.2zM309.2 25.8h13.2v1.3h-13.2zM309.2 23.8h13.2v1.3h-13.2zM309.2 22.8h13.2v1.3h-13.2zM309.2 21.8h13.2v1.3h-13.2zM309.2 19.8h13.2v1.3h-13.2zM309.2 13.8h13.2v1.3h-13.2zM309.2 11.8h13.2v1.3h-13.2zM322.1 22.8h13.2v1.3h-13.2zM322.1 19.8h13.2v1.3h-13.2zM322.1 15.8h13.2v1.3h-13.2zM322.1 13.8h13.2v1.3h-13.2zM335.0 109.8h13.2v1.3h-13.2zM335.0 23.8h13.2v1.3h-13.2zM335.0 22.8h13.2v1.3h-13.2zM335.0 21.8h13.2v1.3h-13.2zM335.0 17.8h13.2v1.3h-13.2zM335.0 12.8h13.2v1.3h-13.2zM347.8 142.1h13.2v2.3h-13.2zM347.8 128.8h13.2v1.3h-13.2zM347.8 31.8h13.2v1.3h-13.2zM360.7 24.8h13.2v1.3h-13.2zM360.7 16.8h13.2v1.3h-13.2zM360.7 14.8h13.2v1.3h-13.2zM360.7 9.8h13.2v1.3h-13.2zM360.7 8.8h13.2v1.3h-13.2zM360.7 5.8h13.2v1.3h-13.2zM360.7 4.8h13.2v1.3h-13.2zM373.6 29.8h13.2v1.3h-13.2zM373.6 27.8h13.2v1.3h-13.2zM373.6 25.8h13.2v1.3h-13.2zM373.6 24.8h13.2v1.3h-13.2zM373.6 23.8h13.2v1.3h-13.2zM386.4 140.2h13.2v2.1h-13.2zM386.4 123.8h13.2v1.3h-13.2zM386.4 32.8h13.2v1.3h-13.2zM386.4 30.8h13.2v1.3h-13.2zM386.4 26.8h13.2v1.3h-13.2zM386.4 25.8h13.2v1.3h-13.2zM386.4 24.8h13.2v1.3h-13.2zM386.4 7.8h13.2v1.3h-13.2zM386.4 5.8h13.2v1.3h-13.2zM386.4 4.8h13.2v1.3h-13.2zM386.4 4.4h13.2v0.7h-13.2zM399.3 169.1h13.2v8.8h-13.2zM399.3 163.1h13.2v6.3h-13.2zM399.3 134.2h13.2v1.6h-13.2zM399.3 131.8h13.2v1.5h-13.2zM399.3 129.8h13.2v1.3h-13.2zM399.3 31.8h13.2v1.3h-13.2zM399.3 28.8h13.2v1.3h-13.2zM399.3 27.8h13.2v1.3h-13.2zM412.2 33.8h13.2v1.3h-13.2zM425.1 123.8h13.2v1.3h-13.2zM425.1 31.8h13.2v1.3h-13.2zM425.1 28.8h13.2v1.3h-13.2zM425.1 26.8h13.2v1.3h-13.2zM425.1 22.8h13.2v1.3h-13.2zM425.1 19.8h13.2v1.3h-13.2zM425.1 16.8h13.2v1.3h-13.2zM425.1 15.8h13.2v1.3h-13.2zM425.1 6.8h13.2v1.3h-13.2zM425.1 5.8h13.2v1.3h-13.2zM437.9 158.5h13.2v5.0h-13.2zM437.9 131.8h13.2v1.5h-13.2zM437.9 123.8h13.2v1.3h-13.2zM437.9 38.8h13.2v1.3h-13.2zM437.9 35.8h13.2v1.3h-13.2zM450.8 118.8h13.2v1.3h-13.2zM450.8 37.8h13.2v1.3h-13.2zM450.8 36.8h13.2v1.3h-13.2zM450.8 35.8h13.2v1.3h-13.2zM450.8 34.8h13.2v1.3h-13.2zM450.8 31.8h13.2v1.3h-13.2zM463.7 163.1h13.2v6.3h-13.2zM463.7 154.7h13.2v4.1h-13.2zM463.7 127.8h13.2v1.3h-13.2zM463.7 112.8h13.2v1.3h-13.2zM463.7 8.8h13.2v1.3h-13.2zM476.5 126.8h13.2v1.3h-13.2zM476.5 120.8h13.2v1.3h-13.2zM476.5 114.8h13.2v1.3h-13.2zM476.5 105.8h13.2v1.3h-13.2zM476.5 91.8h13.2v1.3h-13.2zM476.5 88.8h13.2v1.3h-13.2zM476.5 35.8h13.2v1.3h-13.2zM476.5 33.8h13.2v1.3h-13.2zM476.5 29.8h13.2v1.3h-13.2zM476.5 28.8h13.2v1.3h-13.2zM476.5 7.8h13.2v1.3h-13.2zM489.4 158.5h13.2v5.0h-13.2zM489.4 151.5h13.2v3.5h-13.2zM489.4 142.1h13.2v2.3h-13.2zM489.4 138.6h13.2v2.0h-13.2zM489.4 80.8h13.2v1.3h-13.2zM489.4 37.8h13.2v1.3h-13.2zM489.4 35.8h13.2v1.3h-13.2zM489.4 33.8h13.2v1.3h-13.2zM489.4 30.8h13.2v1.3h-13.2zM489.4 29.8h13.2v1.3h-13.2zM489.4 27.8h13.2v1.3h-13.2zM502.3 42.8h13.2v1.3h-13.2zM502.3 41.8h13.2v1.3h-13.2zM502.3 34.8h13.2v1.3h-13.2zM515.2 125.8h13.2v1.3h-13.2zM515.2 77.8h13.2v1.3h-13.2zM515.2 39.8h13.2v1.3h-13.2zM515.2 35.8h13.2v1.3h-13.2zM515.2 22.8h13.2v1.3h-13.2zM528.0 137.0h13.2v1.8h-13.2zM528.0 124.8h13.2v1.3h-13.2zM528.0 101.8h13.2v1.3h-13.2zM528.0 98.8h13.2v1.3h-13.2zM528.0 75.8h13.2v1.3h-13.2zM528.0 46.8h13.2v1.3h-13.2zM540.9 177.6h13.2v14.7h-13.2zM540.9 163.1h13.2v6.3h-13.2zM540.9 129.8h13.2v1.3h-13.2zM540.9 107.8h13.2v1.3h-13.2zM540.9 43.8h13.2v1.3h-13.2zM540.9 38.8h13.2v1.3h-13.2zM540.9 36.8h13.2v1.3h-13.2zM540.9 35.8h13.2v1.3h-13.2zM540.9 34.8h13.2v1.3h-13.2zM553.8 101.8h13.2v1.3h-13.2zM553.8 39.8h13.2v1.3h-13.2zM553.8 38.8h13.2v1.3h-13.2zM553.8 25.8h13.2v1.3h-13.2zM553.8 22.8h13.2v1.3h-13.2zM566.6 36.8h13.2v1.3h-13.2zM566.6 12.8h13.2v1.3h-13.2zM579.5 158.5h13.2v5.0h-13.2zM579.5 118.8h13.2v1.3h-13.2zM579.5 47.8h13.2v1.3h-13.2zM579.5 46.8h13.2v1.3h-13.2zM579.5 45.8h13.2v1.3h-13.2zM579.5 42.8h13.2v1.3h-13.2zM579.5 35.8h13.2v1.3h-13.2zM579.5 28.8h13.2v1.3h-13.2zM579.5 21.8h13.2v1.3h-13.2zM592.4 177.6h13.2v14.7h-13.2zM592.4 169.1h13.2v8.8h-13.2zM592.4 130.8h13.2v1.3h-13.2zM592.4 124.8h13.2v1.3h-13.2zM592.4 120.8h13.2v1.3h-13.2zM592.4 107.8h13.2v1.3h-13.2zM592.4 69.8h13.2v1.3h-13.2zM592.4 57.8h13.2v1.3h-13.2zM592.4 52.8h13.2v1.3h-13.2zM592.4 48.8h13.2v1.3h-13.2zM592.4 47.8h13.2v1.3h-13.2zM605.3 177.6h13.2v14.7h-13.2zM605.3 146.2h13.2v2.8h-13.2zM605.3 68.8h13.2v1.3h-13.2zM605.3 49.8h13.2v1.3h-13.2zM618.1 103.8h13.2v1.3h-13.2zM618.1 71.8h13.2v1.3h-13.2zM618.1 43.8h13.2v1.3h-13.2zM618.1 37.8h13.2v1.3h-13.2zM618.1 34.8h13.2v1.3h-13.2zM618.1 31.8h13.2v1.3h-13.2zM618.1 30.8h13.2v1.3h-13.2zM618.1 29.8h13.2v1.3h-13.2zM618.1 28.8h13.2v1.3h-13.2zM618.1 26.8h13.2v1.3h-13.2zM618.1 10.8h13.2v1.3h-13.2zM618.1 7.8h13.2v1.3h-13.2zM618.1 6.8h13.2v1.3h-13.2zM618.1 4.4h13.2v0.7h-13.2z"/><path fill="#00f3ff" d="M193.4 19.8h13.2v1.3h-13.2zM206.3 108.8h13.2v1.3h-13.2zM206.3 94.8h13.2v1.3h-13.2zM206.3 90.8h13.2v1.3h-13.2zM206.3 20.8h13.2v1.3h-13.2zM219.1 106.8h13.2v1.3h-13.2zM219.1 27.8h13.2v1.3h-13.2zM219.1 24.8h13.2v1.3h-13.2zM232.0 100.8h13.2v1.3h-13.2zM232.0 92.8h13.2v1.3h-13.2zM232.0 90.8h13.2v1.3h-13.2zM232.0 34.8h13.2v1.3h-13.2zM232.0 30.8h13.2v1.3h-13.2zM232.0 21.8h13.2v1.3h-13.2zM244.9 89.8h13.2v1.3h-13.2zM257.7 105.8h13.2v1.3h-13.2zM257.7 102.8h13.2v1.3h-13.2zM257.7 29.8h13.2v1.3h-13.2zM270.6 146.2h13.2v2.8h-13.2zM270.6 110.8h13.2v1.3h-13.2zM270.6 105.8h13.2v1.3h-13.2zM270.6 95.8h13.2v1.3h-13.2zM270.6 90.8h13.2v1.3h-13.2zM270.6 32.8h13.2v1.3h-13.2zM283.5 127.8h13.2v1.3h-13.2zM283.5 120.8h13.2v1.3h-13.2zM283.5 116.8h13.2v1.3h-13.2zM283.5 111.8h13.2v1.3h-13.2zM283.5 102.8h13.2v1.3h-13.2zM283.5 97.8h13.2v1.3h-13.2zM283.5 36.8h13.2v1.3h-13.2zM296.4 111.8h13.2v1.3h-13.2zM296.4 94.8h13.2v1.3h-13.2zM309.2 107.8h13.2v1.3h-13.2zM309.2 102.8h13.2v1.3h-13.2zM309.2 96.8h13.2v1.3h-13.2zM322.1 140.2h13.2v2.1h-13.2zM322.1 109.8h13.2v1.3h-13.2zM322.1 108.8h13.2v1.3h-13.2zM322.1 96.8h13.2v1.3h-13.2zM335.0 100.8h13.2v1.3h-13.2zM347.8 94.8h13.2v1.3h-13.2zM347.8 93.8h13.2v1.3h-13.2zM347.8 44.8h13.2v1.3h-13.2zM360.7 92.8h13.2v1.3h-13.2zM373.6 102.8h13.2v1.3h-13.2zM373.6 99.8h13.2v1.3h-13.2zM373.6 91.8h13.2v1.3h-13.2zM386.4 90.8h13.2v1.3h-13.2zM399.3 90.8h13.2v1.3h-13.2zM399.3 47.8h13.2v1.3h-13.2zM399.3 46.8h13.2v1.3h-13.2zM412.2 118.8h13.2v1.3h-13.2zM425.1 128.8h13.2v1.3h-13.2zM425.1 117.8h13.2v1.3h-13.2zM425.1 105.8h13.2v1.3h-13.2zM425.1 88.8h13.2v1.3h-13.2zM425.1 49.8h13.2v1.3h-13.2zM437.9 80.8h13.2v1.3h-13.2zM450.8 78.8h13.2v1.3h-13.2zM450.8 49.8h13.2v1.3h-13.2zM450.8 48.8h13.2v1.3h-13.2zM476.5 51.8h13.2v1.3h-13.2zM489.4 73.8h13.2v1.3h-13.2zM515.2 70.8h13.2v1.3h-13.2zM515.2 67.8h13.2v1.3h-13.2zM528.0 59.8h13.2v1.3h-13.2zM540.9 62.8h13.2v1.3h-13.2zM553.8 66.8h13.2v1.3h-13.2zM553.8 65.8h13.2v1.3h-13.2zM553.8 63.8h13.2v1.3h-13.2zM579.5 115.8h13.2v1.3h-13.2zM605.3 126.8h13.2v1.3h-13.2z"/><path fill="#1cff00" d="M193.4 14.8h13.2v1.3h-13.2zM193.4 6.8h13.2v1.3h-13.2zM257.7 133.0h13.2v1.6h-13.2zM270.6 6.8h13.2v1.3h-13.2zM270.6 4.8h13.2v1.3h-13.2zM270.6 4.4h13.2v0.7h-13.2zM283.5 140.2h13.2v2.1h-13.2zM296.4 169.1h13.2v8.8h-13.2zM296.4 4.8h13.2v1.3h-13.2zM296.4 4.4h13.2v0.7h-13.2zM309.2 131.8h13.2v1.5h-13.2zM335.0 10.8h13.2v1.3h-13.2zM335.0 9.8h13.2v1.3h-13.2zM335.0 4.4h13.2v0.7h-13.2zM347.8 154.7h13.2v4.1h-13.2zM347.8 134.2h13.2v1.6h-13.2zM347.8 18.8h13.2v1.3h-13.2zM347.8 17.8h13.2v1.3h-13.2zM347.8 14.8h13.2v1.3h-13.2zM347.8 13.8h13.2v1.3h-13.2zM347.8 5.8h13.2v1.3h-13.2zM360.7 140.2h13.2v2.1h-13.2zM373.6 122.8h13.2v1.3h-13.2zM373.6 6.8h13.2v1.3h-13.2zM373.6 5.8h13.2v1.3h-13.2zM386.4 151.5h13.2v3.5h-13.2zM386.4 13.8h13.2v1.3h-13.2zM399.3 20.8h13.2v1.3h-13.2zM399.3 17.8h13.2v1.3h-13.2zM399.3 16.8h13.2v1.3h-13.2zM399.3 12.8h13.2v1.3h-13.2zM399.3 11.8h13.2v1.3h-13.2zM412.2 26.8h13.2v1.3h-13.2zM412.2 24.8h13.2v1.3h-13.2zM412.2 22.8h13.2v1.3h-13.2zM412.2 19.8h13.2v1.3h-13.2zM412.2 17.8h13.2v1.3h-13.2zM412.2 14.8h13.2v1.3h-13.2zM412.2 10.8h13.2v1.3h-13.2zM412.2 8.8h13.2v1.3h-13.2zM412.2 7.8h13.2v1.3h-13.2zM412.2 4.8h13.2v1.3h-13.2zM425.1 12.8h13.2v1.3h-13.2zM437.9 137.0h13.2v1.8h-13.2zM437.9 28.8h13.2v1.3h-13.2zM437.9 27.8h13.2v1.3h-13.2zM437.9 22.8h13.2v1.3h-13.2zM437.9 20.8h13.2v1.3h-13.2zM437.9 15.8h13.2v1.3h-13.2zM437.9 13.8h13.2v1.3h-13.2zM437.9 11.8h13.2v1.3h-13.2zM437.9 9.8h13.2v1.3h-13.2zM437.9 8.8h13.2v1.3h-13.2zM437.9 5.8h13.2v1.3h-13.2zM437.9 4.8h13.2v1.3h-13.2zM437.9 4.4h13.2v0.7h-13.2zM450.8 158.5h13.2v5.0h-13.2zM450.8 24.8h13.2v1.3h-13.2zM450.8 23.8h13.2v1.3h-13.2zM450.8 14.8h13.2v1.3h-13.2zM450.8 11.8h13.2v1.3h-13.2zM463.7 26.8h13.2v1.3h-13.2zM463.7 24.8h13.2v1.3h-13.2zM463.7 22.8h13.2v1.3h-13.2zM463.7 18.8h13.2v1.3h-13.2zM463.7 4.4h13.2v0.7h-13.2zM476.5 137.0h13.2v1.8h-13.2zM476.5 20.8h13.2v1.3h-13.2zM476.5 19.8h13.2v1.3h-13.2zM476.5 4.8h13.2v1.3h-13.2zM476.5 4.4h13.2v0.7h-13.2zM489.4 87.8h13.2v1.3h-13.2zM489.4 86.8h13.2v1.3h-13.2zM489.4 82.8h13.2v1.3h-13.2zM489.4 21.8h13.2v1.3h-13.2zM489.4 18.8h13.2v1.3h-13.2zM489.4 14.8h13.2v1.3h-13.2zM489.4 9.8h13.2v1.3h-13.2zM489.4 7.8h13.2v1.3h-13.2zM502.3 148.7h13.2v3.1h-13.2zM502.3 25.8h13.2v1.3h-13.2zM502.3 24.8h13.2v1.3h-13.2zM502.3 13.8h13.2v1.3h-13.2zM502.3 7.8h13.2v1.3h-13.2zM515.2 142.1h13.2v2.3h-13.2zM515.2 29.8h13.2v1.3h-13.2zM515.2 28.8h13.2v1.3h-13.2zM515.2 27.8h13.2v1.3h-13.2zM515.2 17.8h13.2v1.3h-13.2zM515.2 4.8h13.2v1.3h-13.2zM528.0 163.1h13.2v6.3h-13.2zM528.0 140.2h13.2v2.1h-13.2zM528.0 76.8h13.2v1.3h-13.2zM528.0 43.8h13.2v1.3h-13.2zM528.0 42.8h13.2v1.3h-13.2zM528.0 39.8h13.2v1.3h-13.2zM528.0 35.8h13.2v1.3h-13.2zM528.0 34.8h13.2v1.3h-13.2zM528.0 28.8h13.2v1.3h-13.2zM528.0 25.8h13.2v1.3h-13.2zM528.0 24.8h13.2v1.3h-13.2zM528.0 22.8h13.2v1.3h-13.2zM528.0 20.8h13.2v1.3h-13.2zM528.0 19.8h13.2v1.3h-13.2zM528.0 16.8h13.2v1.3h-13.2zM528.0 13.8h13.2v1.3h-13.2zM528.0 7.8h13.2v1.3h-13.2zM528.0 5.8h13.2v1.3h-13.2zM540.9 97.8h13.2v1.3h-13.2zM540.9 12.8h13.2v1.3h-13.2zM540.9 4.4h13.2v0.7h-13.2zM553.8 17.8h13.2v1.3h-13.2zM553.8 4.8h13.2v1.3h-13.2zM566.6 100.8h13.2v1.3h-13.2zM566.6 19.8h13.2v1.3h-13.2zM579.5 15.8h13.2v1.3h-13.2zM579.5 14.8h13.2v1.3h-13.2zM579.5 12.8h13.2v1.3h-13.2zM579.5 10.8h13.2v1.3h-13.2zM579.5 9.8h13.2v1.3h-13.2zM592.4 102.8h13.2v1.3h-13.2zM592.4 101.8h13.2v1.3h-13.2zM592.4 43.8h13.2v1.3h-13.2zM592.4 39.8h13.2v1.3h-13.2zM592.4 34.8h13.2v1.3h-13.2zM592.4 19.8h13.2v1.3h-13.2zM592.4 18.8h13.2v1.3h-13.2zM592.4 15.8h13.2v1.3h-13.2zM592.4 7.8h13.2v1.3h-13.2zM605.3 40.8h13.2v1.3h-13.2zM605.3 37.8h13.2v1.3h-13.2zM605.3 36.8h13.2v1.3h-13.2zM605.3 33.8h13.2v1.3h-13.2zM605.3 28.8h13.2v1.3h-13.2zM605.3 27.8h13.2v1.3h-13.2zM605.3 20.8h13.2v1.3h-13.2zM605.3 16.8h13.2v1.3h-13.2zM605.3 15.8h13.2v1.3h-13.2zM605.3 12.8h13.2v1.3h-13.2zM605.3 11.8h13.2v1.3h-13.2zM605.3 10.8h13.2v1.3h-13.2zM605.3 7.8h13.2v1.3h-13.2zM605.3 6.8h13.2v1.3h-13.2zM605.3 4.8h13.2v1.3h-13.2zM618.1 102.8h13.2v1.3h-13.2zM618.1 101.8h13.2v1.3h-13.2zM618.1 72.8h13.2v1.3h-13.2z"/><path fill="#00ffd0" d="M193.4 11.8h13.2v1.3h-13.2zM206.3 134.2h13.2v1.6h-13.2zM206.3 127.8h13.2v1.3h-13.2zM206.3 112.8h13.2v1.3h-13.2zM219.1 126.8h13.2v1.3h-13.2zM219.1 23.8h13.2v1.3h-13.2zM232.0 108.8h13.2v1.3h-13.2zM232.0 105.8h13.2v1.3h-13.2zM232.0 20.8h13.2v1.3h-13.2zM244.9 130.8h13.2v1.3h-13.2zM244.9 127.8h13.2v1.3h-13.2zM244.9 115.8h13.2v1.3h-13.2zM244.9 114.8h13.2v1.3h-13.2zM244.9 22.8h13.2v1.3h-13.2zM257.7 115.8h13.2v1.3h-13.2zM257.7 100.8h13.2v1.3h-13.2zM257.7 97.8h13.2v1.3h-13.2zM257.7 27.8h13.2v1.3h-13.2zM257.7 26.8h13.2v1.3h-13.2zM270.6 33.8h13.2v1.3h-13.2zM283.5 142.1h13.2v2.3h-13.2zM283.5 130.8h13.2v1.3h-13.2zM283.5 113.8h13.2v1.3h-13.2zM283.5 107.8h13.2v1.3h-13.2zM283.5 93.8h13.2v1.3h-13.2zM283.5 32.8h13.2v1.3h-13.2zM283.5 31.8h13.2v1.3h-13.2zM296.4 121.8h13.2v1.3h-13.2zM296.4 116.8h13.2v1.3h-13.2zM296.4 100.8h13.2v1.3h-13.2zM296.4 33.8h13.2v1.3h-13.2zM309.2 120.8h13.2v1.3h-13.2zM309.2 112.8h13.2v1.3h-13.2zM309.2 35.8h13.2v1.3h-13.2zM322.1 128.8h13.2v1.3h-13.2zM322.1 122.8h13.2v1.3h-13.2zM322.1 120.8h13.2v1.3h-13.2zM322.1 115.8h13.2v1.3h-13.2zM322.1 103.8h13.2v1.3h-13.2zM322.1 99.8h13.2v1.3h-13.2zM335.0 122.8h13.2v1.3h-13.2zM335.0 120.8h13.2v1.3h-13.2zM335.0 108.8h13.2v1.3h-13.2zM335.0 96.8h13.2v1.3h-13.2zM335.0 94.8h13.2v1.3h-13.2zM335.0 42.8h13.2v1.3h-13.2zM335.0 40.8h13.2v1.3h-13.2zM347.8 42.8h13.2v1.3h-13.2zM347.8 40.8h13.2v1.3h-13.2zM360.7 122.8h13.2v1.3h-13.2zM360.7 115.8h13.2v1.3h-13.2zM360.7 107.8h13.2v1.3h-13.2zM360.7 94.8h13.2v1.3h-13.2zM360.7 41.8h13.2v1.3h-13.2zM373.6 140.2h13.2v2.1h-13.2zM373.6 128.8h13.2v1.3h-13.2zM373.6 123.8h13.2v1.3h-13.2zM386.4 133.0h13.2v1.6h-13.2zM386.4 114.8h13.2v1.3h-13.2zM386.4 100.8h13.2v1.3h-13.2zM386.4 42.8h13.2v1.3h-13.2zM399.3 93.8h13.2v1.3h-13.2zM412.2 110.8h13.2v1.3h-13.2zM412.2 103.8h13.2v1.3h-13.2zM412.2 95.8h13.2v1.3h-13.2zM412.2 86.8h13.2v1.3h-13.2zM425.1 116.8h13.2v1.3h-13.2zM425.1 94.8h13.2v1.3h-13.2zM425.1 91.8h13.2v1.3h-13.2zM437.9 111.8h13.2v1.3h-13.2zM437.9 85.8h13.2v1.3h-13.2zM450.8 116.8h13.2v1.3h-13.2zM450.8 82.8h13.2v1.3h-13.2zM450.8 80.8h13.2v1.3h-13.2zM450.8 46.8h13.2v1.3h-13.2zM463.7 129.8h13.2v1.3h-13.2zM463.7 78.8h13.2v1.3h-13.2zM476.5 135.6h13.2v1.7h-13.2zM476.5 112.8h13.2v1.3h-13.2zM476.5 78.8h13.2v1.3h-13.2zM476.5 49.8h13.2v1.3h-13.2zM476.5 48.8h13.2v1.3h-13.2zM502.3 54.8h13.2v1.3h-13.2zM515.2 54.8h13.2v1.3h-13.2zM515.2 53.8h13.2v1.3h-13.2zM528.0 146.2h13.2v2.8h-13.2zM528.0 56.8h13.2v1.3h-13.2zM540.9 140.2h13.2v2.1h-13.2zM540.9 128.8h13.2v1.3h-13.2zM540.9 121.8h13.2v1.3h-13.2zM540.9 59.8h13.2v1.3h-13.2zM540.9 57.8h13.2v1.3h-13.2zM566.6 123.8h13.2v1.3h-13.2zM566.6 119.8h13.2v1.3h-13.2zM566.6 66.8h13.2v1.3h-13.2zM566.6 60.8h13.2v1.3h-13.2zM566.6 59.8h13.2v1.3h-13.2zM579.5 110.8h13.2v1.3h-13.2zM579.5 63.8h13.2v1.3h-13.2z"/><path fill="#00ffb2" d="M193.4 10.8h13.2v1.3h-13.2zM193.4 9.8h13.2v1.3h-13.2zM193.4 5.8h13.2v1.3h-13.2zM206.3 124.8h13.2v1.3h-13.2zM219.1 137.0h13.2v1.8h-13.2zM219.1 26.8h13.2v1.3h-13.2zM219.1 25.8h13.2v1.3h-13.2zM219.1 20.8h13.2v1.3h-13.2zM219.1 8.8h13.2v1.3h-13.2zM232.0 158.5h13.2v5.0h-13.2zM232.0 13.8h13.2v1.3h-13.2zM244.9 158.5h13.2v5.0h-13.2zM244.9 140.2h13.2v2.1h-13.2zM244.9 133.0h13.2v1.6h-13.2zM244.9 131.8h13.2v1.5h-13.2zM244.9 26.8h13.2v1.3h-13.2zM257.7 148.7h13.2v3.1h-13.2zM257.7 130.8h13.2v1.3h-13.2zM257.7 121.8h13.2v1.3h-13.2zM270.6 133.0h13.2v1.6h-13.2zM270.6 28.8h13.2v1.3h-13.2zM283.5 112.8h13.2v1.3h-13.2zM296.4 108.8h13.2v1.3h-13.2zM296.4 99.8h13.2v1.3h-13.2zM296.4 89.8h13.2v1.3h-13.2zM296.4 30.8h13.2v1.3h-13.2zM309.2 116.8h13.2v1.3h-13.2zM309.2 114.8h13.2v1.3h-13.2zM309.2 108.8h13.2v1.3h-13.2zM309.2 101.8h13.2v1.3h-13.2zM309.2 33.8h13.2v1.3h-13.2zM322.1 123.8h13.2v1.3h-13.2zM322.1 117.8h13.2v1.3h-13.2zM322.1 114.8h13.2v1.3h-13.2zM322.1 102.8h13.2v1.3h-13.2zM322.1 36.8h13.2v1.3h-13.2zM322.1 35.8h13.2v1.3h-13.2zM322.1 34.8h13.2v1.3h-13.2zM335.0 154.7h13.2v4.1h-13.2zM335.0 142.1h13.2v2.3h-13.2zM335.0 126.8h13.2v1.3h-13.2zM335.0 99.8h13.2v1.3h-13.2zM335.0 39.8h13.2v1.3h-13.2zM347.8 138.6h13.2v2.0h-13.2zM347.8 117.8h13.2v1.3h-13.2zM347.8 112.8h13.2v1.3h-13.2zM347.8 111.8h13.2v1.3h-13.2zM347.8 95.8h13.2v1.3h-13.2zM347.8 39.8h13.2v1.3h-13.2zM360.7 154.7h13.2v4.1h-13.2zM360.7 123.8h13.2v1.3h-13.2zM360.7 119.8h13.2v1.3h-13.2zM360.7 108.8h13.2v1.3h-13.2zM360.7 104.8h13.2v1.3h-13.2zM360.7 99.8h13.2v1.3h-13.2zM373.6 121.8h13.2v1.3h-13.2zM373.6 116.8h13.2v1.3h-13.2zM373.6 114.8h13.2v1.3h-13.2zM373.6 103.8h13.2v1.3h-13.2zM373.6 100.8h13.2v1.3h-13.2zM373.6 40.8h13.2v1.3h-13.2zM386.4 127.8h13.2v1.3h-13.2zM386.4 106.8h13.2v1.3h-13.2zM386.4 103.8h13.2v1.3h-13.2zM386.4 41.8h13.2v1.3h-13.2zM386.4 40.8h13.2v1.3h-13.2zM399.3 121.8h13.2v1.3h-13.2zM399.3 115.8h13.2v1.3h-13.2zM399.3 96.8h13.2v1.3h-13.2zM399.3 94.8h13.2v1.3h-13.2zM399.3 92.8h13.2v1.3h-13.2zM412.2 43.8h13.2v1.3h-13.2zM425.1 134.2h13.2v1.6h-13.2zM425.1 125.8h13.2v1.3h-13.2zM425.1 120.8h13.2v1.3h-13.2zM425.1 100.8h13.2v1.3h-13.2zM425.1 93.8h13.2v1.3h-13.2zM425.1 43.8h13.2v1.3h-13.2zM437.9 122.8h13.2v1.3h-13.2zM437.9 89.8h13.2v1.3h-13.2zM437.9 88.8h13.2v1.3h-13.2zM437.9 45.8h13.2v1.3h-13.2zM450.8 124.8h13.2v1.3h-13.2zM450.8 97.8h13.2v1.3h-13.2zM450.8 44.8h13.2v1.3h-13.2zM463.7 120.8h13.2v1.3h-13.2zM463.7 115.8h13.2v1.3h-13.2zM463.7 79.8h13.2v1.3h-13.2zM463.7 46.8h13.2v1.3h-13.2zM476.5 127.8h13.2v1.3h-13.2zM476.5 122.8h13.2v1.3h-13.2zM476.5 79.8h13.2v1.3h-13.2zM476.5 47.8h13.2v1.3h-13.2zM489.4 77.8h13.2v1.3h-13.2zM489.4 76.8h13.2v1.3h-13.2zM489.4 75.8h13.2v1.3h-13.2zM489.4 49.8h13.2v1.3h-13.2zM502.3 111.8h13.2v1.3h-13.2zM502.3 107.8h13.2v1.3h-13.2zM502.3 75.8h13.2v1.3h-13.2zM502.3 74.8h13.2v1.3h-13.2zM502.3 52.8h13.2v1.3h-13.2zM515.2 144.0h13.2v2.5h-13.2zM515.2 105.8h13.2v1.3h-13.2zM515.2 50.8h13.2v1.3h-13.2zM528.0 128.8h13.2v1.3h-13.2zM528.0 122.8h13.2v1.3h-13.2zM528.0 110.8h13.2v1.3h-13.2zM528.0 105.8h13.2v1.3h-13.2zM528.0 54.8h13.2v1.3h-13.2zM528.0 53.8h13.2v1.3h-13.2zM540.9 126.8h13.2v1.3h-13.2zM540.9 119.8h13.2v1.3h-13.2zM540.9 112.8h13.2v1.3h-13.2zM553.8 146.2h13.2v2.8h-13.2zM553.8 127.8h13.2v1.3h-13.2zM553.8 57.8h13.2v1.3h-13.2zM553.8 56.8h13.2v1.3h-13.2zM553.8 55.8h13.2v1.3h-13.2zM566.6 138.6h13.2v2.0h-13.2zM566.6 67.8h13.2v1.3h-13.2zM566.6 57.8h13.2v1.3h-13.2zM566.6 55.8h13.2v1.3h-13.2zM579.5 60.8h13.2v1.3h-13.2zM579.5 57.8h13.2v1.3h-13.2zM605.3 134.2h13.2v1.6h-13.2zM605.3 125.8h13.2v1.3h-13.2zM605.3 63.8h13.2v1.3h-13.2zM618.1 130.8h13.2v1.3h-13.2zM618.1 129.8h13.2v1.3h-13.2zM618.1 110.8h13.2v1.3h-13.2zM618.1 109.8h13.2v1.3h-13.2zM618.1 108.8h13.2v1.3h-13.2zM618.1 66.8h13.2v1.3h-13.2zM618.1 61.8h13.2v1.3h-13.2zM618.1 60.8h13.2v1.3h-13.2z"/><path fill="#00ff59" d="M193.4 7.8h13.2v1.3h-13.2zM206.3 138.6h13.2v2.0h-13.2zM219.1 114.8h13.2v1.3h-13.2zM219.1 105.8h13.2v1.3h-13.2zM219.1 15.8h13.2v1.3h-13.2zM219.1 4.8h13.2v1.3h-13.2zM232.0 14.8h13.2v1.3h-13.2zM232.0 10.8h13.2v1.3h-13.2zM232.0 5.8h13.2v1.3h-13.2zM244.9 144.0h13.2v2.5h-13.2zM244.9 109.8h13.2v1.3h-13.2zM244.9 108.8h13.2v1.3h-13.2zM244.9 8.8h13.2v1.3h-13.2zM257.7 146.2h13.2v2.8h-13.2zM257.7 137.0h13.2v1.8h-13.2zM257.7 108.8h13.2v1.3h-13.2zM257.7 18.8h13.2v1.3h-13.2zM270.6 118.8h13.2v1.3h-13.2zM270.6 20.8h13.2v1.3h-13.2zM270.6 17.8h13.2v1.3h-13.2zM270.6 14.8h13.2v1.3h-13.2zM283.5 146.2h13.2v2.8h-13.2zM283.5 119.8h13.2v1.3h-13.2zM283.5 18.8h13.2v1.3h-13.2zM296.4 128.8h13.2v1.3h-13.2zM296.4 104.8h13.2v1.3h-13.2zM296.4 102.8h13.2v1.3h-13.2zM296.4 24.8h13.2v1.3h-13.2zM309.2 130.8h13.2v1.3h-13.2zM309.2 118.8h13.2v1.3h-13.2zM309.2 26.8h13.2v1.3h-13.2zM322.1 138.6h13.2v2.0h-13.2zM322.1 131.8h13.2v1.5h-13.2zM322.1 130.8h13.2v1.3h-13.2zM322.1 116.8h13.2v1.3h-13.2zM322.1 29.8h13.2v1.3h-13.2zM322.1 23.8h13.2v1.3h-13.2zM335.0 158.5h13.2v5.0h-13.2zM335.0 118.8h13.2v1.3h-13.2zM335.0 33.8h13.2v1.3h-13.2zM335.0 31.8h13.2v1.3h-13.2zM335.0 30.8h13.2v1.3h-13.2zM335.0 27.8h13.2v1.3h-13.2zM347.8 169.1h13.2v8.8h-13.2zM347.8 34.8h13.2v1.3h-13.2zM347.8 33.8h13.2v1.3h-13.2zM360.7 121.8h13.2v1.3h-13.2zM360.7 34.8h13.2v1.3h-13.2zM360.7 32.8h13.2v1.3h-13.2zM373.6 144.0h13.2v2.5h-13.2zM373.6 118.8h13.2v1.3h-13.2zM373.6 36.8h13.2v1.3h-13.2zM373.6 35.8h13.2v1.3h-13.2zM373.6 33.8h13.2v1.3h-13.2zM386.4 146.2h13.2v2.8h-13.2zM386.4 131.8h13.2v1.5h-13.2zM386.4 117.8h13.2v1.3h-13.2zM386.4 35.8h13.2v1.3h-13.2zM399.3 151.5h13.2v3.5h-13.2zM399.3 133.0h13.2v1.6h-13.2zM399.3 130.8h13.2v1.3h-13.2zM399.3 111.8h13.2v1.3h-13.2zM399.3 103.8h13.2v1.3h-13.2zM399.3 102.8h13.2v1.3h-13.2zM399.3 38.8h13.2v1.3h-13.2zM399.3 37.8h13.2v1.3h-13.2zM412.2 142.1h13.2v2.3h-13.2zM412.2 140.2h13.2v2.1h-13.2zM412.2 133.0h13.2v1.6h-13.2zM412.2 120.8h13.2v1.3h-13.2zM412.2 111.8h13.2v1.3h-13.2zM412.2 38.8h13.2v1.3h-13.2zM425.1 154.7h13.2v4.1h-13.2zM425.1 138.6h13.2v2.0h-13.2zM425.1 111.8h13.2v1.3h-13.2zM425.1 36.8h13.2v1.3h-13.2zM437.9 124.8h13.2v1.3h-13.2zM437.9 113.8h13.2v1.3h-13.2zM437.9 110.8h13.2v1.3h-13.2zM437.9 100.8h13.2v1.3h-13.2zM437.9 99.8h13.2v1.3h-13.2zM437.9 96.8h13.2v1.3h-13.2zM450.8 138.6h13.2v2.0h-13.2zM450.8 127.8h13.2v1.3h-13.2zM450.8 111.8h13.2v1.3h-13.2zM450.8 100.8h13.2v1.3h-13.2zM450.8 90.8h13.2v1.3h-13.2zM450.8 85.8h13.2v1.3h-13.2zM463.7 125.8h13.2v1.3h-13.2zM463.7 98.8h13.2v1.3h-13.2zM463.7 94.8h13.2v1.3h-13.2zM463.7 92.8h13.2v1.3h-13.2zM463.7 40.8h13.2v1.3h-13.2zM476.5 151.5h13.2v3.5h-13.2zM476.5 134.2h13.2v1.6h-13.2zM476.5 113.8h13.2v1.3h-13.2zM476.5 111.8h13.2v1.3h-13.2zM476.5 102.8h13.2v1.3h-13.2zM476.5 101.8h13.2v1.3h-13.2zM476.5 97.8h13.2v1.3h-13.2zM476.5 42.8h13.2v1.3h-13.2zM476.5 41.8h13.2v1.3h-13.2zM489.4 126.8h13.2v1.3h-13.2zM489.4 118.8h13.2v1.3h-13.2zM489.4 106.8h13.2v1.3h-13.2zM502.3 154.7h13.2v4.1h-13.2zM502.3 131.8h13.2v1.5h-13.2zM502.3 127.8h13.2v1.3h-13.2zM502.3 123.8h13.2v1.3h-13.2zM502.3 122.8h13.2v1.3h-13.2zM502.3 121.8h13.2v1.3h-13.2zM502.3 102.8h13.2v1.3h-13.2zM502.3 46.8h13.2v1.3h-13.2zM515.2 154.7h13.2v4.1h-13.2zM515.2 134.2h13.2v1.6h-13.2zM515.2 130.8h13.2v1.3h-13.2zM515.2 126.8h13.2v1.3h-13.2zM515.2 116.8h13.2v1.3h-13.2zM515.2 110.8h13.2v1.3h-13.2zM515.2 76.8h13.2v1.3h-13.2zM515.2 43.8h13.2v1.3h-13.2zM528.0 158.5h13.2v5.0h-13.2zM528.0 151.5h13.2v3.5h-13.2zM528.0 125.8h13.2v1.3h-13.2zM528.0 119.8h13.2v1.3h-13.2zM528.0 117.8h13.2v1.3h-13.2zM528.0 106.8h13.2v1.3h-13.2zM528.0 49.8h13.2v1.3h-13.2zM540.9 169.1h13.2v8.8h-13.2zM540.9 151.5h13.2v3.5h-13.2zM540.9 125.8h13.2v1.3h-13.2zM540.9 73.8h13.2v1.3h-13.2zM540.9 51.8h13.2v1.3h-13.2zM540.9 50.8h13.2v1.3h-13.2zM540.9 49.8h13.2v1.3h-13.2zM553.8 134.2h13.2v1.6h-13.2zM553.8 116.8h13.2v1.3h-13.2zM553.8 109.8h13.2v1.3h-13.2zM553.8 51.8h13.2v1.3h-13.2zM553.8 48.8h13.2v1.3h-13.2zM553.8 47.8h13.2v1.3h-13.2zM566.6 120.8h13.2v1.3h-13.2zM566.6 118.8h13.2v1.3h-13.2zM566.6 117.8h13.2v1.3h-13.2zM566.6 112.8h13.2v1.3h-13.2zM566.6 105.8h13.2v1.3h-13.2zM579.5 151.5h13.2v3.5h-13.2zM579.5 140.2h13.2v2.1h-13.2zM579.5 124.8h13.2v1.3h-13.2zM579.5 103.8h13.2v1.3h-13.2zM579.5 50.8h13.2v1.3h-13.2zM592.4 154.7h13.2v4.1h-13.2zM592.4 137.0h13.2v1.8h-13.2zM592.4 125.8h13.2v1.3h-13.2zM592.4 123.8h13.2v1.3h-13.2zM592.4 110.8h13.2v1.3h-13.2zM605.3 127.8h13.2v1.3h-13.2zM605.3 116.8h13.2v1.3h-13.2zM605.3 114.8h13.2v1.3h-13.2zM618.1 169.1h13.2v8.8h-13.2zM618.1 163.1h13.2v6.3h-13.2zM618.1 151.5h13.2v3.5h-13.2zM618.1 134.2h13.2v1.6h-13.2zM618.1 116.8h13.2v1.3h-13.2zM618.1 105.8h13.2v1.3h-13.2zM618.1 70.8h13.2v1.3h-13.2zM618.1 52.8h13.2v1.3h-13.2zM618.1 45.8h13.2v1.3h-13.2z"/><path fill="#ffdd00" d="M206.3 154.7h13.2v4.1h-13.2zM540.9 92.8h13.2v1.3h-13.2zM540.9 81.8h13.2v1.3h-13.2zM579.5 97.8h13.2v1.3h-13.2z"/><path fill="#45ff00" d="M206.3 142.1h13.2v2.3h-13.2zM232.0 125.8h13.2v1.3h-13.2zM257.7 124.8h13.2v1.3h-13.2zM270.6 129.8h13.2v1.3h-13.2zM373.6 148.7h13.2v3.1h-13.2zM489.4 88.8h13.2v1.3h-13.2zM489.4 85.8h13.2v1.3h-13.2zM502.3 95.8h13.2v1.3h-13.2zM502.3 91.8h13.2v1.3h-13.2zM502.3 21.8h13.2v1.3h-13.2zM502.3 17.8h13.2v1.3h-13.2zM528.0 96.8h13.2v1.3h-13.2zM540.9 98.8h13.2v1.3h-13.2zM540.9 77.8h13.2v1.3h-13.2zM553.8 99.8h13.2v1.3h-13.2zM592.4 72.8h13.2v1.3h-13.2zM605.3 102.8h13.2v1.3h-13.2zM618.1 100.8h13.2v1.3h-13.2z"/><path fill="#ff8000" d="M206.3 137.0h13.2v1.8h-13.2zM257.7 154.7h13.2v4.1h-13.2zM540.9 89.8h13.2v1.3h-13.2zM540.9 85.8h13.2v1.3h-13.2zM540.9 83.8h13.2v1.3h-13.2zM540.9 82.8h13.2v1.3h-13.2zM553.8 93.8h13.2v1.3h-13.2zM566.6 95.8h13.2v1.3h-13.2z"/><path fill="#61ff00" d="M206.3 133.0h13.2v1.6h-13.2zM257.7 125.8h13.2v1.3h-13.2zM270.6 154.7h13.2v4.1h-13.2zM270.6 123.8h13.2v1.3h-13.2zM270.6 117.8h13.2v1.3h-13.2zM283.5 148.7h13.2v3.1h-13.2zM502.3 87.8h13.2v1.3h-13.2zM502.3 81.8h13.2v1.3h-13.2zM515.2 95.8h13.2v1.3h-13.2zM553.8 75.8h13.2v1.3h-13.2zM605.3 101.8h13.2v1.3h-13.2zM605.3 100.8h13.2v1.3h-13.2zM618.1 99.8h13.2v1.3h-13.2z"/><path fill="#b4ff00" d="M206.3 129.8h13.2v1.3h-13.2zM502.3 85.8h13.2v1.3h-13.2zM515.2 91.8h13.2v1.3h-13.2zM515.2 89.8h13.2v1.3h-13.2zM515.2 86.8h13.2v1.3h-13.2zM528.0 94.8h13.2v1.3h-13.2zM528.0 92.8h13.2v1.3h-13.2zM592.4 99.8h13.2v1.3h-13.2z"/><path fill="#a6ff00" d="M206.3 128.8h13.2v1.3h-13.2zM244.9 142.1h13.2v2.3h-13.2zM502.3 83.8h13.2v1.3h-13.2zM553.8 96.8h13.2v1.3h-13.2zM553.8 95.8h13.2v1.3h-13.2zM553.8 76.8h13.2v1.3h-13.2zM605.3 99.8h13.2v1.3h-13.2z"/><path fill="#6fff00" d="M206.3 122.8h13.2v1.3h-13.2zM206.3 118.8h13.2v1.3h-13.2zM219.1 148.7h13.2v3.1h-13.2zM270.6 121.8h13.2v1.3h-13.2zM502.3 92.8h13.2v1.3h-13.2zM515.2 93.8h13.2v1.3h-13.2zM515.2 92.8h13.2v1.3h-13.2zM528.0 78.8h13.2v1.3h-13.2zM540.9 96.8h13.2v1.3h-13.2zM553.8 97.8h13.2v1.3h-13.2zM592.4 100.8h13.2v1.3h-13.2zM605.3 72.8h13.2v1.3h-13.2z"/><path fill="#6000ff" d="M206.3 82.8h13.2v1.3h-13.2zM206.3 77.8h13.2v1.3h-13.2zM219.1 69.8h13.2v1.3h-13.2zM219.1 64.8h13.2v1.3h-13.2zM219.1 58.8h13.2v1.3h-13.2zM232.0 64.8h13.2v1.3h-13.2zM244.9 75.8h13.2v1.3h-13.2zM244.9 68.8h13.2v1.3h-13.2zM257.7 69.8h13.2v1.3h-13.2zM257.7 59.8h13.2v1.3h-13.2zM257.7 56.8h13.2v1.3h-13.2zM257.7 55.8h13.2v1.3h-13.2zM270.6 76.8h13.2v1.3h-13.2zM270.6 58.8h13.2v1.3h-13.2zM283.5 74.8h13.2v1.3h-13.2zM283.5 58.8h13.2v1.3h-13.2zM296.4 78.8h13.2v1.3h-13.2zM296.4 72.8h13.2v1.3h-13.2zM296.4 56.8h13.2v1.3h-13.2zM309.2 72.8h13.2v1.3h-13.2zM309.2 56.8h13.2v1.3h-13.2zM335.0 63.8h13.2v1.3h-13.2zM335.0 59.8h13.2v1.3h-13.2zM347.8 58.8h13.2v1.3h-13.2zM360.7 75.8h13.2v1.3h-13.2zM373.6 78.8h13.2v1.3h-13.2zM373.6 75.8h13.2v1.3h-13.2zM373.6 61.8h13.2v1.3h-13.2zM373.6 59.8h13.2v1.3h-13.2zM399.3 60.8h13.2v1.3h-13.2zM412.2 67.8h13.2v1.3h-13.2zM412.2 65.8h13.2v1.3h-13.2z"/><path fill="#7d00ff" d="M206.3 76.8h13.2v1.3h-13.2zM206.3 71.8h13.2v1.3h-13.2zM219.1 133.0h13.2v1.6h-13.2zM219.1 102.8h13.2v1.3h-13.2zM219.1 74.8h13.2v1.3h-13.2zM219.1 67.8h13.2v1.3h-13.2zM219.1 65.8h13.2v1.3h-13.2zM219.1 61.8h13.2v1.3h-13.2zM232.0 78.8h13.2v1.3h-13.2zM232.0 77.8h13.2v1.3h-13.2zM244.9 78.8h13.2v1.3h-13.2zM244.9 72.8h13.2v1.3h-13.2zM257.7 70.8h13.2v1.3h-13.2zM257.7 66.8h13.2v1.3h-13.2zM270.6 68.8h13.2v1.3h-13.2zM270.6 65.8h13.2v1.3h-13.2zM283.5 77.8h13.2v1.3h-13.2zM283.5 67.8h13.2v1.3h-13.2zM283.5 63.8h13.2v1.3h-13.2zM283.5 61.8h13.2v1.3h-13.2zM283.5 54.8h13.2v1.3h-13.2zM296.4 76.8h13.2v1.3h-13.2zM296.4 70.8h13.2v1.3h-13.2zM296.4 65.8h13.2v1.3h-13.2zM296.4 64.8h13.2v1.3h-13.2zM296.4 62.8h13.2v1.3h-13.2zM296.4 57.8h13.2v1.3h-13.2zM309.2 66.8h13.2v1.3h-13.2zM309.2 61.8h13.2v1.3h-13.2zM335.0 72.8h13.2v1.3h-13.2zM335.0 70.8h13.2v1.3h-13.2zM335.0 65.8h13.2v1.3h-13.2zM335.0 60.8h13.2v1.3h-13.2zM347.8 74.8h13.2v1.3h-13.2zM347.8 61.8h13.2v1.3h-13.2zM347.8 59.8h13.2v1.3h-13.2zM360.7 73.8h13.2v1.3h-13.2zM373.6 76.8h13.2v1.3h-13.2zM373.6 74.8h13.2v1.3h-13.2zM373.6 73.8h13.2v1.3h-13.2zM373.6 69.8h13.2v1.3h-13.2zM373.6 67.8h13.2v1.3h-13.2zM373.6 64.8h13.2v1.3h-13.2zM399.3 70.8h13.2v1.3h-13.2zM399.3 66.8h13.2v1.3h-13.2zM399.3 61.8h13.2v1.3h-13.2zM425.1 68.8h13.2v1.3h-13.2zM425.1 66.8h13.2v1.3h-13.2zM425.1 65.8h13.2v1.3h-13.2z"/><path fill="#1700ff" d="M206.3 73.8h13.2v1.3h-13.2zM206.3 58.8h13.2v1.3h-13.2zM206.3 49.8h13.2v1.3h-13.2zM219.1 89.8h13.2v1.3h-13.2zM232.0 81.8h13.2v1.3h-13.2zM232.0 75.8h13.2v1.3h-13.2zM232.0 43.8h13.2v1.3h-13.2zM232.0 41.8h13.2v1.3h-13.2zM244.9 82.8h13.2v1.3h-13.2zM244.9 45.8h13.2v1.3h-13.2zM257.7 80.8h13.2v1.3h-13.2zM257.7 48.8h13.2v1.3h-13.2zM270.6 128.8h13.2v1.3h-13.2zM270.6 75.8h13.2v1.3h-13.2zM270.6 51.8h13.2v1.3h-13.2zM283.5 82.8h13.2v1.3h-13.2zM283.5 56.8h13.2v1.3h-13.2zM283.5 55.8h13.2v1.3h-13.2zM283.5 51.8h13.2v1.3h-13.2zM283.5 50.8h13.2v1.3h-13.2zM283.5 47.8h13.2v1.3h-13.2zM296.4 77.8h13.2v1.3h-13.2zM309.2 75.8h13.2v1.3h-13.2zM309.2 52.8h13.2v1.3h-13.2zM322.1 81.8h13.2v1.3h-13.2zM322.1 79.8h13.2v1.3h-13.2zM322.1 73.8h13.2v1.3h-13.2zM322.1 53.8h13.2v1.3h-13.2zM335.0 79.8h13.2v1.3h-13.2zM335.0 56.8h13.2v1.3h-13.2zM360.7 54.8h13.2v1.3h-13.2zM373.6 53.8h13.2v1.3h-13.2zM386.4 78.8h13.2v1.3h-13.2zM386.4 77.8h13.2v1.3h-13.2zM399.3 74.8h13.2v1.3h-13.2zM399.3 57.8h13.2v1.3h-13.2zM412.2 70.8h13.2v1.3h-13.2zM412.2 60.8h13.2v1.3h-13.2zM412.2 56.8h13.2v1.3h-13.2zM412.2 55.8h13.2v1.3h-13.2zM437.9 71.8h13.2v1.3h-13.2zM437.9 65.8h13.2v1.3h-13.2zM450.8 69.8h13.2v1.3h-13.2zM450.8 68.8h13.2v1.3h-13.2zM450.8 66.8h13.2v1.3h-13.2z"/><path fill="#00ff2c" d="M206.3 13.8h13.2v1.3h-13.2zM206.3 4.8h13.2v1.3h-13.2zM219.1 177.6h13.2v14.7h-13.2zM219.1 129.8h13.2v1.3h-13.2zM219.1 118.8h13.2v1.3h-13.2zM219.1 115.8h13.2v1.3h-13.2zM232.0 128.8h13.2v1.3h-13.2zM232.0 113.8h13.2v1.3h-13.2zM244.9 177.6h13.2v14.7h-13.2zM257.7 177.6h13.2v14.7h-13.2zM257.7 140.2h13.2v2.1h-13.2zM257.7 14.8h13.2v1.3h-13.2zM257.7 13.8h13.2v1.3h-13.2zM270.6 177.6h13.2v14.7h-13.2zM270.6 142.1h13.2v2.3h-13.2zM270.6 134.2h13.2v1.6h-13.2zM270.6 116.8h13.2v1.3h-13.2zM270.6 8.8h13.2v1.3h-13.2zM270.6 7.8h13.2v1.3h-13.2zM283.5 7.8h13.2v1.3h-13.2zM283.5 5.8h13.2v1.3h-13.2zM296.4 177.6h13.2v14.7h-13.2zM296.4 125.8h13.2v1.3h-13.2zM296.4 107.8h13.2v1.3h-13.2zM296.4 18.8h13.2v1.3h-13.2zM296.4 15.8h13.2v1.3h-13.2zM296.4 13.8h13.2v1.3h-13.2zM296.4 12.8h13.2v1.3h-13.2zM296.4 11.8h13.2v1.3h-13.2zM296.4 10.8h13.2v1.3h-13.2zM309.2 177.6h13.2v14.7h-13.2zM309.2 110.8h13.2v1.3h-13.2zM309.2 24.8h13.2v1.3h-13.2zM322.1 177.6h13.2v14.7h-13.2zM322.1 169.1h13.2v8.8h-13.2zM322.1 126.8h13.2v1.3h-13.2zM322.1 121.8h13.2v1.3h-13.2zM322.1 12.8h13.2v1.3h-13.2zM335.0 177.6h13.2v14.7h-13.2zM335.0 163.1h13.2v6.3h-13.2zM335.0 146.2h13.2v2.8h-13.2zM335.0 131.8h13.2v1.5h-13.2zM335.0 129.8h13.2v1.3h-13.2zM335.0 115.8h13.2v1.3h-13.2zM335.0 114.8h13.2v1.3h-13.2zM335.0 25.8h13.2v1.3h-13.2zM335.0 24.8h13.2v1.3h-13.2zM335.0 20.8h13.2v1.3h-13.2zM335.0 16.8h13.2v1.3h-13.2zM335.0 14.8h13.2v1.3h-13.2zM347.8 177.6h13.2v14.7h-13.2zM347.8 148.7h13.2v3.1h-13.2zM347.8 115.8h13.2v1.3h-13.2zM360.7 177.6h13.2v14.7h-13.2zM360.7 151.5h13.2v3.5h-13.2zM360.7 29.8h13.2v1.3h-13.2zM360.7 28.8h13.2v1.3h-13.2zM360.7 7.8h13.2v1.3h-13.2zM360.7 6.8h13.2v1.3h-13.2zM373.6 177.6h13.2v14.7h-13.2zM373.6 131.8h13.2v1.5h-13.2zM373.6 31.8h13.2v1.3h-13.2zM373.6 30.8h13.2v1.3h-13.2zM373.6 26.8h13.2v1.3h-13.2zM373.6 12.8h13.2v1.3h-13.2zM386.4 177.6h13.2v14.7h-13.2zM386.4 163.1h13.2v6.3h-13.2zM386.4 126.8h13.2v1.3h-13.2zM386.4 28.8h13.2v1.3h-13.2zM386.4 27.8h13.2v1.3h-13.2zM399.3 177.6h13.2v14.7h-13.2zM399.3 107.8h13.2v1.3h-13.2zM399.3 33.8h13.2v1.3h-13.2zM412.2 177.6h13.2v14.7h-13.2zM412.2 163.1h13.2v6.3h-13.2zM412.2 114.8h13.2v1.3h-13.2zM412.2 106.8h13.2v1.3h-13.2zM425.1 169.1h13.2v8.8h-13.2zM425.1 142.1h13.2v2.3h-13.2zM425.1 137.0h13.2v1.8h-13.2zM425.1 34.8h13.2v1.3h-13.2zM425.1 24.8h13.2v1.3h-13.2zM425.1 23.8h13.2v1.3h-13.2zM425.1 18.8h13.2v1.3h-13.2zM425.1 7.8h13.2v1.3h-13.2zM437.9 177.6h13.2v14.7h-13.2zM437.9 169.1h13.2v8.8h-13.2zM437.9 148.7h13.2v3.1h-13.2zM437.9 135.6h13.2v1.7h-13.2zM437.9 134.2h13.2v1.6h-13.2zM437.9 130.8h13.2v1.3h-13.2zM437.9 129.8h13.2v1.3h-13.2zM437.9 101.8h13.2v1.3h-13.2zM450.8 177.6h13.2v14.7h-13.2zM450.8 169.1h13.2v8.8h-13.2zM450.8 123.8h13.2v1.3h-13.2zM450.8 38.8h13.2v1.3h-13.2zM463.7 158.5h13.2v5.0h-13.2zM463.7 101.8h13.2v1.3h-13.2zM463.7 39.8h13.2v1.3h-13.2zM463.7 34.8h13.2v1.3h-13.2zM463.7 33.8h13.2v1.3h-13.2zM463.7 32.8h13.2v1.3h-13.2zM476.5 177.6h13.2v14.7h-13.2zM476.5 119.8h13.2v1.3h-13.2zM476.5 99.8h13.2v1.3h-13.2zM476.5 93.8h13.2v1.3h-13.2zM476.5 89.8h13.2v1.3h-13.2zM476.5 84.8h13.2v1.3h-13.2zM476.5 36.8h13.2v1.3h-13.2zM489.4 177.6h13.2v14.7h-13.2zM489.4 102.8h13.2v1.3h-13.2zM489.4 98.8h13.2v1.3h-13.2zM489.4 43.8h13.2v1.3h-13.2zM489.4 41.8h13.2v1.3h-13.2zM489.4 38.8h13.2v1.3h-13.2zM489.4 34.8h13.2v1.3h-13.2zM489.4 32.8h13.2v1.3h-13.2zM502.3 142.1h13.2v2.3h-13.2zM502.3 130.8h13.2v1.3h-13.2zM502.3 120.8h13.2v1.3h-13.2zM502.3 117.8h13.2v1.3h-13.2zM502.3 44.8h13.2v1.3h-13.2zM502.3 43.8h13.2v1.3h-13.2zM515.2 177.6h13.2v14.7h-13.2zM515.2 169.1h13.2v8.8h-13.2zM515.2 146.2h13.2v2.8h-13.2zM515.2 138.6h13.2v2.0h-13.2zM515.2 127.8h13.2v1.3h-13.2zM515.2 99.8h13.2v1.3h-13.2zM515.2 41.8h13.2v1.3h-13.2zM515.2 40.8h13.2v1.3h-13.2zM528.0 177.6h13.2v14.7h-13.2zM528.0 154.7h13.2v4.1h-13.2zM528.0 144.0h13.2v2.5h-13.2zM528.0 102.8h13.2v1.3h-13.2zM540.9 130.8h13.2v1.3h-13.2zM540.9 102.8h13.2v1.3h-13.2zM540.9 100.8h13.2v1.3h-13.2zM540.9 75.8h13.2v1.3h-13.2zM540.9 46.8h13.2v1.3h-13.2zM540.9 41.8h13.2v1.3h-13.2zM540.9 37.8h13.2v1.3h-13.2zM553.8 177.6h13.2v14.7h-13.2zM553.8 142.1h13.2v2.3h-13.2zM553.8 129.8h13.2v1.3h-13.2zM553.8 118.8h13.2v1.3h-13.2zM553.8 44.8h13.2v1.3h-13.2zM553.8 43.8h13.2v1.3h-13.2zM553.8 42.8h13.2v1.3h-13.2zM553.8 40.8h13.2v1.3h-13.2zM553.8 37.8h13.2v1.3h-13.2zM553.8 36.8h13.2v1.3h-13.2zM566.6 177.6h13.2v14.7h-13.2zM566.6 133.0h13.2v1.6h-13.2zM566.6 130.8h13.2v1.3h-13.2zM566.6 46.8h13.2v1.3h-13.2zM566.6 45.8h13.2v1.3h-13.2zM566.6 44.8h13.2v1.3h-13.2zM566.6 43.8h13.2v1.3h-13.2zM579.5 177.6h13.2v14.7h-13.2zM579.5 169.1h13.2v8.8h-13.2zM579.5 71.8h13.2v1.3h-13.2zM579.5 44.8h13.2v1.3h-13.2zM579.5 33.8h13.2v1.3h-13.2zM579.5 31.8h13.2v1.3h-13.2zM579.5 23.8h13.2v1.3h-13.2zM592.4 129.8h13.2v1.3h-13.2zM592.4 118.8h13.2v1.3h-13.2zM592.4 108.8h13.2v1.3h-13.2zM592.4 70.8h13.2v1.3h-13.2zM592.4 56.8h13.2v1.3h-13.2zM605.3 130.8h13.2v1.3h-13.2zM605.3 104.8h13.2v1.3h-13.2zM618.1 177.6h13.2v14.7h-13.2zM618.1 154.7h13.2v4.1h-13.2zM618.1 41.8h13.2v1.3h-13.2zM618.1 32.8h13.2v1.3h-13.2z"/><path fill="#98ff00" d="M219.1 146.2h13.2v2.8h-13.2zM219.1 109.8h13.2v1.3h-13.2zM309.2 151.5h13.2v3.5h-13.2zM412.2 158.5h13.2v5.0h-13.2zM502.3 90.8h13.2v1.3h-13.2zM502.3 88.8h13.2v1.3h-13.2zM502.3 86.8h13.2v1.3h-13.2zM502.3 84.8h13.2v1.3h-13.2zM515.2 81.8h13.2v1.3h-13.2zM540.9 94.8h13.2v1.3h-13.2zM592.4 73.8h13.2v1.3h-13.2zM605.3 73.8h13.2v1.3h-13.2z"/><path fill="#7dff00" d="M232.0 144.0h13.2v2.5h-13.2zM232.0 131.8h13.2v1.5h-13.2zM232.0 127.8h13.2v1.3h-13.2zM257.7 158.5h13.2v5.0h-13.2zM502.3 93.8h13.2v1.3h-13.2zM515.2 94.8h13.2v1.3h-13.2zM528.0 95.8h13.2v1.3h-13.2zM579.5 100.8h13.2v1.3h-13.2zM579.5 99.8h13.2v1.3h-13.2zM579.5 73.8h13.2v1.3h-13.2z"/><path fill="#f9ff00" d="M232.0 129.8h13.2v1.3h-13.2zM515.2 85.8h13.2v1.3h-13.2zM579.5 98.8h13.2v1.3h-13.2zM605.3 98.8h13.2v1.3h-13.2z"/><path fill="#ffea00" d="M244.9 154.7h13.2v4.1h-13.2zM515.2 84.8h13.2v1.3h-13.2zM528.0 91.8h13.2v1.3h-13.2zM528.0 90.8h13.2v1.3h-13.2zM528.0 84.8h13.2v1.3h-13.2zM528.0 82.8h13.2v1.3h-13.2zM553.8 78.8h13.2v1.3h-13.2zM592.4 75.8h13.2v1.3h-13.2z"/><path fill="#ff8d00" d="M244.9 148.7h13.2v3.1h-13.2zM528.0 88.8h13.2v1.3h-13.2zM553.8 79.8h13.2v1.3h-13.2z"/><path fill="#8bff00" d="M322.1 134.2h13.2v1.6h-13.2zM347.8 146.2h13.2v2.8h-13.2zM463.7 144.0h13.2v2.5h-13.2zM502.3 89.8h13.2v1.3h-13.2zM502.3 82.8h13.2v1.3h-13.2zM528.0 93.8h13.2v1.3h-13.2zM528.0 79.8h13.2v1.3h-13.2zM540.9 95.8h13.2v1.3h-13.2zM566.6 98.8h13.2v1.3h-13.2zM566.6 75.8h13.2v1.3h-13.2zM618.1 73.8h13.2v1.3h-13.2z"/><path fill="#ffcf00" d="M528.0 89.8h13.2v1.3h-13.2zM540.9 80.8h13.2v1.3h-13.2zM553.8 94.8h13.2v1.3h-13.2zM592.4 97.8h13.2v1.3h-13.2zM605.3 75.8h13.2v1.3h-13.2zM618.1 75.8h13.2v1.3h-13.2z"/><path fill="#ffa800" d="M528.0 86.8h13.2v1.3h-13.2zM528.0 85.8h13.2v1.3h-13.2zM528.0 83.8h13.2v1.3h-13.2zM540.9 90.8h13.2v1.3h-13.2zM579.5 96.8h13.2v1.3h-13.2zM605.3 97.8h13.2v1.3h-13.2zM618.1 97.8h13.2v1.3h-13.2z"/><path fill="#ff5200" d="M540.9 88.8h13.2v1.3h-13.2zM566.6 78.8h13.2v1.3h-13.2zM592.4 76.8h13.2v1.3h-13.2zM605.3 76.8h13.2v1.3h-13.2zM618.1 76.8h13.2v1.3h-13.2z"/><path fill="#ff3b00" d="M540.9 87.8h13.2v1.3h-13.2zM540.9 86.8h13.2v1.3h-13.2zM605.3 96.8h13.2v1.3h-13.2z"/><path fill="#ff6900" d="M540.9 84.8h13.2v1.3h-13.2zM579.5 77.8h13.2v1.3h-13.2z"/><path fill="#ff0e00" d="M553.8 80.8h13.2v1.3h-13.2zM579.5 95.8h13.2v1.3h-13.2zM618.1 96.8h13.2v1.3h-13.2z"/><path fill="#4aff00" d="M180.5 148.7h13.2v3.1h-13.2z"/></g>
<path d="M162.2 342.9L326.4 414.2" stroke="#00e800" stroke-width="2.2" fill="none"/>
<path d="M162.2 360L326.4 441.6" stroke="#00e800" stroke-width="1.5" fill="none"/>
<path d="M372.3 445.7L425.7 501.4" stroke="#00e800" stroke-width="2.2" fill="none"/>
<path d="M372.3 473.4L425.7 546.3" stroke="#00e800" stroke-width="1.5" fill="none"/>
<path d="M85.2 276.5L123.2 329.8L135.2 335.0L147.2 341.3L159.2 348.0L171.2 354.7L173.4 355.7L175.6 356.7L177.8 358.1L180.0 359.3L182.2 359.9L184.4 361.0L186.6 362.1L188.8 363.5L191.0 364.4L193.2 364.5L195.4 365.4L197.6 367.0L199.8 368.3L202.0 368.4L204.2 368.9L206.4 370.6L208.6 370.8L210.8 372.2L213.0 373.5L215.2 374.0L217.4 374.8L219.6 376.1L221.8 376.4L224.0 377.7L226.2 378.5L228.4 379.7L230.6 380.6L232.8 381.7L235.0 382.6L237.2 383.8L239.4 384.7L241.6 385.7L243.8 387.1L246.0 386.5L248.2 388.8L250.4 388.9L252.6 389.3L254.8 390.7L257.0 391.7L259.2 393.1L261.4 392.9L263.6 394.5L265.8 395.4L268.0 395.4L270.2 396.7L272.4 398.6L274.6 399.7L276.8 400.9L279.0 401.7L281.2 402.6L283.4 403.4L285.6 405.0L287.8 404.8L290.0 406.1L292.2 407.3L294.4 407.1L296.6 409.5L298.8 409.2L301.0 410.4L302.0 412.0L303.0 410.7L304.0 411.3L305.0 412.8L306.0 411.7L307.0 412.5L308.0 413.4L309.0 413.8L310.0 414.3L311.0 414.6L312.0 415.6L313.0 415.8L314.0 416.1L315.0 415.8L316.0 416.3L317.0 416.1L318.0 418.1L319.0 417.2L320.0 419.3L321.0 420.4L322.0 419.3L323.0 420.0L324.0 420.7L325.0 422.1L326.0 421.7L327.0 422.7L328.0 423.0L329.0 423.8L330.0 425.3L331.0 424.5L332.0 425.7L333.0 426.4L334.0 427.4L335.0 426.6L336.0 428.7L337.0 428.9L338.0 429.8L339.0 429.9L340.0 429.4L341.0 430.7L342.0 432.4L343.0 432.6L344.0 433.3L345.0 435.3L346.0 436.4L347.0 435.6L348.0 437.7L349.0 435.6L350.0 436.2L351.0 439.0L352.0 438.7L353.0 440.0L354.0 440.5L355.0 440.6L356.0 441.8L357.0 442.0L358.0 441.3L359.0 443.4L360.0 444.0L361.0 446.1L362.0 444.5L363.0 446.2L364.0 446.7L365.0 447.8L366.0 450.1L367.0 449.9L368.0 450.1L369.0 451.6L370.0 453.1L371.0 452.6L372.0 454.3L373.0 456.9L374.0 457.3L375.0 457.6L376.0 458.2L377.0 459.5L378.0 459.2L379.0 462.4L380.0 462.9L381.0 463.7L382.0 463.3L383.0 464.9L384.0 467.1L385.0 467.9L386.0 468.2L387.0 470.3L388.0 471.8L389.0 471.4L390.0 472.6L391.0 473.4L392.0 474.2L393.0 477.2L394.0 478.0L395.0 478.8L396.0 478.3L397.0 479.4L398.0 481.4L399.0 482.0L400.0 483.6L401.0 483.7L402.0 486.2L403.0 488.5L404.0 489.3L405.0 490.5L406.0 490.0L407.0 492.0L408.0 491.7L409.0 494.2L410.0 493.9L411.0 494.9L412.0 495.9L413.0 498.4L414.0 499.1L415.0 500.2L416.0 499.8L417.0 502.3L418.0 501.6L419.0 505.7L420.0 504.8L421.0 506.0L422.0 506.5L423.0 505.6L424.0 506.6L425.0 508.9L426.0 511.3L427.0 509.3L428.0 510.6L429.0 512.2L430.0 511.3L431.0 512.2L431.4 514.0L431.9 514.8L432.3 514.8L432.8 517.4L433.2 515.9L433.7 516.9L434.1 518.7L434.6 519.2L435.0 515.9L435.5 517.7L435.9 519.8L436.4 517.4L436.8 518.3L437.3 518.3L437.7 518.7L438.2 519.3L438.6 521.2L439.1 522.9L439.5 523.6L440.0 522.3L440.4 520.5L440.9 523.0L441.3 523.1L441.8 524.3L442.2 524.2L442.7 522.7L443.1 525.5L443.6 523.1L444.0 525.0L444.5 526.5L444.9 526.9L445.4 528.6L445.8 524.4L446.3 527.8L446.7 528.5L447.2 527.7L447.6 529.1L448.1 527.4L448.5 529.7L449.0 529.9L449.4 528.5L449.9 529.2L450.3 530.0L450.8 529.8L451.2 530.0L451.6 532.8L451.9 529.7L452.3 531.3L452.6 525.9L453.0 531.4L453.3 529.9L453.7 525.5L454.0 532.1L454.4 527.6L454.7 526.7L455.1 530.4L455.4 531.9L455.8 531.4L456.1 528.7L456.5 525.9L456.8 528.0L457.2 531.9L457.5 531.1L457.9 535.4L458.2 527.8L458.6 530.8L458.9 529.8L459.3 533.0L459.6 531.5L460.0 532.0L460.3 531.3L460.7 537.4L461.0 529.1L461.4 534.4L462.0 541.9L462.5 539.7L462.9 540.4L463.4 541.0L463.8 542.6L464.3 541.7L464.7 543.0L465.2 544.0L465.6 544.4L466.1 543.9L466.5 542.9L467.0 542.3L467.4 546.0L467.9 545.6L468.3 544.3L468.8 545.3L469.2 545.8L469.7 544.7L470.1 547.6L470.6 546.8L471.0 547.9L471.5 549.6L471.9 549.1L472.4 550.3L472.8 550.6L473.3 550.6L473.7 551.0L474.2 553.6L474.6 551.5L475.1 554.0L475.5 551.2L476.0 553.5L476.4 536.9L476.9 554.1L477.4 535.1L477.9 553.4L478.4 534.8L478.9 554.3L479.4 535.2L479.9 554.8L480.4 536.6L480.9 555.5L481.4 536.1L481.8 555.1L482.3 556.7L482.7 557.4L483.2 558.4L483.6 556.9L484.1 557.0L484.3 538.9L484.8 560.6L485.3 537.2L485.8 560.5L486.3 538.5L486.8 559.0L487.2 558.6L487.7 561.2L488.1 561.3L488.6 557.4L488.6 537.2L489.1 562.0L489.6 535.2L490.1 560.7L490.6 536.6L491.3 561.5L491.7 562.3L492.2 561.3L492.6 558.8L493.1 560.7L493.5 561.4L494.0 562.1L494.4 561.8L494.9 565.3L495.3 563.4L495.8 565.5L496.2 563.8L496.7 566.5L497.1 563.4L497.6 565.9L498.0 563.9L498.5 566.4L498.9 568.1L499.4 564.5L499.8 565.8L500.3 567.5L500.7 567.3L501.2 566.2L501.6 569.6L502.1 568.5L502.5 570.3L503.0 569.5L503.4 568.0L503.9 569.1L504.3 571.6L504.8 568.6L505.2 569.9L505.7 571.4L506.1 572.1L506.6 572.1L506.8 526.8L507.2 570.5L507.7 525.1L508.1 572.8L508.6 529.5L509.0 574.8L509.5 533.6L509.9 572.2L510.4 535.2L510.8 573.6L511.3 536.5L511.5 570.4L512.0 574.0L512.4 574.0L512.9 574.6L513.3 576.0L513.8 573.3L514.2 574.5L514.7 575.0L515.1 576.1L515.6 576.0L516.0 574.0L516.5 573.6L516.9 575.0L517.4 573.7L517.8 577.0L518.3 575.4L518.7 575.7L519.2 575.2L519.6 578.2L520.1 576.9L520.5 576.3L521.0 577.7L521.4 577.0L521.9 578.0L522.3 579.0L522.8 577.3L523.2 578.3L523.7 578.4L524.1 579.3L524.6 578.9L525.0 578.4L525.5 577.7L525.9 578.9L526.4 577.5L526.8 579.6L527.3 579.0L527.7 579.7L528.2 575.6L528.6 578.4L529.1 578.3L529.5 580.7L530.0 579.3L530.4 579.4L530.9 577.8L531.3 579.8L531.8 576.1L532.2 581.6L532.7 579.9L533.1 580.3L533.6 578.8L534.0 579.3L534.5 581.3L534.9 580.4L535.4 581.2L535.8 579.8L536.3 581.7L536.7 578.9L537.2 580.0L537.6 579.9L538.1 580.3L538.5 579.1L539.0 579.2L539.5 580.7L539.9 581.0L540.4 582.3L540.8 581.5L541.3 583.5L541.7 580.0L542.2 580.5L542.6 582.4L543.1 581.9L543.5 581.2L544.0 583.3L544.4 578.7L544.9 584.1L545.3 582.3L545.8 582.8L546.2 583.1L546.7 583.0L547.1 584.2L547.6 582.6L548.0 583.7L548.5 580.9L548.9 584.3L549.4 585.3L549.8 583.6L550.3 584.9L550.7 582.0L551.2 583.5L551.6 582.3L552.1 584.4L552.5 584.8L553.0 582.8L553.4 583.5L553.9 583.8L554.3 587.2L554.8 584.6L555.2 584.9L555.7 585.2L556.1 585.2L556.6 584.7L557.0 583.7L557.5 584.4L557.9 587.0L558.4 585.6L558.8 585.0L559.3 584.1L559.7 585.5L560.2 585.7L560.6 585.1L561.1 586.8L561.5 580.3L562.0 585.8L562.4 586.9L562.9 586.4L563.3 587.4L563.8 586.0L564.2 585.9L564.7 586.9L565.1 586.7L565.6 587.8L566.0 587.0L566.5 586.6L566.9 587.2L567.4 587.5L567.8 585.7L568.3 586.7L568.7 586.6L569.2 588.3L569.6 586.6L570.1 588.3L570.5 585.9L571.0 587.2L571.4 588.4L571.9 587.1L572.3 588.6L572.8 585.4L573.2 587.6L573.7 587.8L574.1 587.5L574.6 586.2L575.0 588.5L575.5 585.5L575.9 588.9L576.4 588.3L576.8 589.1L577.3 583.8L577.7 587.0L578.2 587.7L578.6 587.8L579.1 589.0L579.5 588.1L580.0 588.9L580.4 589.0L580.9 590.1L581.3 586.6L581.8 588.3L582.2 589.5L582.7 589.6L583.1 588.4L583.6 588.7L584.0 589.0L584.5 589.3L584.9 588.6L585.4 588.6L585.8 588.2L586.3 589.0L586.7 590.8L587.2 588.6L587.6 590.5L588.1 591.6L588.5 589.9L589.0 592.1L589.4 589.7L589.9 591.6L590.3 589.9L590.8 588.8L590.8 590.4" stroke="#0000ff" stroke-width="2.25" fill="none" stroke-linejoin="round"/>
<path d="M85.0 278.7L123.2 336.5L135.2 343.5L147.2 349.9L159.2 355.2L171.2 360.0L173.4 361.4L175.6 362.7L177.8 364.6L180.0 364.2L182.2 365.3L184.4 366.6L186.6 367.5L188.8 367.8L191.0 369.7L193.2 369.7L195.4 371.0L197.6 372.6L199.8 372.4L202.0 373.8L204.2 375.6L206.4 375.7L208.6 376.3L210.8 377.5L213.0 379.1L215.2 379.0L217.4 380.4L219.6 381.0L221.8 382.2L224.0 384.4L226.2 384.8L228.4 385.6L230.6 387.1L232.8 387.6L235.0 388.5L237.2 390.7L239.4 391.7L241.6 392.0L243.8 393.9L246.0 395.5L248.2 396.2L250.4 397.4L252.6 397.7L254.8 399.4L257.0 399.7L259.2 402.5L261.4 403.0L263.6 404.9L265.8 405.0L268.0 407.0L270.2 406.8L272.4 408.5L274.6 410.2L276.8 411.2L279.0 412.1L281.2 412.4L283.4 415.1L285.6 415.9L287.8 417.4L290.0 418.5L292.2 418.9L294.4 420.5L296.6 423.0L298.8 422.3L301.0 424.2L302.0 424.2L303.0 426.1L304.0 425.8L305.0 425.6L306.0 426.5L307.0 426.5L308.0 426.6L309.0 426.9L310.0 428.6L311.0 428.9L312.0 430.2L313.0 430.2L314.0 431.3L315.0 432.8L316.0 431.6L317.0 432.1L318.0 433.9L319.0 435.3L320.0 433.9L321.0 434.0L322.0 435.3L323.0 435.8L324.0 437.0L325.0 436.4L326.0 437.4L327.0 437.9L328.0 437.6L329.0 438.1L330.0 439.8L331.0 440.3L332.0 439.9L333.0 441.7L334.0 441.7L335.0 441.8L336.0 442.2L337.0 442.5L338.0 443.1L339.0 443.6L340.0 443.5L341.0 442.7L342.0 444.4L343.0 444.5L344.0 444.8L345.0 446.5L346.0 445.6L347.0 447.8L348.0 447.4L349.0 447.6L350.0 448.4L351.0 450.8L352.0 450.8L353.0 450.1L354.0 451.4L355.0 452.3L356.0 451.2L357.0 452.0L358.0 453.3L359.0 453.6L360.0 453.8L361.0 455.7L362.0 455.8L363.0 456.8L364.0 458.6L365.0 458.3L366.0 460.6L367.0 460.1L368.0 460.8L369.0 462.1L370.0 463.7L371.0 464.8L372.0 465.8L373.0 466.0L374.0 467.5L375.0 469.3L376.0 471.1L377.0 472.8L378.0 471.7L379.0 474.3L380.0 475.4L381.0 476.9L382.0 478.4L383.0 479.1L384.0 480.2L385.0 483.0L386.0 484.3L387.0 485.1L388.0 486.8L389.0 488.0L390.0 489.1L391.0 491.9L392.0 492.6L393.0 493.7L394.0 495.5L395.0 498.3L396.0 498.9L397.0 500.2L398.0 501.5L399.0 503.3L400.0 504.7L401.0 504.9L402.0 507.1L403.0 508.4L404.0 510.6L405.0 512.1L406.0 512.6L407.0 516.2L408.0 517.3L409.0 517.6L410.0 520.7L411.0 521.3L412.0 522.8L413.0 523.6L414.0 524.8L415.0 525.5L416.0 525.8L417.0 527.5L418.0 528.9L419.0 529.8L420.0 531.0L421.0 531.4L422.0 530.9L423.0 533.5L424.0 533.4L425.0 533.8L426.0 535.2L427.0 535.4L428.0 537.2L429.0 537.2L430.0 539.7L431.0 539.2L431.4 539.4L431.9 539.7L432.3 539.1L432.8 540.2L433.2 540.7L433.7 541.3L434.1 540.5L434.6 542.2L435.0 543.3L435.5 542.6L435.9 543.2L436.4 543.9L436.8 543.5L437.3 544.1L437.7 545.3L438.2 545.2L438.6 544.7L439.1 544.7L439.5 547.5L440.0 546.8L440.4 545.9L440.9 547.3L441.3 548.0L441.8 548.0L442.2 547.2L442.7 549.8L443.1 549.4L443.6 549.3L444.0 550.2L444.5 550.0L444.9 550.3L445.4 551.4L445.8 550.1L446.3 552.2L446.7 552.2L447.2 552.8L447.6 553.3L448.1 554.1L448.5 554.4L449.0 554.4L449.4 554.0L449.9 555.0L450.3 554.7L450.8 554.7L451.2 556.0L451.7 556.2L452.1 557.1L452.6 555.4L452.9 538.8L453.4 559.6L454.0 539.4L454.6 559.2L455.1 536.4L455.7 560.4L456.2 536.2L456.8 561.8L457.3 535.5L457.9 559.6L458.4 532.2L459.0 560.5L459.5 534.9L460.1 564.5L460.6 534.0L461.2 562.5L461.6 563.0L461.6 551.2L462.2 561.6L462.8 551.3L463.4 556.5L464.0 551.6L464.6 557.6L465.2 551.9L465.8 564.0L466.4 554.1L467.0 562.3L467.4 565.1L467.9 567.5L468.3 566.5L468.8 566.9L469.2 566.8L469.7 567.4L470.1 568.9L470.6 567.3L471.0 567.9L471.5 567.8L471.9 568.4L472.4 570.0L472.8 568.8L473.3 569.2L473.7 568.6L474.2 569.7L474.3 553.7L474.9 572.1L475.5 548.2L476.2 570.2L476.8 547.5L477.4 573.0L478.0 550.3L478.6 572.4L479.3 550.7L479.9 571.5L480.5 550.2L481.1 573.6L481.7 547.4L482.4 572.9L483.0 549.3L483.6 576.2L484.2 547.4L484.8 577.6L485.5 547.7L486.1 574.9L486.7 547.5L487.3 574.9L487.9 546.9L488.6 576.3L489.2 548.8L489.8 576.4L490.4 548.4L491.0 578.3L491.7 548.5L492.3 577.7L492.9 551.1L493.1 577.5L493.5 579.2L494.0 577.7L494.4 578.1L494.9 579.2L495.3 578.6L495.8 578.3L496.2 579.9L496.7 579.4L497.1 578.9L497.6 579.2L498.0 580.2L498.5 579.5L498.9 580.1L499.4 580.6L499.8 580.8L500.3 579.2L500.7 580.1L501.2 580.4L501.6 580.8L502.1 581.3L502.5 581.7L503.0 580.8L503.4 580.5L503.9 581.4L504.3 581.1L504.8 582.6L505.2 581.9L505.7 581.8L506.1 582.5L506.6 581.5L507.0 581.8L507.5 582.0L507.9 545.9L508.3 585.0L508.8 546.8L509.2 584.6L509.7 546.6L510.1 581.8L510.6 546.8L511.0 583.1L511.5 545.8L511.9 584.4L512.4 546.9L512.8 585.1L513.3 546.3L513.8 583.0L514.2 582.7L514.7 582.5L515.1 584.0L515.6 583.7L516.0 582.6L516.5 582.9L516.9 583.9L517.4 583.3L517.8 583.1L518.3 584.5L518.7 583.5L519.2 583.7L519.6 584.3L520.1 583.6L520.5 584.1L521.0 584.2L521.4 584.6L521.9 583.8L522.3 585.0L522.8 584.6L523.2 585.5L523.7 584.6L524.1 584.2L524.6 584.3L525.0 584.0L525.5 584.7L525.9 584.7L526.4 585.3L526.8 584.9L527.3 584.4L527.7 585.6L528.2 581.7L528.6 585.2L529.1 586.0L529.5 585.9L530.0 584.8L530.4 585.2L530.9 586.1L531.3 585.9L531.8 585.7L532.2 586.0L532.7 584.2L533.1 585.4L533.6 584.8L534.0 585.3L534.5 585.5L534.9 586.0L535.4 586.5L535.8 583.8L536.3 586.0L536.7 585.7L537.2 586.7L537.6 586.2L538.1 585.0L538.5 586.1L539.0 586.5L539.5 585.7L539.9 586.4L540.4 587.2L540.8 586.2L541.3 586.4L541.7 586.4L542.2 585.9L542.6 586.3L543.1 586.0L543.5 586.5L544.0 586.2L544.4 582.3L544.9 586.7L545.3 587.3L545.8 586.1L546.2 586.9L546.7 587.3L547.1 587.4L547.6 586.7L548.0 587.0L548.5 587.2L548.9 587.0L549.4 587.0L549.8 587.6L550.3 586.6L550.7 586.3L551.2 587.1L551.6 587.6L552.1 586.2L552.5 588.3L553.0 587.6L553.4 587.9L553.9 587.2L554.3 587.7L554.8 588.8L555.2 588.8L555.7 588.2L556.1 587.7L556.6 587.8L557.0 588.7L557.5 587.6L557.9 587.5L558.4 588.0L558.8 588.6L559.3 587.5L559.7 588.4L560.2 588.4L560.6 588.3L561.1 588.2L561.5 583.9L562.0 588.7L562.4 587.6L562.9 589.4L563.3 588.8L563.8 588.8L564.2 588.4L564.7 588.5L565.1 587.3L565.6 588.6L566.0 589.1L566.5 589.2L566.9 588.5L567.4 587.6L567.8 588.4L568.3 588.9L568.7 589.8L569.2 588.2L569.6 589.2L570.1 589.5L570.5 589.6L571.0 589.3L571.4 587.8L571.9 589.7L572.3 589.5L572.8 589.8L573.2 589.0L573.7 589.3L574.1 590.5L574.6 589.6L575.0 589.7L575.5 589.4L575.9 590.5L576.4 589.0L576.8 589.6L577.3 586.2L577.7 590.0L578.2 590.5L578.6 590.3L579.1 590.9L579.5 590.1L580.0 590.2L580.4 590.4L580.9 589.4L581.3 591.1L581.8 589.9L582.2 591.1L582.7 591.3L583.1 591.1L583.6 590.7L584.0 590.3L584.5 589.5L584.9 591.0L585.4 590.6L585.8 591.7L586.3 590.7L586.7 591.2L587.2 590.7L587.6 591.2L588.1 590.8L588.5 591.0L589.0 590.1L589.4 590.8L589.9 591.1L590.3 591.9L590.8 591.4L590.8 590.6L590.8 601.6L590.8 592.0" stroke="#ff0000" stroke-width="2.25" fill="none" stroke-linejoin="round"/>
<path d="M196.0 763.5L197.6 762.5L199.2 773.5L200.8 766.0L202.4 768.4L204.0 773.4L205.6 765.6L207.2 766.8L208.8 768.5L210.4 765.1L212.0 760.8L213.6 762.0L215.2 759.8L216.8 761.3L218.4 753.8L220.0 755.6L221.6 759.8L223.2 760.7L224.8 751.7L226.4 758.3L228.0 755.1L229.6 756.4L231.2 757.3L232.8 758.6L234.4 761.6L236.0 760.3L237.6 757.9L239.2 756.1L240.8 757.4L242.4 758.4L244.0 762.2L245.6 759.5L247.2 762.5L248.8 763.1L250.4 763.5L252.0 764.7L253.6 764.9L255.2 768.7L256.8 764.9L258.4 770.6L260.0 765.4L261.6 765.5L263.2 768.0L264.8 769.1L266.4 768.6L268.0 771.9L269.6 771.3L271.2 769.0L272.8 766.0L274.4 766.6L276.0 771.7L277.6 767.4L279.2 761.8L280.8 763.8L282.4 764.1L284.0 770.2L285.6 766.1L287.2 775.5L288.8 770.1L290.4 768.6L292.0 767.0L293.6 773.0L295.2 768.8L296.8 766.8L298.4 772.5L300.0 770.4L301.6 775.3L303.2 770.3L304.8 758.8L306.4 774.2L308.0 763.0L309.6 777.0L311.2 777.8L312.8 767.3L314.4 763.4L316.0 761.7L317.6 773.4L319.2 769.9L320.8 769.4L322.4 772.4L324.0 785.0L325.6 776.7L327.2 778.7L328.8 778.9" stroke="#d2cec6" stroke-width="2" fill="none" stroke-linejoin="round"/>
<path d="M326.0 771.5L326.6 771.3L327.2 773.3L327.8 772.8L328.4 766.4L329.0 771.9L329.6 775.4L330.2 775.4L330.8 776.4L331.4 775.0L332.0 777.1L332.6 775.5L333.2 774.8L333.8 776.7L334.4 769.0L335.0 775.7L335.6 778.4L336.2 776.0L336.8 777.5L337.4 776.9L338.0 777.6L338.6 775.6L339.2 776.9L339.8 774.1L340.4 776.4L341.0 775.2L341.6 777.7L342.2 778.2L342.8 777.4L343.4 774.7L344.0 774.6L344.6 776.3L345.2 775.2L345.8 775.7L346.4 778.5L347.0 780.3L347.6 777.4L348.2 778.2L348.8 779.6L349.4 780.7L350.0 779.9L350.6 779.9L351.2 781.4L351.8 781.6L352.4 781.1L353.0 779.0L353.6 778.4L354.2 783.4L354.8 783.9L355.4 783.3L356.0 785.4L356.6 785.9L357.2 784.5L357.8 787.7L358.4 785.7L359.0 787.0L359.6 778.9L360.2 785.4L360.8 786.3L361.4 786.8L362.0 789.4L362.6 788.0L363.2 790.7L363.8 789.6L364.4 791.9L365.0 791.6L365.6 791.0L366.2 794.1L366.8 782.4L367.4 795.3L368.0 792.6L368.6 793.4L369.2 793.4L369.8 795.8L370.4 795.5L371.0 799.9L371.6 792.6L372.2 800.1L372.8 801.1L373.4 802.1L374.0 802.4L374.6 799.8L375.2 803.2L375.8 798.0L376.4 800.7L377.0 802.4L377.6 801.8L378.2 804.7L378.8 801.4L379.4 802.8L380.0 804.4L380.6 807.1L381.2 804.9L381.8 806.4L382.4 807.8L383.0 806.4L383.6 809.4L384.2 812.3L384.8 811.4L385.4 815.0L386.0 815.7L386.6 811.9L387.2 812.0L387.8 811.0L388.4 812.5L389.0 815.7L389.6 820.1L390.2 817.1L390.8 813.7L391.4 815.4L392.0 818.4L392.6 819.1L393.2 821.5L393.8 817.5L394.4 823.6L395.0 816.6L395.6 819.2L396.2 824.0L396.8 821.9L397.4 825.5L398.0 824.4L398.6 808.5L399.2 821.0L399.8 822.9L400.4 825.2L401.0 822.0L401.6 819.5L402.2 824.8L402.8 828.7L403.4 829.2L404.0 829.4L404.6 821.4L405.2 822.3L405.8 823.4L406.4 830.3L407.0 829.8L407.6 826.0L408.2 824.3L408.8 830.1L409.4 833.2L410.0 820.6L410.6 831.5L411.2 812.9L411.8 833.3L412.4 828.2L413.0 826.8L413.6 828.1L414.2 831.9L414.8 828.3L415.4 825.3L416.0 832.6L416.6 831.6L417.2 827.0L417.8 829.9L418.4 827.1L419.0 828.0L419.6 826.2L420.2 827.2L420.8 834.3L421.4 834.0L422.0 827.8L422.6 826.4L423.2 829.2L423.8 831.5L424.4 833.6L425.0 827.8L425.6 827.4L426.2 835.7L426.8 834.4L427.4 827.7L428.0 827.4L428.6 833.1L429.2 833.4L429.8 831.6L430.4 830.2L431.0 834.9L431.6 826.5L432.2 829.6L432.8 826.6L433.4 832.3L434.0 823.9L434.6 825.9L435.2 830.1L435.8 823.0L436.4 825.4L437.0 823.4L437.6 825.8L438.2 831.4L438.8 823.3L439.4 827.8L440.0 825.1L440.6 828.7L441.2 819.1L441.8 824.0L442.4 819.9L443.0 828.0L443.6 822.9L444.2 827.2L444.8 817.3L445.4 821.7L446.0 825.5L446.6 824.8L447.2 818.9L447.8 823.6L448.4 821.8L449.0 818.2L449.6 816.9L450.2 815.3L450.8 814.2L451.4 816.5L452.0 813.0L452.6 817.7L453.2 815.7L453.8 809.0L454.4 815.9L455.0 814.5L455.6 813.7L456.2 810.3L456.8 815.3L457.4 814.4L458.0 808.7L458.6 805.2L459.2 804.9L459.8 803.0L460.4 804.9L461.0 802.9L461.6 805.9L462.2 809.4L462.8 803.2L463.4 804.3L464.0 801.0L464.6 805.9L465.2 804.1L465.8 784.7L466.4 802.4L467.0 800.0L467.6 793.0L468.2 800.3L468.8 801.3L469.4 787.2L470.0 794.8L470.6 793.6L471.2 799.8L471.8 782.5L472.4 798.9L473.0 795.3L473.6 789.0L474.2 796.1L474.8 792.6L475.4 783.4L476.0 782.9L476.6 788.2L477.2 784.3L477.8 784.9L478.4 776.8L479.0 780.7L479.6 788.5L480.2 779.7L480.8 788.7L481.4 767.8L482.0 779.6L482.6 781.8L483.2 778.3L483.8 772.4L484.4 775.6L485.0 781.3L485.6 777.7L486.2 767.2L486.8 771.2L487.4 779.3L488.0 778.3L488.6 769.5L489.2 775.9L489.8 778.9L490.4 770.1L491.0 773.3L491.6 768.7L492.2 771.5L492.8 770.7L493.4 771.2L494.0 772.4L494.6 752.0L495.2 765.5L495.8 764.7L496.4 762.9L497.0 770.7L497.6 761.8L498.2 762.1L498.8 766.2L499.4 765.0L500.0 770.4L500.6 761.8L501.2 768.9L501.8 763.9L502.4 768.8L503.0 769.1L503.6 761.8L504.2 762.9L504.8 760.2L505.4 750.9L506.0 755.5L506.6 766.7L507.2 759.3L507.8 759.6L508.4 758.3L509.0 759.3L509.6 758.7L510.2 754.3L510.8 759.4L511.4 757.9L512.0 755.6L512.6 763.0L513.2 758.2L513.8 762.2L514.4 753.7L515.0 762.8L515.6 759.8L516.2 759.4L516.8 755.1L517.4 754.1L518.0 750.4L518.6 754.5L519.2 748.9L519.8 755.1L520.4 750.2L521.0 752.4L521.6 751.1L522.2 755.5L522.8 742.5L523.4 748.2L524.0 756.2L524.6 750.7L525.2 744.3L525.8 756.6L526.4 752.9L527.0 746.8L527.6 755.9L528.2 746.1L528.8 748.2L529.4 743.4L530.0 747.9L530.6 742.4L531.2 750.1L531.8 731.2L532.4 753.6L533.0 746.5L533.6 748.0L534.2 740.1L534.8 740.4L535.4 751.1L536.0 742.5L536.6 750.9L537.2 749.7L537.8 742.2L538.4 744.4L539.0 744.3L539.6 745.0L540.2 751.1L540.8 745.6L541.4 737.0L542.0 739.2L542.6 725.4L543.2 747.4L543.8 737.1L544.4 743.8L545.0 740.9L545.6 746.5L546.2 744.6L546.8 743.5L547.4 743.3L548.0 748.3L548.6 739.2L549.2 745.9L549.8 739.7L550.4 739.4L551.0 738.2L551.6 743.8L552.2 743.6L552.8 737.0L553.4 742.1L554.0 745.3L554.6 734.6L555.2 747.1L555.8 734.6L556.4 743.0L557.0 741.6L557.6 733.0L558.2 740.6L558.8 736.6L559.4 740.8L560.0 733.6L560.6 736.2L561.2 739.6L561.8 745.2L562.4 741.1L563.0 739.1L563.6 742.0L564.2 738.3L564.8 743.0L565.4 738.7L566.0 738.1L566.6 735.9L567.2 734.8L567.8 734.9L568.4 725.4L569.0 738.8L569.6 732.5L570.2 740.0L570.8 734.3L571.4 730.4L572.0 725.2L572.6 736.9L573.2 740.5L573.8 735.6L574.4 734.6L575.0 736.9L575.6 739.6L576.2 737.8L576.8 741.9L577.4 738.6L578.0 742.3L578.6 734.3L579.2 729.7L579.8 742.0L580.4 743.9L581.0 732.8L581.6 738.7L582.2 736.3L582.8 743.1L583.4 741.3L584.0 733.1L584.6 734.5L585.2 730.5L585.8 728.7L586.4 738.1L587.0 733.9L587.6 736.6L588.2 735.6L588.8 737.4L589.4 728.0L590.0 733.6L590.6 741.2L590.6 769.7L590.0 769.2L589.4 794.7L588.8 777.7L588.2 779.7L587.6 773.4L587.0 770.1L586.4 780.7L585.8 783.3L585.2 775.9L584.6 773.7L584.0 774.4L583.4 781.6L582.8 778.2L582.2 773.0L581.6 773.2L581.0 767.0L580.4 775.3L579.8 778.5L579.2 780.2L578.6 770.9L578.0 774.4L577.4 781.3L576.8 777.1L576.2 768.0L575.6 777.7L575.0 778.6L574.4 778.9L573.8 778.5L573.2 778.6L572.6 774.1L572.0 767.5L571.4 772.0L570.8 780.2L570.2 780.9L569.6 768.3L569.0 767.6L568.4 774.5L567.8 772.4L567.2 767.7L566.6 776.7L566.0 779.9L565.4 768.1L564.8 772.6L564.2 775.2L563.6 778.9L563.0 770.5L562.4 769.1L561.8 776.3L561.2 769.2L560.6 781.5L560.0 771.8L559.4 797.0L558.8 790.7L558.2 778.8L557.6 772.1L557.0 774.0L556.4 771.4L555.8 772.2L555.2 773.3L554.6 769.4L554.0 775.6L553.4 788.9L552.8 777.4L552.2 774.7L551.6 772.5L551.0 775.1L550.4 775.4L549.8 771.9L549.2 779.8L548.6 777.5L548.0 781.9L547.4 776.5L546.8 781.3L546.2 774.0L545.6 770.6L545.0 781.4L544.4 772.5L543.8 782.3L543.2 778.1L542.6 780.4L542.0 777.7L541.4 775.0L540.8 782.3L540.2 780.3L539.6 774.2L539.0 776.5L538.4 793.2L537.8 780.4L537.2 782.3L536.6 773.5L536.0 784.8L535.4 784.1L534.8 781.4L534.2 784.6L533.6 779.2L533.0 782.8L532.4 781.3L531.8 783.0L531.2 781.1L530.6 775.3L530.0 777.8L529.4 797.6L528.8 791.8L528.2 782.0L527.6 787.2L527.0 777.9L526.4 780.5L525.8 779.7L525.2 784.6L524.6 781.9L524.0 781.9L523.4 790.6L522.8 786.5L522.2 789.7L521.6 781.1L521.0 791.8L520.4 787.6L519.8 790.7L519.2 781.7L518.6 788.0L518.0 781.7L517.4 784.5L516.8 792.5L516.2 796.8L515.6 783.8L515.0 793.6L514.4 795.1L513.8 784.3L513.2 790.1L512.6 786.8L512.0 795.1L511.4 787.0L510.8 785.8L510.2 786.7L509.6 790.1L509.0 793.4L508.4 789.2L507.8 794.3L507.2 794.1L506.6 791.7L506.0 787.5L505.4 787.7L504.8 798.6L504.2 804.4L503.6 798.9L503.0 788.8L502.4 800.4L501.8 790.0L501.2 793.8L500.6 796.2L500.0 799.0L499.4 793.0L498.8 803.0L498.2 800.1L497.6 809.1L497.0 797.3L496.4 798.1L495.8 800.0L495.2 799.1L494.6 797.9L494.0 796.6L493.4 801.5L492.8 804.5L492.2 805.3L491.6 802.2L491.0 801.3L490.4 798.7L489.8 803.3L489.2 801.5L488.6 799.5L488.0 801.2L487.4 806.1L486.8 806.4L486.2 812.7L485.6 810.2L485.0 804.4L484.4 809.6L483.8 809.5L483.2 810.1L482.6 814.0L482.0 809.6L481.4 806.8L480.8 807.7L480.2 811.7L479.6 815.8L479.0 812.1L478.4 818.7L477.8 817.7L477.2 822.5L476.6 814.4L476.0 817.2L475.4 825.3L474.8 824.8L474.2 820.1L473.6 821.3L473.0 822.8L472.4 825.8L471.8 824.8L471.2 827.0L470.6 825.8L470.0 824.6L469.4 831.9L468.8 821.2L468.2 821.4L467.6 826.8L467.0 830.8L466.4 833.5L465.8 827.0L465.2 824.7L464.6 829.3L464.0 825.5L463.4 827.1L462.8 832.5L462.2 830.0L461.6 836.1L461.0 832.9L460.4 838.6L459.8 830.2L459.2 840.9L458.6 831.5L458.0 842.4L457.4 836.4L456.8 835.4L456.2 841.0L455.6 838.3L455.0 844.7L454.4 840.8L453.8 838.3L453.2 840.9L452.6 844.4L452.0 843.7L451.4 841.9L450.8 849.0L450.2 844.4L449.6 842.3L449.0 850.2L448.4 842.6L447.8 847.4L447.2 845.0L446.6 844.7L446.0 851.3L445.4 847.8L444.8 851.9L444.2 851.7L443.6 857.5L443.0 849.3L442.4 847.8L441.8 846.4L441.2 851.9L440.6 853.3L440.0 857.8L439.4 847.8L438.8 854.7L438.2 856.6L437.6 858.4L437.0 859.9L436.4 860.4L435.8 857.2L435.2 850.8L434.6 852.1L434.0 861.7L433.4 859.7L432.8 854.0L432.2 855.5L431.6 852.6L431.0 858.2L430.4 854.9L429.8 862.5L429.2 854.4L428.6 863.3L428.0 858.1L427.4 858.3L426.8 862.6L426.2 854.9L425.6 865.6L425.0 871.9L424.4 853.2L423.8 861.0L423.2 860.1L422.6 867.7L422.0 861.6L421.4 853.9L420.8 853.7L420.2 853.2L419.6 854.3L419.0 860.8L418.4 852.6L417.8 856.3L417.2 853.4L416.6 853.1L416.0 855.5L415.4 856.3L414.8 854.4L414.2 852.7L413.6 858.9L413.0 850.7L412.4 853.2L411.8 858.5L411.2 851.3L410.6 851.7L410.0 863.2L409.4 855.1L408.8 848.4L408.2 851.0L407.6 853.5L407.0 850.9L406.4 849.5L405.8 851.4L405.2 852.5L404.6 852.7L404.0 846.0L403.4 852.1L402.8 843.8L402.2 851.0L401.6 846.4L401.0 846.7L400.4 841.6L399.8 846.3L399.2 844.0L398.6 849.1L398.0 840.7L397.4 844.1L396.8 844.0L396.2 840.9L395.6 845.5L395.0 843.4L394.4 838.7L393.8 844.8L393.2 841.2L392.6 846.6L392.0 844.3L391.4 839.2L390.8 837.1L390.2 836.8L389.6 836.0L389.0 836.5L388.4 837.5L387.8 841.8L387.2 831.4L386.6 834.7L386.0 836.9L385.4 830.7L384.8 831.8L384.2 833.5L383.6 827.3L383.0 833.8L382.4 826.0L381.8 825.6L381.2 826.5L380.6 823.6L380.0 824.8L379.4 828.1L378.8 821.3L378.2 820.1L377.6 824.4L377.0 818.6L376.4 821.1L375.8 819.9L375.2 817.1L374.6 816.8L374.0 816.7L373.4 816.9L372.8 817.0L372.2 819.0L371.6 813.6L371.0 812.1L370.4 816.9L369.8 812.2L369.2 815.7L368.6 815.2L368.0 808.8L367.4 812.7L366.8 813.0L366.2 807.0L365.6 807.0L365.0 808.8L364.4 807.4L363.8 813.6L363.2 805.8L362.6 804.2L362.0 807.1L361.4 803.4L360.8 801.4L360.2 806.0L359.6 805.2L359.0 803.3L358.4 802.0L357.8 803.9L357.2 803.0L356.6 805.9L356.0 807.6L355.4 795.6L354.8 799.9L354.2 796.2L353.6 797.4L353.0 793.6L352.4 794.7L351.8 796.8L351.2 796.1L350.6 792.2L350.0 791.4L349.4 795.9L348.8 791.7L348.2 792.8L347.6 794.4L347.0 793.1L346.4 789.3L345.8 791.3L345.2 790.1L344.6 788.8L344.0 789.5L343.4 789.3L342.8 790.4L342.2 792.1L341.6 788.4L341.0 790.0L340.4 787.4L339.8 787.7L339.2 789.5L338.6 789.2L338.0 789.9L337.4 787.4L336.8 787.8L336.2 789.7L335.6 786.1L335.0 790.4L334.4 785.6L333.8 786.0L333.2 787.3L332.6 784.7L332.0 787.0L331.4 786.1L330.8 786.9L330.2 782.5L329.6 786.0L329.0 783.7L328.4 783.6L327.8 781.8L327.2 783.9L326.6 781.2L326.0 782.7Z" fill="#d2cec6" stroke="#d2cec6" stroke-width="0.6" stroke-linejoin="round"/>
<path d="M326.0 743.3L326.6 742.5L327.2 739.9L327.8 738.8L328.4 737.2L329.0 736.7L329.6 733.3L330.2 734.0L330.8 731.9L331.4 729.9L332.0 727.6L332.6 727.5L333.2 724.4L333.8 722.7L334.4 723.3L335.0 720.6L335.6 720.6L336.2 717.2L336.8 717.1L337.4 712.7L338.0 712.1L338.6 708.5L339.2 706.8L339.8 704.3L340.4 704.0L341.0 702.1L341.6 698.4L342.2 697.5L342.8 693.9L343.4 692.9L344.0 690.6L344.6 687.3L345.2 686.6L345.8 685.9L346.4 683.9L347.0 680.9L347.6 679.2L348.2 677.3L348.8 676.5L349.4 674.5L350.0 674.2L350.6 672.5L351.2 671.1L351.8 671.9L352.4 670.5L353.0 668.8L353.6 667.9L354.2 668.4L354.8 666.8L355.4 665.9L356.0 664.4L356.6 665.4L357.2 664.0L357.8 664.8L358.4 663.5L359.0 664.0L359.6 661.5L360.2 662.6L360.8 661.1L361.4 662.0L362.0 660.4L362.6 661.5L363.2 661.5L363.8 660.6L364.4 659.6L365.0 659.4L365.6 660.0L366.2 661.3L366.8 659.8L367.4 660.8L368.0 659.4L368.6 657.0L369.2 660.3L369.8 660.3L370.4 662.0L371.0 660.5L371.6 662.6L372.2 661.7L372.8 662.8L373.4 662.1L374.0 664.6L374.6 664.8L375.2 663.8L375.8 664.9L376.4 661.5L377.0 665.4L377.6 667.2L378.2 667.3L378.8 669.1L379.4 668.8L380.0 670.8L380.6 673.4L381.2 674.0L381.8 673.9L382.4 676.6L383.0 678.3L383.6 677.5L384.2 680.3L384.8 680.0L385.4 679.2L386.0 684.6L386.6 685.7L387.2 687.1L387.8 687.4L388.4 688.8L389.0 691.3L389.6 694.3L390.2 694.4L390.8 696.2L391.4 697.6L392.0 700.6L392.6 703.2L393.2 703.6L393.8 703.4L394.4 706.1L395.0 708.7L395.6 709.0L396.2 712.2L396.8 716.2L397.4 716.4L398.0 719.8L398.6 721.2L399.2 723.3L399.8 724.8L400.4 726.8L401.0 731.1L401.6 733.2L402.2 733.8L402.8 737.1L403.4 737.4L404.0 739.6L404.6 741.2L405.2 743.6L405.8 745.9L406.4 745.8L407.0 748.1L407.6 751.9L408.2 753.4L408.8 753.6L409.4 756.4L410.0 757.7L410.6 755.4L411.2 761.0L411.8 756.6L412.4 762.7L413.0 764.5L413.6 766.7L414.2 766.9L414.8 766.7L415.4 766.8L416.0 770.7L416.6 771.3L417.2 769.9L417.8 770.0L418.4 772.5L419.0 770.5L419.6 770.7L420.2 771.1L420.8 772.4L421.4 772.0L422.0 772.4L422.6 770.6L423.2 772.5L423.8 772.6L424.4 766.1L425.0 768.2L425.6 770.0L426.2 770.7L426.8 770.3L427.4 773.2L428.0 771.6L428.6 770.3L429.2 770.2L429.8 771.2L430.4 769.7L431.0 773.2L431.6 771.9L432.2 772.2L432.8 771.6L433.4 772.0L434.0 772.8L434.6 771.4L435.2 769.3L435.8 770.2L436.4 768.0L437.0 770.1L437.6 769.0L438.2 768.7L438.8 766.9L439.4 767.5L440.0 766.8L440.6 768.9L441.2 765.7L441.8 769.0L442.4 764.9L443.0 765.6L443.6 767.4L444.2 759.0L444.8 764.1L445.4 760.7L446.0 767.0L446.6 767.7L447.2 763.0L447.8 765.6L448.4 765.0L449.0 765.4L449.6 761.4L450.2 763.8L450.8 764.8L451.4 761.9L452.0 764.5L452.6 758.4L453.2 759.6L453.8 762.7L454.4 758.9L455.0 764.0L455.6 760.8L456.2 760.2L456.8 757.7L457.4 757.6L458.0 759.9L458.6 758.1L459.2 750.8L459.8 757.7L460.4 756.1L461.0 756.0L461.6 758.6L462.2 757.3L462.8 760.2L463.4 758.3L464.0 755.2L464.6 756.9L465.2 758.7L465.8 759.6L466.4 758.6L467.0 759.2L467.6 758.2L468.2 757.0L468.8 759.2L469.4 753.4L470.0 756.3L470.6 754.9L471.2 754.3L471.8 757.7L472.4 757.8L473.0 757.1L473.6 751.0L474.2 757.2L474.8 752.3L475.4 751.2L476.0 753.1L476.6 757.2L477.2 750.5L477.8 754.1L478.4 751.4L479.0 754.2L479.6 752.0L480.2 755.8L480.8 749.0L481.4 751.4L482.0 754.2L482.6 752.5L483.2 754.2L483.8 755.4L484.4 750.8L485.0 751.8L485.6 748.4L486.2 753.5L486.8 751.3L487.4 749.3L488.0 754.1L488.6 751.6L489.2 748.7L489.8 752.3L490.4 751.1L491.0 749.2L491.6 750.5L492.2 746.3L492.8 746.3L493.4 746.4L494.0 749.8L494.6 751.7L495.2 747.7L495.8 749.4L496.4 748.6L497.0 747.1L497.6 744.4L498.2 745.5L498.8 751.5L499.4 737.5L500.0 742.6L500.6 749.3L501.2 745.5L501.8 747.7L502.4 746.7L503.0 746.5L503.6 750.3L504.2 748.2L504.8 747.4L505.4 750.8L506.0 744.4L506.6 748.1L507.2 746.5L507.8 741.9L508.4 729.2L509.0 748.1L509.6 746.8L510.2 745.0L510.8 749.3L511.4 742.5L512.0 747.1L512.6 734.9L513.2 743.0L513.8 744.8L514.4 749.6L515.0 744.1L515.6 742.0L516.2 749.4L516.8 742.9L517.4 746.9L518.0 744.9L518.6 748.6L519.2 739.5L519.8 739.4L520.4 746.0L521.0 748.4L521.6 740.0L522.2 738.9L522.8 743.6L523.4 723.7L524.0 738.9L524.6 740.7L525.2 739.6L525.8 731.5L526.4 739.2L527.0 743.8L527.6 745.2L528.2 742.0L528.8 738.6L529.4 729.6L530.0 747.2L530.6 744.8L531.2 744.7L531.8 739.9L532.4 736.9L533.0 741.4L533.6 744.8L534.2 738.4L534.8 745.9L535.4 746.8L536.0 739.8L536.6 743.0L537.2 742.0L537.8 746.4L538.4 741.5L539.0 739.9L539.6 735.3L540.2 746.8L540.8 740.7L541.4 725.5L542.0 724.6L542.6 734.7L543.2 739.2L543.8 739.7L544.4 740.5L545.0 736.7L545.6 735.2L546.2 742.5L546.8 737.4L547.4 738.2L548.0 741.7L548.6 736.1L549.2 737.4L549.8 739.9L550.4 738.8L551.0 733.8L551.6 737.8L552.2 737.8L552.8 741.0L553.4 735.7L554.0 734.4L554.6 741.8L555.2 741.5L555.8 736.8L556.4 741.9L557.0 744.6L557.6 741.7L558.2 736.1L558.8 738.7L559.4 737.5L560.0 736.8L560.6 738.0L561.2 732.0L561.8 734.0L562.4 731.8L563.0 735.5L563.6 733.8L564.2 734.5L564.8 731.7L565.4 740.1L566.0 740.3L566.6 744.7L567.2 743.9L567.8 730.9L568.4 737.8L569.0 742.9L569.6 743.1L570.2 737.0L570.8 734.9L571.4 732.1L572.0 736.0L572.6 739.4L573.2 733.9L573.8 741.5L574.4 739.2L575.0 742.4L575.6 733.8L576.2 735.9L576.8 737.3L577.4 688.6L578.0 731.0L578.6 737.8L579.2 729.7L579.8 739.6L580.4 733.8L581.0 720.9L581.6 741.0L582.2 740.8L582.8 731.5L583.4 742.1L584.0 735.9L584.6 742.1L585.2 728.0L585.8 729.9L586.4 739.6L587.0 729.6L587.6 731.1L588.2 741.5L588.8 738.8L589.4 732.6L590.0 731.4L590.6 737.4L590.6 772.9L590.0 779.5L589.4 780.3L588.8 785.2L588.2 768.6L587.6 779.2L587.0 776.8L586.4 770.3L585.8 774.8L585.2 770.7L584.6 779.4L584.0 781.8L583.4 774.3L582.8 777.2L582.2 777.8L581.6 779.5L581.0 791.1L580.4 783.9L579.8 769.0L579.2 772.8L578.6 771.4L578.0 780.3L577.4 771.4L576.8 777.4L576.2 781.4L575.6 766.6L575.0 768.4L574.4 779.7L573.8 775.6L573.2 767.4L572.6 778.6L572.0 766.1L571.4 775.7L570.8 779.1L570.2 770.0L569.6 766.5L569.0 770.8L568.4 777.3L567.8 768.8L567.2 767.9L566.6 770.7L566.0 775.7L565.4 768.2L564.8 771.0L564.2 776.4L563.6 772.5L563.0 775.6L562.4 777.6L561.8 771.2L561.2 776.9L560.6 776.2L560.0 775.1L559.4 774.9L558.8 769.8L558.2 766.0L557.6 773.2L557.0 766.2L556.4 776.3L555.8 774.4L555.2 775.4L554.6 768.2L554.0 777.0L553.4 778.1L552.8 776.3L552.2 766.5L551.6 769.8L551.0 774.1L550.4 767.7L549.8 772.9L549.2 768.8L548.6 771.5L548.0 773.0L547.4 773.1L546.8 784.7L546.2 765.0L545.6 772.9L545.0 780.9L544.4 769.5L543.8 771.0L543.2 768.9L542.6 766.3L542.0 771.3L541.4 767.4L540.8 773.3L540.2 774.2L539.6 770.8L539.0 772.2L538.4 776.2L537.8 768.3L537.2 774.5L536.6 772.6L536.0 775.1L535.4 767.5L534.8 775.1L534.2 769.5L533.6 766.2L533.0 771.7L532.4 766.6L531.8 770.4L531.2 765.1L530.6 774.9L530.0 770.3L529.4 770.3L528.8 772.9L528.2 765.7L527.6 775.4L527.0 771.8L526.4 767.4L525.8 768.6L525.2 771.9L524.6 771.5L524.0 772.6L523.4 770.9L522.8 769.5L522.2 774.6L521.6 774.2L521.0 765.0L520.4 771.6L519.8 769.1L519.2 771.1L518.6 782.9L518.0 767.4L517.4 772.7L516.8 769.1L516.2 767.5L515.6 778.8L515.0 773.6L514.4 764.8L513.8 765.8L513.2 767.4L512.6 768.8L512.0 771.8L511.4 772.8L510.8 772.4L510.2 770.0L509.6 771.4L509.0 768.4L508.4 773.4L507.8 771.7L507.2 765.3L506.6 773.9L506.0 773.4L505.4 767.5L504.8 765.7L504.2 770.2L503.6 769.6L503.0 767.0L502.4 774.4L501.8 770.7L501.2 765.9L500.6 772.6L500.0 766.0L499.4 767.4L498.8 772.8L498.2 767.3L497.6 766.0L497.0 773.3L496.4 771.7L495.8 772.7L495.2 766.6L494.6 768.9L494.0 768.9L493.4 772.1L492.8 773.8L492.2 769.2L491.6 773.4L491.0 773.9L490.4 774.7L489.8 769.8L489.2 772.6L488.6 771.6L488.0 773.6L487.4 770.4L486.8 782.3L486.2 769.0L485.6 771.0L485.0 770.2L484.4 770.3L483.8 770.3L483.2 769.1L482.6 767.8L482.0 769.3L481.4 774.5L480.8 773.9L480.2 772.4L479.6 769.4L479.0 770.1L478.4 772.5L477.8 769.6L477.2 772.9L476.6 768.7L476.0 770.9L475.4 776.0L474.8 769.9L474.2 772.1L473.6 774.1L473.0 770.4L472.4 775.2L471.8 774.9L471.2 772.7L470.6 772.9L470.0 773.7L469.4 773.3L468.8 771.8L468.2 772.5L467.6 770.3L467.0 776.6L466.4 774.0L465.8 771.3L465.2 774.2L464.6 771.7L464.0 773.7L463.4 773.7L462.8 773.2L462.2 777.4L461.6 775.7L461.0 776.4L460.4 772.6L459.8 773.4L459.2 772.8L458.6 775.8L458.0 776.0L457.4 773.1L456.8 777.5L456.2 776.1L455.6 773.0L455.0 777.2L454.4 776.4L453.8 774.8L453.2 776.1L452.6 776.7L452.0 779.6L451.4 775.4L450.8 776.1L450.2 775.7L449.6 775.1L449.0 782.1L448.4 775.8L447.8 775.4L447.2 776.3L446.6 778.5L446.0 778.9L445.4 777.9L444.8 781.4L444.2 780.8L443.6 778.7L443.0 781.1L442.4 778.7L441.8 782.0L441.2 780.3L440.6 780.9L440.0 780.8L439.4 779.5L438.8 779.1L438.2 781.1L437.6 785.1L437.0 781.0L436.4 781.9L435.8 783.0L435.2 782.7L434.6 783.8L434.0 782.8L433.4 780.3L432.8 782.5L432.2 780.7L431.6 782.8L431.0 780.8L430.4 783.9L429.8 783.0L429.2 782.8L428.6 783.7L428.0 788.5L427.4 782.5L426.8 781.6L426.2 780.0L425.6 782.6L425.0 780.5L424.4 779.7L423.8 783.2L423.2 782.4L422.6 782.4L422.0 781.8L421.4 780.7L420.8 781.3L420.2 780.5L419.6 779.4L419.0 780.7L418.4 780.0L417.8 781.2L417.2 779.9L416.6 779.6L416.0 776.7L415.4 775.9L414.8 775.3L414.2 775.8L413.6 774.1L413.0 776.5L412.4 769.9L411.8 770.0L411.2 768.2L410.6 767.5L410.0 765.2L409.4 764.4L408.8 759.8L408.2 758.3L407.6 758.5L407.0 758.8L406.4 757.7L405.8 751.9L405.2 749.0L404.6 750.8L404.0 745.4L403.4 744.6L402.8 743.4L402.2 739.1L401.6 739.9L401.0 736.8L400.4 734.6L399.8 732.0L399.2 729.4L398.6 728.8L398.0 726.0L397.4 724.9L396.8 725.0L396.2 723.1L395.6 717.1L395.0 715.6L394.4 713.0L393.8 710.9L393.2 710.4L392.6 707.0L392.0 705.7L391.4 705.6L390.8 702.4L390.2 701.2L389.6 698.7L389.0 698.6L388.4 696.4L387.8 694.9L387.2 694.0L386.6 691.1L386.0 689.1L385.4 690.1L384.8 687.3L384.2 687.6L383.6 685.3L383.0 683.8L382.4 683.6L381.8 681.4L381.2 680.3L380.6 680.5L380.0 676.6L379.4 677.5L378.8 676.8L378.2 678.6L377.6 674.7L377.0 673.3L376.4 672.5L375.8 673.7L375.2 671.6L374.6 671.1L374.0 669.1L373.4 670.8L372.8 668.4L372.2 673.3L371.6 668.7L371.0 669.3L370.4 667.6L369.8 668.5L369.2 666.6L368.6 666.0L368.0 666.7L367.4 666.2L366.8 667.3L366.2 666.7L365.6 667.5L365.0 668.4L364.4 666.7L363.8 666.5L363.2 669.2L362.6 668.0L362.0 668.0L361.4 669.9L360.8 668.9L360.2 670.2L359.6 671.0L359.0 670.2L358.4 669.8L357.8 669.7L357.2 670.7L356.6 673.1L356.0 673.7L355.4 673.7L354.8 673.6L354.2 673.6L353.6 676.6L353.0 675.4L352.4 678.0L351.8 679.1L351.2 680.3L350.6 685.1L350.0 680.4L349.4 681.0L348.8 684.0L348.2 684.1L347.6 686.2L347.0 688.3L346.4 689.4L345.8 691.4L345.2 692.9L344.6 695.0L344.0 698.4L343.4 704.5L342.8 700.5L342.2 705.0L341.6 704.5L341.0 707.4L340.4 709.4L339.8 712.8L339.2 714.3L338.6 715.3L338.0 718.3L337.4 719.4L336.8 721.8L336.2 723.5L335.6 726.5L335.0 726.3L334.4 729.7L333.8 729.8L333.2 732.2L332.6 732.5L332.0 738.4L331.4 736.7L330.8 738.3L330.2 737.9L329.6 739.2L329.0 742.6L328.4 745.9L327.8 744.3L327.2 746.9L326.6 747.3L326.0 748.8Z" fill="#d2cec6" stroke="#d2cec6" stroke-width="0.6" stroke-linejoin="round"/>
<path d="M84.8 762.4L122.0 753.6L146.0 760.0L162.0 764.0L174.0 761.6L184.0 755.2L194.0 760.0L202.0 768.0L208.0 768.8L216.0 760.0L224.0 755.2L232.0 760.0L240.0 756.8L248.0 763.2L256.0 764.8L264.0 768.0L272.0 767.2L284.0 766.0L296.0 770.0L308.0 771.0L316.0 768.0L320.0 771.0L321.2 771.9L322.4 772.9L323.6 774.4L324.8 775.5L326.0 776.6L327.2 776.8L328.4 777.8L329.6 779.4L330.8 779.4L332.0 780.1L333.2 780.7L334.4 782.0L335.6 782.1L336.8 782.5L338.0 782.9L339.2 782.9L340.4 783.2L341.6 783.1L342.8 783.5L344.0 783.8L345.2 784.3L346.4 784.2L347.6 785.1L348.8 785.7L350.0 786.3L351.2 787.2L352.4 788.7L353.6 789.4L354.8 790.2L356.0 791.4L357.2 792.8L358.4 793.1L359.6 794.7L360.8 796.2L362.0 797.4L363.2 798.3L364.4 799.3L365.6 799.8L366.8 801.3L368.0 802.7L369.2 804.0L370.4 805.3L371.6 805.7L372.8 807.5L374.0 809.0L375.2 810.0L376.4 811.5L377.6 813.1L378.8 814.6L380.0 816.0L381.2 817.7L382.4 819.4L383.6 820.5L384.8 821.7L386.0 823.2L387.2 824.6L388.4 826.0L389.6 826.7L390.8 827.9L392.0 829.0L393.2 830.3L394.4 830.9L395.6 831.5L396.8 832.5L398.0 833.1L399.2 833.9L400.4 834.9L401.6 835.5L402.8 836.3L404.0 837.4L405.2 837.9L406.4 839.0L407.6 839.2L408.8 840.5L410.0 841.8L411.2 841.8L412.4 842.4L413.6 842.6L414.8 842.7L416.0 843.4L417.2 843.5L418.4 844.1L419.6 843.7L420.8 844.1L422.0 844.2L423.2 844.2L424.4 844.8L425.6 844.3L426.8 844.4L428.0 845.3L429.2 844.4L430.4 844.1L431.6 843.9L432.8 843.0L434.0 842.8L435.2 841.7L436.4 841.2L437.6 840.4L438.8 840.2L440.0 839.3L441.2 838.9L442.4 838.0L443.6 836.4L444.8 835.8L446.0 834.4L447.2 833.3L448.4 832.6L449.6 831.5L450.8 829.9L452.0 828.7L453.2 827.5L454.4 826.3L455.6 825.1L456.8 823.6L458.0 822.9L459.2 821.3L460.4 820.0L461.6 819.1L462.8 818.1L464.0 817.0L465.2 815.7L466.4 814.4L467.6 812.9L468.8 811.9L470.0 810.6L471.2 809.3L472.4 807.6L473.6 806.9L474.8 805.3L476.0 803.9L477.2 802.3L478.4 800.8L479.6 799.8L480.8 797.8L482.0 796.8L483.2 795.6L484.4 794.5L485.6 793.0L486.8 792.2L488.0 790.0L489.2 789.8L490.4 788.3L491.6 787.4L492.8 786.0L494.0 785.5L495.2 784.2L496.4 783.6L497.6 782.3L498.8 782.1L500.0 781.2L501.2 779.9L502.4 779.7L503.6 778.9L504.8 778.5L506.0 777.3L507.2 776.9L508.4 776.5L509.6 775.1L510.8 775.3L512.0 774.1L513.2 773.3L514.4 772.3L515.6 771.5L516.8 771.7L518.0 770.7L519.2 770.0L520.4 769.9L521.6 769.2L522.8 768.5L524.0 767.4L525.2 766.7L526.4 767.0L527.6 766.2L528.8 765.6L530.0 765.7L531.2 764.5L532.4 764.2L533.6 764.3L534.8 763.3L536.0 762.5L537.2 762.0L538.4 762.2L539.6 761.0L540.8 761.2L542.0 761.1L543.2 760.1L544.4 760.0L545.6 759.4L546.8 759.5L548.0 758.9L549.2 758.3L550.4 758.4L551.6 758.1L552.8 757.7L554.0 757.7L555.2 757.2L556.4 757.2L557.6 757.5L558.8 756.6L560.0 757.1L561.2 756.9L562.4 756.6L563.6 757.1L564.8 756.8L566.0 756.3L567.2 756.5L568.4 756.6L569.6 755.8L570.8 756.2L572.0 756.0L573.2 756.1L574.4 756.5L575.6 755.6L576.8 755.6L578.0 755.3L579.2 755.7L580.4 755.7L581.6 754.7L582.8 755.8L584.0 755.8L585.2 754.5L586.4 754.8L587.6 755.3L588.8 755.2L590.0 755.5" stroke="#0000ff" stroke-width="2.1" fill="none" stroke-linejoin="round"/>
<path d="M84.8 756.0L122.0 757.2L146.0 761.2L162.0 750.0L174.0 753.6L184.0 754.0L194.0 757.6L212.0 757.6L224.0 753.6L234.0 760.0L244.0 758.0L256.0 760.0L264.0 762.0L268.0 760.0L276.0 766.0L284.0 765.2L296.0 770.0L308.0 772.0L316.0 768.8L320.0 763.8L321.2 761.9L322.4 758.7L323.6 755.1L324.8 750.5L326.0 747.0L327.2 743.3L328.4 740.4L329.6 737.6L330.8 734.1L332.0 731.2L333.2 728.5L334.4 725.4L335.6 722.6L336.8 719.2L338.0 715.2L339.2 710.6L340.4 706.9L341.6 702.2L342.8 698.1L344.0 694.3L345.2 690.3L346.4 686.2L347.6 683.0L348.8 680.0L350.0 677.7L351.2 675.9L352.4 673.6L353.6 672.4L354.8 670.5L356.0 669.3L357.2 667.8L358.4 667.1L359.6 666.0L360.8 665.7L362.0 664.8L363.2 664.5L364.4 664.0L365.6 663.8L366.8 663.6L368.0 663.6L369.2 663.7L370.4 664.5L371.6 665.1L372.8 665.6L374.0 666.9L375.2 667.5L376.4 668.9L377.6 670.5L378.8 672.4L380.0 674.7L381.2 676.6L382.4 679.7L383.6 681.6L384.8 684.8L386.0 687.4L387.2 689.8L388.4 693.3L389.6 696.4L390.8 699.6L392.0 703.6L393.2 707.2L394.4 710.7L395.6 714.8L396.8 718.5L398.0 722.7L399.2 727.3L400.4 730.9L401.6 735.3L402.8 739.3L404.0 743.1L405.2 746.9L406.4 750.7L407.6 754.1L408.8 757.5L410.0 760.4L411.2 764.3L412.4 767.0L413.6 769.9L414.8 771.5L416.0 773.5L417.2 775.1L418.4 776.1L419.6 776.0L420.8 776.8L422.0 776.7L423.2 776.8L424.4 776.6L425.6 777.3L426.8 777.1L428.0 777.2L429.2 776.9L430.4 777.4L431.6 777.3L432.8 776.9L434.0 777.0L435.2 776.1L436.4 776.1L437.6 775.6L438.8 775.1L440.0 774.3L441.2 773.9L442.4 773.6L443.6 773.2L444.8 772.5L446.0 772.1L447.2 771.6L448.4 771.5L449.6 770.8L450.8 770.2L452.0 769.5L453.2 769.0L454.4 768.7L455.6 768.0L456.8 767.9L458.0 767.5L459.2 767.0L460.4 766.7L461.6 766.4L462.8 765.7L464.0 765.9L465.2 764.9L466.4 765.5L467.6 764.5L468.8 764.5L470.0 764.1L471.2 764.0L472.4 763.5L473.6 763.5L474.8 762.8L476.0 763.0L477.2 762.6L478.4 762.5L479.6 762.4L480.8 761.7L482.0 761.6L483.2 761.3L484.4 761.3L485.6 761.1L486.8 761.0L488.0 760.7L489.2 760.5L490.4 760.4L491.6 760.3L492.8 760.1L494.0 760.2L495.2 759.5L496.4 759.5L497.6 759.0L498.8 759.0L500.0 759.1L501.2 759.1L502.4 758.5L503.6 758.6L504.8 758.3L506.0 758.3L507.2 758.1L508.4 757.8L509.6 757.3L510.8 757.3L512.0 757.6L513.2 757.3L514.4 757.7L515.6 757.1L516.8 757.2L518.0 756.7L519.2 756.6L520.4 756.8L521.6 757.0L522.8 756.7L524.0 756.5L525.2 756.6L526.4 756.6L527.6 756.5L528.8 756.3L530.0 756.1L531.2 756.0L532.4 756.1L533.6 756.1L534.8 755.8L536.0 756.4L537.2 756.1L538.4 755.8L539.6 756.1L540.8 756.4L542.0 755.9L543.2 755.9L544.4 756.0L545.6 755.5L546.8 755.6L548.0 755.6L549.2 755.8L550.4 755.3L551.6 755.7L552.8 755.5L554.0 755.5L555.2 755.4L556.4 755.8L557.6 755.3L558.8 755.2L560.0 755.5L561.2 755.3L562.4 755.5L563.6 755.4L564.8 755.4L566.0 755.3L567.2 755.0L568.4 754.9L569.6 755.7L570.8 755.0L572.0 755.3L573.2 755.0L574.4 755.2L575.6 755.1L576.8 755.5L578.0 755.1L579.2 754.8L580.4 754.9L581.6 755.2L582.8 755.3L584.0 755.5L585.2 755.5L586.4 754.8L587.6 755.1L588.8 754.9L590.0 755.2" stroke="#ff0000" stroke-width="2.1" fill="none" stroke-linejoin="round"/>
<path d="M51.8 755.5H631.0" stroke="#000" stroke-width="2.1" stroke-dasharray="10.3 5.8" stroke-dashoffset="1.6" fill="none"/>
<text x="51.80" y="209.90" fill="#000" text-anchor="middle" style="font-family:'Liberation Serif',serif;font-weight:bold;font-size:13.5px" >0</text>
<text x="116.16" y="209.90" fill="#000" text-anchor="middle" style="font-family:'Liberation Serif',serif;font-weight:bold;font-size:13.5px" >20</text>
<text x="180.51" y="209.90" fill="#000" text-anchor="middle" style="font-family:'Liberation Serif',serif;font-weight:bold;font-size:13.5px" >40</text>
<text x="244.87" y="209.90" fill="#000" text-anchor="middle" style="font-family:'Liberation Serif',serif;font-weight:bold;font-size:13.5px" >60</text>
<text x="309.22" y="209.90" fill="#000" text-anchor="middle" style="font-family:'Liberation Serif',serif;font-weight:bold;font-size:13.5px" >80</text>
<text x="373.58" y="209.90" fill="#000" text-anchor="middle" style="font-family:'Liberation Serif',serif;font-weight:bold;font-size:13.5px" >100</text>
<text x="437.93" y="209.90" fill="#000" text-anchor="middle" style="font-family:'Liberation Serif',serif;font-weight:bold;font-size:13.5px" >120</text>
<text x="502.29" y="209.90" fill="#000" text-anchor="middle" style="font-family:'Liberation Serif',serif;font-weight:bold;font-size:13.5px" >140</text>
<text x="566.64" y="209.90" fill="#000" text-anchor="middle" style="font-family:'Liberation Serif',serif;font-weight:bold;font-size:13.5px" >160</text>
<text x="631.00" y="209.90" fill="#000" text-anchor="middle" style="font-family:'Liberation Serif',serif;font-weight:bold;font-size:13.5px" >180</text>
<text x="46.60" y="163.40" fill="#000" text-anchor="end" style="font-family:'Liberation Serif',serif;font-weight:bold;font-size:13.5px" >10<tspan dy="-6.7" style="font-size:10px">-1</tspan></text>
<text x="46.60" y="115.40" fill="#000" text-anchor="end" style="font-family:'Liberation Serif',serif;font-weight:bold;font-size:13.5px" >10<tspan dy="-6.7" style="font-size:10px">0</tspan></text>
<text x="46.60" y="67.40" fill="#000" text-anchor="end" style="font-family:'Liberation Serif',serif;font-weight:bold;font-size:13.5px" >10<tspan dy="-6.7" style="font-size:10px">1</tspan></text>
<text x="46.60" y="19.40" fill="#000" text-anchor="end" style="font-family:'Liberation Serif',serif;font-weight:bold;font-size:13.5px" >10<tspan dy="-6.7" style="font-size:10px">2</tspan></text>
<text x="0.00" y="0.00" fill="#000" text-anchor="middle" style="font-family:'Liberation Serif',serif;font-weight:bold;font-size:16.5px" transform="translate(20.8,98.8) rotate(-90)">f [hz]</text>
<text x="319.50" y="228.60" fill="#000" text-anchor="start" style="font-family:'Liberation Serif',serif;font-weight:bold;font-size:15px" ><tspan style="font-style:italic">θ</tspan><tspan dy="6.5" style="font-size:11px">RB</tspan><tspan dy="-6.5"> [°]</tspan></text>
<text x="69.30" y="22.10" fill="#ff00ff" text-anchor="start" style="font-family:'Liberation Sans',sans-serif;font-weight:bold;font-size:13.5px" >(a)</text>
<line x1="51.80" y1="65.75" x2="631.00" y2="65.75" stroke="#ff00ff" stroke-width="1.7" stroke-dasharray="7.8 5" stroke-dashoffset="1.4"/>
<line x1="51.80" y1="76.95" x2="631.00" y2="76.95" stroke="#ff00ff" stroke-width="1.7" stroke-dasharray="7.8 5" stroke-dashoffset="1.4"/>
<line x1="51.80" y1="102.83" x2="631.00" y2="102.83" stroke="#ff00ff" stroke-width="1.7" stroke-dasharray="7.8 5" stroke-dashoffset="1.4"/>
<text x="326.00" y="33.40" fill="#0000e6" text-anchor="start" style="font-family:'Liberation Serif',serif;font-weight:bold;font-size:27.5px" >KAW</text>
<text x="554.50" y="122.80" fill="#f00000" text-anchor="start" style="font-family:'Liberation Serif',serif;font-weight:bold;font-size:26.3px" >ACW</text>
<text x="482.00" y="53.00" fill="#ff00ff" text-anchor="start" style="font-family:'Liberation Sans',sans-serif;font-weight:bold;font-size:13.3px" >k<tspan style="font-style:italic;font-family:'Liberation Serif'">ρ</tspan><tspan dy="6" style="font-size:11px">i</tspan><tspan dy="-6">=1</tspan></text>
<text x="482.00" y="90.00" fill="#ff00ff" text-anchor="start" style="font-family:'Liberation Sans',sans-serif;font-weight:bold;font-size:13.3px" >kd<tspan dy="6" style="font-size:11px">i</tspan><tspan dy="-6">=1</tspan></text>
<text x="482.00" y="112.60" fill="#ff00ff" text-anchor="start" style="font-family:'Liberation Sans',sans-serif;font-weight:bold;font-size:13.3px" >f<tspan dy="6" style="font-size:11px">ci</tspan><tspan dy="-6"></tspan></text>
<defs><linearGradient id="cb" x1="0" y1="1" x2="0" y2="0"><stop offset="0" stop-color="rgb(140,0,255)"/><stop offset="0.12" stop-color="rgb(0,0,255)"/><stop offset="0.335" stop-color="rgb(0,255,255)"/><stop offset="0.55" stop-color="rgb(0,255,0)"/><stop offset="0.78" stop-color="rgb(255,255,0)"/><stop offset="0.9" stop-color="rgb(255,128,0)"/><stop offset="0.97" stop-color="rgb(255,0,0)"/><stop offset="1" stop-color="rgb(255,0,0)"/></linearGradient></defs>
<rect x="638" y="4.40" width="15" height="187.60" fill="url(#cb)" stroke="#555555" stroke-width="1"/>
<text x="657.50" y="9.80" fill="#000" text-anchor="start" style="font-family:'Liberation Serif',serif;font-weight:bold;font-size:13px" >0.3</text>
<text x="657.50" y="102.90" fill="#000" text-anchor="start" style="font-family:'Liberation Serif',serif;font-weight:bold;font-size:13px" >0</text>
<text x="657.50" y="197.00" fill="#000" text-anchor="start" style="font-family:'Liberation Serif',serif;font-weight:bold;font-size:13px" >-0.3</text>
<text x="0.00" y="0.00" fill="#000" text-anchor="start" style="font-family:'Liberation Serif',serif;font-weight:bold;font-size:13.5px" transform="translate(693,106.5) rotate(-90)"><tspan style="font-style:italic">σ</tspan><tspan dy="6.5" dx="0.5" style="font-size:9.5px">m</tspan></text>
<rect x="51.80" y="244.60" width="579.20" height="623.40" fill="none" stroke="#555555" stroke-width="1"/>
<line x1="51.80" y1="642.50" x2="631.00" y2="642.50" stroke="#555555" stroke-width="1" />
<text x="50.80" y="889.00" fill="#000" text-anchor="middle" style="font-family:'Liberation Serif',serif;font-weight:bold;font-size:13.5px" >10<tspan dy="-6.7" style="font-size:10px">-2</tspan></text>
<text x="180.17" y="889.00" fill="#000" text-anchor="middle" style="font-family:'Liberation Serif',serif;font-weight:bold;font-size:13.5px" >10<tspan dy="-6.7" style="font-size:10px">-1</tspan></text>
<text x="309.54" y="889.00" fill="#000" text-anchor="middle" style="font-family:'Liberation Serif',serif;font-weight:bold;font-size:13.5px" >10<tspan dy="-6.7" style="font-size:10px">0</tspan></text>
<text x="438.91" y="889.00" fill="#000" text-anchor="middle" style="font-family:'Liberation Serif',serif;font-weight:bold;font-size:13.5px" >10<tspan dy="-6.7" style="font-size:10px">1</tspan></text>
<text x="568.28" y="889.00" fill="#000" text-anchor="middle" style="font-family:'Liberation Serif',serif;font-weight:bold;font-size:13.5px" >10<tspan dy="-6.7" style="font-size:10px">2</tspan></text>
<text x="46.60" y="613.50" fill="#000" text-anchor="end" style="font-family:'Liberation Serif',serif;font-weight:bold;font-size:13.5px" >10<tspan dy="-6.7" style="font-size:10px">-4</tspan></text>
<text x="46.60" y="541.14" fill="#000" text-anchor="end" style="font-family:'Liberation Serif',serif;font-weight:bold;font-size:13.5px" >10<tspan dy="-6.7" style="font-size:10px">-2</tspan></text>
<text x="46.60" y="468.78" fill="#000" text-anchor="end" style="font-family:'Liberation Serif',serif;font-weight:bold;font-size:13.5px" >10<tspan dy="-6.7" style="font-size:10px">0</tspan></text>
<text x="46.60" y="396.42" fill="#000" text-anchor="end" style="font-family:'Liberation Serif',serif;font-weight:bold;font-size:13.5px" >10<tspan dy="-6.7" style="font-size:10px">2</tspan></text>
<text x="46.60" y="324.06" fill="#000" text-anchor="end" style="font-family:'Liberation Serif',serif;font-weight:bold;font-size:13.5px" >10<tspan dy="-6.7" style="font-size:10px">4</tspan></text>
<text x="46.60" y="251.70" fill="#000" text-anchor="end" style="font-family:'Liberation Serif',serif;font-weight:bold;font-size:13.5px" >10<tspan dy="-6.7" style="font-size:10px">6</tspan></text>
<text x="46.60" y="647.09" fill="#000" text-anchor="end" style="font-family:'Liberation Serif',serif;font-weight:bold;font-size:13.5px" >0.4</text>
<text x="46.60" y="703.47" fill="#000" text-anchor="end" style="font-family:'Liberation Serif',serif;font-weight:bold;font-size:13.5px" >0.2</text>
<text x="46.60" y="759.85" fill="#000" text-anchor="end" style="font-family:'Liberation Serif',serif;font-weight:bold;font-size:13.5px" >0</text>
<text x="46.60" y="816.23" fill="#000" text-anchor="end" style="font-family:'Liberation Serif',serif;font-weight:bold;font-size:13.5px" >-0.2</text>
<text x="46.60" y="872.61" fill="#000" text-anchor="end" style="font-family:'Liberation Serif',serif;font-weight:bold;font-size:13.5px" >-0.4</text>
<path d="M653.00 98.60L651.00 98.60M90.74 244.60L90.74 247.60M90.74 639.50L90.74 645.50M90.74 868.00L90.74 865.00M113.52 244.60L113.52 247.60M113.52 639.50L113.52 645.50M113.52 868.00L113.52 865.00M129.69 244.60L129.69 247.60M129.69 639.50L129.69 645.50M129.69 868.00L129.69 865.00M142.22 244.60L142.22 247.60M142.22 639.50L142.22 645.50M142.22 868.00L142.22 865.00M152.47 244.60L152.47 247.60M152.47 639.50L152.47 645.50M152.47 868.00L152.47 865.00M161.13 244.60L161.13 247.60M161.13 639.50L161.13 645.50M161.13 868.00L161.13 865.00M168.63 244.60L168.63 247.60M168.63 639.50L168.63 645.50M168.63 868.00L168.63 865.00M175.25 244.60L175.25 247.60M175.25 639.50L175.25 645.50M175.25 868.00L175.25 865.00M181.17 244.60L181.17 250.60M181.17 636.50L181.17 648.50M181.17 868.00L181.17 862.00M220.11 244.60L220.11 247.60M220.11 639.50L220.11 645.50M220.11 868.00L220.11 865.00M242.89 244.60L242.89 247.60M242.89 639.50L242.89 645.50M242.89 868.00L242.89 865.00M259.06 244.60L259.06 247.60M259.06 639.50L259.06 645.50M259.06 868.00L259.06 865.00M271.59 244.60L271.59 247.60M271.59 639.50L271.59 645.50M271.59 868.00L271.59 865.00M281.84 244.60L281.84 247.60M281.84 639.50L281.84 645.50M281.84 868.00L281.84 865.00M290.50 244.60L290.50 247.60M290.50 639.50L290.50 645.50M290.50 868.00L290.50 865.00M298.00 244.60L298.00 247.60M298.00 639.50L298.00 645.50M298.00 868.00L298.00 865.00M304.62 244.60L304.62 247.60M304.62 639.50L304.62 645.50M304.62 868.00L304.62 865.00M310.54 244.60L310.54 250.60M310.54 636.50L310.54 648.50M310.54 868.00L310.54 862.00M349.48 244.60L349.48 247.60M349.48 639.50L349.48 645.50M349.48 868.00L349.48 865.00M372.26 244.60L372.26 247.60M372.26 639.50L372.26 645.50M372.26 868.00L372.26 865.00M388.43 244.60L388.43 247.60M388.43 639.50L388.43 645.50M388.43 868.00L388.43 865.00M400.96 244.60L400.96 247.60M400.96 639.50L400.96 645.50M400.96 868.00L400.96 865.00M411.21 244.60L411.21 247.60M411.21 639.50L411.21 645.50M411.21 868.00L411.21 865.00M419.87 244.60L419.87 247.60M419.87 639.50L419.87 645.50M419.87 868.00L419.87 865.00M427.37 244.60L427.37 247.60M427.37 639.50L427.37 645.50M427.37 868.00L427.37 865.00M433.99 244.60L433.99 247.60M433.99 639.50L433.99 645.50M433.99 868.00L433.99 865.00M439.91 244.60L439.91 250.60M439.91 636.50L439.91 648.50M439.91 868.00L439.91 862.00M478.85 244.60L478.85 247.60M478.85 639.50L478.85 645.50M478.85 868.00L478.85 865.00M501.63 244.60L501.63 247.60M501.63 639.50L501.63 645.50M501.63 868.00L501.63 865.00M517.79 244.60L517.79 247.60M517.79 639.50L517.79 645.50M517.79 868.00L517.79 865.00M530.33 244.60L530.33 247.60M530.33 639.50L530.33 645.50M530.33 868.00L530.33 865.00M540.58 244.60L540.58 247.60M540.58 639.50L540.58 645.50M540.58 868.00L540.58 865.00M549.24 244.60L549.24 247.60M549.24 639.50L549.24 645.50M549.24 868.00L549.24 865.00M556.74 244.60L556.74 247.60M556.74 639.50L556.74 645.50M556.74 868.00L556.74 865.00M563.36 244.60L563.36 247.60M563.36 639.50L563.36 645.50M563.36 868.00L563.36 865.00M569.28 244.60L569.28 250.60M569.28 636.50L569.28 648.50M569.28 868.00L569.28 862.00M608.22 244.60L608.22 247.60M608.22 639.50L608.22 645.50M608.22 868.00L608.22 865.00M631.00 244.60L631.00 247.60M631.00 639.50L631.00 645.50M631.00 868.00L631.00 865.00M51.80 631.69L54.80 631.69M631.00 631.69L628.00 631.69M51.80 625.32L54.80 625.32M631.00 625.32L628.00 625.32M51.80 620.80L54.80 620.80M631.00 620.80L628.00 620.80M51.80 617.29L54.80 617.29M631.00 617.29L628.00 617.29M51.80 614.43L54.80 614.43M631.00 614.43L628.00 614.43M51.80 612.00L54.80 612.00M631.00 612.00L628.00 612.00M51.80 609.91L54.80 609.91M631.00 609.91L628.00 609.91M51.80 608.06L54.80 608.06M631.00 608.06L628.00 608.06M51.80 606.40L57.80 606.40M631.00 606.40L625.00 606.40M51.80 595.51L54.80 595.51M631.00 595.51L628.00 595.51M51.80 589.14L54.80 589.14M631.00 589.14L628.00 589.14M51.80 584.62L54.80 584.62M631.00 584.62L628.00 584.62M51.80 581.11L54.80 581.11M631.00 581.11L628.00 581.11M51.80 578.25L54.80 578.25M631.00 578.25L628.00 578.25M51.80 575.82L54.80 575.82M631.00 575.82L628.00 575.82M51.80 573.73L54.80 573.73M631.00 573.73L628.00 573.73M51.80 571.88L54.80 571.88M631.00 571.88L628.00 571.88M51.80 570.22L54.80 570.22M631.00 570.22L628.00 570.22M51.80 559.33L54.80 559.33M631.00 559.33L628.00 559.33M51.80 552.96L54.80 552.96M631.00 552.96L628.00 552.96M51.80 548.44L54.80 548.44M631.00 548.44L628.00 548.44M51.80 544.93L54.80 544.93M631.00 544.93L628.00 544.93M51.80 542.07L54.80 542.07M631.00 542.07L628.00 542.07M51.80 539.64L54.80 539.64M631.00 539.64L628.00 539.64M51.80 537.55L54.80 537.55M631.00 537.55L628.00 537.55M51.80 535.70L54.80 535.70M631.00 535.70L628.00 535.70M51.80 534.04L57.80 534.04M631.00 534.04L625.00 534.04M51.80 523.15L54.80 523.15M631.00 523.15L628.00 523.15M51.80 516.78L54.80 516.78M631.00 516.78L628.00 516.78M51.80 512.26L54.80 512.26M631.00 512.26L628.00 512.26M51.80 508.75L54.80 508.75M631.00 508.75L628.00 508.75M51.80 505.89L54.80 505.89M631.00 505.89L628.00 505.89M51.80 503.46L54.80 503.46M631.00 503.46L628.00 503.46M51.80 501.37L54.80 501.37M631.00 501.37L628.00 501.37M51.80 499.52L54.80 499.52M631.00 499.52L628.00 499.52M51.80 497.86L54.80 497.86M631.00 497.86L628.00 497.86M51.80 486.97L54.80 486.97M631.00 486.97L628.00 486.97M51.80 480.60L54.80 480.60M631.00 480.60L628.00 480.60M51.80 476.08L54.80 476.08M631.00 476.08L628.00 476.08M51.80 472.57L54.80 472.57M631.00 472.57L628.00 472.57M51.80 469.71L54.80 469.71M631.00 469.71L628.00 469.71M51.80 467.28L54.80 467.28M631.00 467.28L628.00 467.28M51.80 465.19L54.80 465.19M631.00 465.19L628.00 465.19M51.80 463.34L54.80 463.34M631.00 463.34L628.00 463.34M51.80 461.68L57.80 461.68M631.00 461.68L625.00 461.68M51.80 450.79L54.80 450.79M631.00 450.79L628.00 450.79M51.80 444.42L54.80 444.42M631.00 444.42L628.00 444.42M51.80 439.90L54.80 439.90M631.00 439.90L628.00 439.90M51.80 436.39L54.80 436.39M631.00 436.39L628.00 436.39M51.80 433.53L54.80 433.53M631.00 433.53L628.00 433.53M51.80 431.10L54.80 431.10M631.00 431.10L628.00 431.10M51.80 429.01L54.80 429.01M631.00 429.01L628.00 429.01M51.80 427.16L54.80 427.16M631.00 427.16L628.00 427.16M51.80 425.50L54.80 425.50M631.00 425.50L628.00 425.50M51.80 414.61L54.80 414.61M631.00 414.61L628.00 414.61M51.80 408.24L54.80 408.24M631.00 408.24L628.00 408.24M51.80 403.72L54.80 403.72M631.00 403.72L628.00 403.72M51.80 400.21L54.80 400.21M631.00 400.21L628.00 400.21M51.80 397.35L54.80 397.35M631.00 397.35L628.00 397.35M51.80 394.92L54.80 394.92M631.00 394.92L628.00 394.92M51.80 392.83L54.80 392.83M631.00 392.83L628.00 392.83M51.80 390.98L54.80 390.98M631.00 390.98L628.00 390.98M51.80 389.32L57.80 389.32M631.00 389.32L625.00 389.32M51.80 378.43L54.80 378.43M631.00 378.43L628.00 378.43M51.80 372.06L54.80 372.06M631.00 372.06L628.00 372.06M51.80 367.54L54.80 367.54M631.00 367.54L628.00 367.54M51.80 364.03L54.80 364.03M631.00 364.03L628.00 364.03M51.80 361.17L54.80 361.17M631.00 361.17L628.00 361.17M51.80 358.74L54.80 358.74M631.00 358.74L628.00 358.74M51.80 356.65L54.80 356.65M631.00 356.65L628.00 356.65M51.80 354.80L54.80 354.80M631.00 354.80L628.00 354.80M51.80 353.14L54.80 353.14M631.00 353.14L628.00 353.14M51.80 342.25L54.80 342.25M631.00 342.25L628.00 342.25M51.80 335.88L54.80 335.88M631.00 335.88L628.00 335.88M51.80 331.36L54.80 331.36M631.00 331.36L628.00 331.36M51.80 327.85L54.80 327.85M631.00 327.85L628.00 327.85M51.80 324.99L54.80 324.99M631.00 324.99L628.00 324.99M51.80 322.56L54.80 322.56M631.00 322.56L628.00 322.56M51.80 320.47L54.80 320.47M631.00 320.47L628.00 320.47M51.80 318.62L54.80 318.62M631.00 318.62L628.00 318.62M51.80 316.96L57.80 316.96M631.00 316.96L625.00 316.96M51.80 306.07L54.80 306.07M631.00 306.07L628.00 306.07M51.80 299.70L54.80 299.70M631.00 299.70L628.00 299.70M51.80 295.18L54.80 295.18M631.00 295.18L628.00 295.18M51.80 291.67L54.80 291.67M631.00 291.67L628.00 291.67M51.80 288.81L54.80 288.81M631.00 288.81L628.00 288.81M51.80 286.38L54.80 286.38M631.00 286.38L628.00 286.38M51.80 284.29L54.80 284.29M631.00 284.29L628.00 284.29M51.80 282.44L54.80 282.44M631.00 282.44L628.00 282.44M51.80 280.78L54.80 280.78M631.00 280.78L628.00 280.78M51.80 269.89L54.80 269.89M631.00 269.89L628.00 269.89M51.80 263.52L54.80 263.52M631.00 263.52L628.00 263.52M51.80 259.00L54.80 259.00M631.00 259.00L628.00 259.00M51.80 255.49L54.80 255.49M631.00 255.49L628.00 255.49M51.80 252.63L54.80 252.63M631.00 252.63L628.00 252.63M51.80 250.20L54.80 250.20M631.00 250.20L628.00 250.20M51.80 248.11L54.80 248.11M631.00 248.11L628.00 248.11M51.80 246.26L54.80 246.26M631.00 246.26L628.00 246.26M51.80 244.60L57.80 244.60M631.00 244.60L625.00 244.60M51.80 698.87L57.80 698.87M631.00 698.87L625.00 698.87M51.80 755.25L57.80 755.25M631.00 755.25L625.00 755.25M51.80 811.63L57.80 811.63M631.00 811.63L625.00 811.63" stroke="#555555" stroke-width="1" fill="none"/>
<text x="0.00" y="0.00" fill="#000" text-anchor="middle" style="font-family:'Liberation Serif',serif;font-weight:bold;font-size:16px" transform="translate(17.3,444) rotate(-90)">PSD(<tspan style="font-style:italic">δ</tspan>B) [nT<tspan dy="-8.8" style="font-size:10.5px">2</tspan><tspan dy="8.8">/Hz]</tspan></text>
<text x="0.00" y="0.00" fill="#000" text-anchor="start" style="font-family:'Liberation Serif',serif;font-weight:bold;font-size:17.5px" transform="translate(12,765.3) rotate(-90)"><tspan style="font-style:italic">σ</tspan><tspan dy="7.3" dx="0.5" style="font-size:11.5px">m</tspan></text>
<text x="339.00" y="907.00" fill="#000" text-anchor="middle" style="font-family:'Liberation Serif',serif;font-weight:bold;font-size:16px" >Frequency [Hz]</text>
<text x="69.30" y="265.60" fill="#ff00ff" text-anchor="start" style="font-family:'Liberation Sans',sans-serif;font-weight:bold;font-size:13.5px" >(b)</text>
<text x="69.30" y="660.40" fill="#ff00ff" text-anchor="start" style="font-family:'Liberation Sans',sans-serif;font-weight:bold;font-size:13.5px" >(c)</text>
<text x="524.50" y="270.00" fill="#0000ff" text-anchor="start" style="font-family:'Liberation Sans',sans-serif;font-weight:bold;font-size:13.7px" ><tspan style="font-style:italic;font-family:'Liberation Serif';font-size:15px">θ</tspan><tspan dy="4.5" style="font-size:10.5px">RB</tspan><tspan dy="-4.5">: [80, 110]°</tspan></text>
<text x="524.50" y="289.50" fill="#ff0000" text-anchor="start" style="font-family:'Liberation Sans',sans-serif;font-weight:bold;font-size:13.7px" ><tspan style="font-style:italic;font-family:'Liberation Serif';font-size:15px">θ</tspan><tspan dy="4.5" style="font-size:10.5px">RB</tspan><tspan dy="-4.5">: [150, 180]°</tspan></text>
<text x="190.00" y="348.00" fill="#00e800" text-anchor="start" style="font-family:'Liberation Serif',serif;font-weight:bold;font-size:16px" ><tspan style="font-style:italic">f</tspan><tspan dy="-7" dx="1.5" style="font-size:11px">-1.56</tspan></text>
<text x="190.00" y="406.00" fill="#00e800" text-anchor="start" style="font-family:'Liberation Serif',serif;font-weight:bold;font-size:16px" ><tspan style="font-style:italic">f</tspan><tspan dy="-7" dx="1.5" style="font-size:11px">-1.8</tspan></text>
<text x="393.00" y="454.50" fill="#00e800" text-anchor="start" style="font-family:'Liberation Serif',serif;font-weight:bold;font-size:16px" ><tspan style="font-style:italic">f</tspan><tspan dy="-7" dx="1.5" style="font-size:11px">-3.73</tspan></text>
<text x="350.00" y="504.50" fill="#00e800" text-anchor="start" style="font-family:'Liberation Serif',serif;font-weight:bold;font-size:16px" ><tspan style="font-style:italic">f</tspan><tspan dy="-7" dx="1.5" style="font-size:11px">-4.93</tspan></text>
<path d="M326.7 613.6V635.7" stroke="#ff00ff" stroke-width="1.4" fill="none"/>
<path d="M326.7 641.7L321.7 628.7L326.7 632.7L331.7 628.7Z" fill="#ff00ff"/>
<path d="M394.4 613.6V635.7" stroke="#ff00ff" stroke-width="1.4" fill="none"/>
<path d="M394.4 641.7L389.4 628.7L394.4 632.7L399.4 628.7Z" fill="#ff00ff"/>
<path d="M425.3 623.4V635.7" stroke="#ff00ff" stroke-width="1.4" fill="none"/>
<path d="M425.3 641.7L420.3 628.7L425.3 632.7L430.3 628.7Z" fill="#ff00ff"/>
<text x="323.50" y="604.00" fill="#ff00ff" text-anchor="start" style="font-family:'Liberation Serif',serif;font-weight:bold;font-size:13.5px" >f<tspan dy="6" style="font-size:10px">ci</tspan><tspan dy="-6"></tspan></text>
<text x="382.30" y="604.00" fill="#ff00ff" text-anchor="start" style="font-family:'Liberation Serif',serif;font-weight:bold;font-size:13.5px" >kd<tspan dy="6" style="font-size:10px">i</tspan><tspan dy="-6">=1</tspan></text>
<text x="413.00" y="614.30" fill="#ff00ff" text-anchor="start" style="font-family:'Liberation Serif',serif;font-weight:bold;font-size:13.5px" >k<tspan style="font-style:italic">ρ</tspan><tspan dy="6" style="font-size:10px">i</tspan><tspan dy="-6">=1</tspan></text>
</svg>
</body></html>
